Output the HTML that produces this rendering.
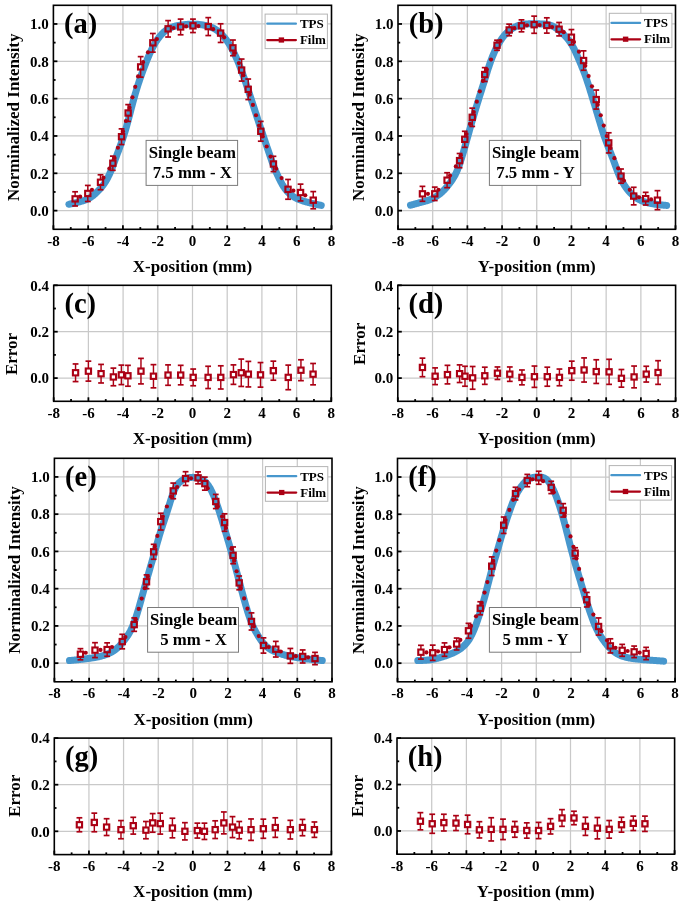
<!DOCTYPE html>
<html><head><meta charset="utf-8"><style>
html,body{margin:0;padding:0;background:#fff;}
svg{display:block;filter:blur(0.35px);}
text{font-family:"Liberation Serif", serif;font-weight:bold;fill:#000;}
.tk{font-size:15px;}
.tt{font-size:17px;}
.pl{font-size:28.5px;}
.bx{font-size:16.8px;}
.lg{font-size:13px;}
</style></head><body>
<svg width="685" height="901" viewBox="0 0 685 901">
<rect width="685" height="901" fill="#fff"/>
<line x1="88.16" y1="5.30" x2="88.16" y2="229.30" stroke="#c9c9c9" stroke-width="1.25"/>
<line x1="122.93" y1="5.30" x2="122.93" y2="229.30" stroke="#c9c9c9" stroke-width="1.25"/>
<line x1="157.69" y1="5.30" x2="157.69" y2="229.30" stroke="#c9c9c9" stroke-width="1.25"/>
<line x1="192.45" y1="5.30" x2="192.45" y2="229.30" stroke="#c9c9c9" stroke-width="1.25"/>
<line x1="227.21" y1="5.30" x2="227.21" y2="229.30" stroke="#c9c9c9" stroke-width="1.25"/>
<line x1="261.98" y1="5.30" x2="261.98" y2="229.30" stroke="#c9c9c9" stroke-width="1.25"/>
<line x1="296.74" y1="5.30" x2="296.74" y2="229.30" stroke="#c9c9c9" stroke-width="1.25"/>
<line x1="53.40" y1="210.63" x2="331.50" y2="210.63" stroke="#c9c9c9" stroke-width="1.25"/>
<line x1="53.40" y1="173.30" x2="331.50" y2="173.30" stroke="#c9c9c9" stroke-width="1.25"/>
<line x1="53.40" y1="135.97" x2="331.50" y2="135.97" stroke="#c9c9c9" stroke-width="1.25"/>
<line x1="53.40" y1="98.63" x2="331.50" y2="98.63" stroke="#c9c9c9" stroke-width="1.25"/>
<line x1="53.40" y1="61.30" x2="331.50" y2="61.30" stroke="#c9c9c9" stroke-width="1.25"/>
<line x1="53.40" y1="23.97" x2="331.50" y2="23.97" stroke="#c9c9c9" stroke-width="1.25"/>
<path d="M68.87,204.30 L69.50,204.16 L70.13,204.02 L70.77,203.88 L71.40,203.74 L72.03,203.60 L72.66,203.46 L73.30,203.32 L73.93,203.17 L74.56,203.03 L75.19,202.88 L75.83,202.73 L76.46,202.57 L77.09,202.42 L77.72,202.26 L78.36,202.10 L78.99,201.93 L79.62,201.76 L80.25,201.59 L80.89,201.41 L81.52,201.23 L82.15,201.05 L82.78,200.86 L83.42,200.66 L84.05,200.45 L84.68,200.23 L85.31,199.99 L85.95,199.75 L86.58,199.48 L87.21,199.21 L87.84,198.91 L88.48,198.60 L89.11,198.26 L89.74,197.91 L90.38,197.53 L91.01,197.12 L91.64,196.69 L92.27,196.23 L92.91,195.75 L93.54,195.23 L94.17,194.69 L94.80,194.12 L95.44,193.54 L96.07,192.93 L96.70,192.32 L97.33,191.69 L97.97,191.06 L98.60,190.41 L99.23,189.75 L99.86,189.08 L100.50,188.38 L101.13,187.66 L101.76,186.91 L102.39,186.13 L103.03,185.31 L103.66,184.45 L104.29,183.55 L104.92,182.60 L105.56,181.61 L106.19,180.56 L106.82,179.45 L107.45,178.29 L108.09,177.07 L108.72,175.79 L109.35,174.45 L109.98,173.05 L110.62,171.59 L111.25,170.08 L111.88,168.51 L112.51,166.91 L113.15,165.26 L113.78,163.58 L114.41,161.88 L115.04,160.15 L115.68,158.41 L116.31,156.67 L116.94,154.92 L117.57,153.18 L118.21,151.44 L118.84,149.71 L119.47,147.99 L120.10,146.26 L120.74,144.51 L121.37,142.74 L122.00,140.94 L122.63,139.10 L123.27,137.21 L123.90,135.28 L124.53,133.28 L125.16,131.21 L125.80,129.06 L126.43,126.84 L127.06,124.56 L127.69,122.23 L128.33,119.85 L128.96,117.44 L129.59,115.01 L130.22,112.57 L130.86,110.12 L131.49,107.68 L132.12,105.27 L132.75,102.88 L133.39,100.53 L134.02,98.22 L134.65,95.97 L135.28,93.78 L135.92,91.63 L136.55,89.53 L137.18,87.47 L137.81,85.46 L138.45,83.49 L139.08,81.57 L139.71,79.68 L140.34,77.83 L140.98,76.01 L141.61,74.23 L142.24,72.48 L142.87,70.76 L143.51,69.06 L144.14,67.40 L144.77,65.75 L145.40,64.13 L146.04,62.53 L146.67,60.95 L147.30,59.38 L147.93,57.84 L148.57,56.32 L149.20,54.84 L149.83,53.41 L150.46,52.01 L151.10,50.66 L151.73,49.36 L152.36,48.10 L152.99,46.89 L153.63,45.72 L154.26,44.59 L154.89,43.50 L155.52,42.45 L156.16,41.44 L156.79,40.47 L157.42,39.54 L158.05,38.65 L158.69,37.79 L159.32,36.98 L159.95,36.19 L160.58,35.45 L161.22,34.73 L161.85,34.05 L162.48,33.40 L163.11,32.79 L163.75,32.21 L164.38,31.65 L165.01,31.13 L165.64,30.64 L166.28,30.18 L166.91,29.74 L167.54,29.33 L168.18,28.95 L168.81,28.59 L169.44,28.26 L170.07,27.95 L170.71,27.67 L171.34,27.40 L171.97,27.15 L172.60,26.93 L173.24,26.71 L173.87,26.52 L174.50,26.34 L175.13,26.17 L175.77,26.02 L176.40,25.88 L177.03,25.75 L177.66,25.63 L178.30,25.51 L178.93,25.40 L179.56,25.30 L180.19,25.20 L180.83,25.11 L181.46,25.02 L182.09,24.93 L182.72,24.85 L183.36,24.77 L183.99,24.70 L184.62,24.62 L185.25,24.56 L185.89,24.49 L186.52,24.44 L187.15,24.38 L187.78,24.34 L188.42,24.29 L189.05,24.25 L189.68,24.22 L190.31,24.20 L190.95,24.17 L191.58,24.16 L192.21,24.15 L192.84,24.15 L193.48,24.15 L194.11,24.16 L194.74,24.18 L195.37,24.20 L196.01,24.23 L196.64,24.26 L197.27,24.30 L197.90,24.35 L198.54,24.41 L199.17,24.47 L199.80,24.54 L200.43,24.61 L201.07,24.70 L201.70,24.79 L202.33,24.88 L202.96,24.99 L203.60,25.10 L204.23,25.21 L204.86,25.34 L205.49,25.47 L206.13,25.61 L206.76,25.77 L207.39,25.93 L208.02,26.10 L208.66,26.29 L209.29,26.49 L209.92,26.71 L210.55,26.94 L211.19,27.18 L211.82,27.45 L212.45,27.73 L213.08,28.03 L213.72,28.35 L214.35,28.69 L214.98,29.05 L215.61,29.43 L216.25,29.84 L216.88,30.27 L217.51,30.72 L218.14,31.20 L218.78,31.71 L219.41,32.24 L220.04,32.80 L220.67,33.38 L221.31,33.99 L221.94,34.63 L222.57,35.30 L223.20,35.99 L223.84,36.72 L224.47,37.47 L225.10,38.26 L225.73,39.08 L226.37,39.93 L227.00,40.81 L227.63,41.72 L228.26,42.67 L228.90,43.65 L229.53,44.66 L230.16,45.71 L230.79,46.79 L231.43,47.91 L232.06,49.07 L232.69,50.26 L233.32,51.49 L233.96,52.76 L234.59,54.07 L235.22,55.41 L235.85,56.80 L236.49,58.22 L237.12,59.69 L237.75,61.19 L238.38,62.73 L239.02,64.31 L239.65,65.92 L240.28,67.56 L240.91,69.22 L241.55,70.92 L242.18,72.65 L242.81,74.40 L243.45,76.17 L244.08,77.96 L244.71,79.77 L245.34,81.60 L245.98,83.45 L246.61,85.31 L247.24,87.19 L247.87,89.07 L248.51,90.97 L249.14,92.88 L249.77,94.80 L250.40,96.72 L251.04,98.66 L251.67,100.59 L252.30,102.53 L252.93,104.47 L253.57,106.42 L254.20,108.36 L254.83,110.31 L255.46,112.25 L256.10,114.19 L256.73,116.14 L257.36,118.07 L257.99,120.01 L258.63,121.94 L259.26,123.87 L259.89,125.80 L260.52,127.72 L261.16,129.63 L261.79,131.54 L262.42,133.44 L263.05,135.34 L263.69,137.23 L264.32,139.11 L264.95,140.98 L265.58,142.84 L266.22,144.69 L266.85,146.54 L267.48,148.39 L268.11,150.23 L268.75,152.07 L269.38,153.91 L270.01,155.75 L270.64,157.60 L271.28,159.43 L271.91,161.25 L272.54,163.02 L273.17,164.73 L273.81,166.38 L274.44,167.98 L275.07,169.52 L275.70,171.02 L276.34,172.47 L276.97,173.89 L277.60,175.27 L278.23,176.62 L278.87,177.95 L279.50,179.25 L280.13,180.52 L280.76,181.76 L281.40,182.95 L282.03,184.09 L282.66,185.18 L283.29,186.21 L283.93,187.18 L284.56,188.10 L285.19,188.96 L285.82,189.78 L286.46,190.55 L287.09,191.28 L287.72,191.96 L288.35,192.61 L288.99,193.21 L289.62,193.79 L290.25,194.33 L290.88,194.85 L291.52,195.34 L292.15,195.80 L292.78,196.24 L293.41,196.65 L294.05,197.05 L294.68,197.42 L295.31,197.77 L295.94,198.11 L296.58,198.42 L297.21,198.72 L297.84,199.01 L298.47,199.28 L299.11,199.55 L299.74,199.80 L300.37,200.04 L301.00,200.27 L301.64,200.49 L302.27,200.71 L302.90,200.92 L303.53,201.12 L304.17,201.32 L304.80,201.51 L305.43,201.69 L306.06,201.87 L306.70,202.05 L307.33,202.22 L307.96,202.39 L308.59,202.55 L309.23,202.71 L309.86,202.87 L310.49,203.02 L311.12,203.17 L311.76,203.32 L312.39,203.47 L313.02,203.62 L313.65,203.76 L314.29,203.90 L314.92,204.04 L315.55,204.19 L316.18,204.32 L316.82,204.46 L317.45,204.60 L318.08,204.74 L318.71,204.87 L319.35,205.01 L319.98,205.14 L320.61,205.28 L321.25,205.41" fill="none" stroke="#4797cd" stroke-width="7" stroke-linecap="round" stroke-linejoin="round"/>
<mask id="mA" maskUnits="userSpaceOnUse" x="0" y="0" width="685" height="901"><rect width="685" height="901" fill="#fff"/><rect x="72.13" y="195.87" width="6.0" height="6.0" fill="#000"/><rect x="84.81" y="190.46" width="6.0" height="6.0" fill="#000"/><rect x="97.50" y="179.26" width="6.0" height="6.0" fill="#000"/><rect x="109.84" y="160.22" width="6.0" height="6.0" fill="#000"/><rect x="118.53" y="133.71" width="6.0" height="6.0" fill="#000"/><rect x="125.14" y="110.01" width="6.0" height="6.0" fill="#000"/><rect x="137.65" y="63.90" width="6.0" height="6.0" fill="#000"/><rect x="149.82" y="39.82" width="6.0" height="6.0" fill="#000"/><rect x="165.12" y="25.82" width="6.0" height="6.0" fill="#000"/><rect x="177.63" y="23.95" width="6.0" height="6.0" fill="#000"/><rect x="189.97" y="22.83" width="6.0" height="6.0" fill="#000"/><rect x="205.27" y="23.58" width="6.0" height="6.0" fill="#000"/><rect x="217.61" y="30.11" width="6.0" height="6.0" fill="#000"/><rect x="229.95" y="44.86" width="6.0" height="6.0" fill="#000"/><rect x="238.64" y="67.07" width="6.0" height="6.0" fill="#000"/><rect x="245.24" y="86.30" width="6.0" height="6.0" fill="#000"/><rect x="257.76" y="128.30" width="6.0" height="6.0" fill="#000"/><rect x="270.45" y="160.97" width="6.0" height="6.0" fill="#000"/><rect x="285.05" y="186.35" width="6.0" height="6.0" fill="#000"/><rect x="297.56" y="189.53" width="6.0" height="6.0" fill="#000"/><rect x="310.25" y="197.18" width="6.0" height="6.0" fill="#000"/></mask>
<g fill="#ab0014" mask="url(#mA)"><circle cx="80.19" cy="196.72" r="2.1"/><circle cx="91.94" cy="189.82" r="2.1"/><circle cx="103.49" cy="177.64" r="2.1"/><circle cx="109.37" cy="168.58" r="2.1"/><circle cx="114.56" cy="157.99" r="2.1"/><circle cx="117.92" cy="147.73" r="2.1"/><circle cx="123.01" cy="131.42" r="2.1"/><circle cx="125.91" cy="121.01" r="2.1"/><circle cx="129.58" cy="107.70" r="2.1"/><circle cx="132.41" cy="97.28" r="2.1"/><circle cx="135.24" cy="86.85" r="2.1"/><circle cx="138.07" cy="76.43" r="2.1"/><circle cx="143.13" cy="61.99" r="2.1"/><circle cx="148.00" cy="52.35" r="2.1"/><circle cx="156.88" cy="39.11" r="2.1"/><circle cx="173.56" cy="28.01" r="2.1"/><circle cx="186.11" cy="26.46" r="2.1"/><circle cx="198.46" cy="26.10" r="2.1"/><circle cx="213.13" cy="29.15" r="2.1"/><circle cx="224.14" cy="37.33" r="2.1"/><circle cx="234.95" cy="52.98" r="2.1"/><circle cx="238.89" cy="63.04" r="2.1"/><circle cx="243.43" cy="75.27" r="2.1"/><circle cx="249.81" cy="94.57" r="2.1"/><circle cx="252.90" cy="104.92" r="2.1"/><circle cx="255.98" cy="115.27" r="2.1"/><circle cx="259.07" cy="125.62" r="2.1"/><circle cx="262.75" cy="136.43" r="2.1"/><circle cx="266.66" cy="146.49" r="2.1"/><circle cx="270.57" cy="156.56" r="2.1"/><circle cx="276.19" cy="168.73" r="2.1"/><circle cx="281.57" cy="178.10" r="2.1"/><circle cx="293.38" cy="190.71" r="2.1"/><circle cx="305.27" cy="195.37" r="2.1"/></g>
<line x1="75.13" y1="191.78" x2="75.13" y2="196.22" stroke="#ab0014" stroke-width="1.45"/>
<line x1="75.13" y1="201.52" x2="75.13" y2="205.97" stroke="#ab0014" stroke-width="1.45"/>
<line x1="72.23" y1="191.78" x2="78.03" y2="191.78" stroke="#ab0014" stroke-width="1.7"/>
<line x1="72.23" y1="205.97" x2="78.03" y2="205.97" stroke="#ab0014" stroke-width="1.7"/>
<rect x="72.48" y="196.22" width="5.3" height="5.3" fill="none" stroke="#ab0014" stroke-width="2.1"/>
<line x1="87.81" y1="185.43" x2="87.81" y2="190.81" stroke="#ab0014" stroke-width="1.45"/>
<line x1="87.81" y1="196.11" x2="87.81" y2="201.49" stroke="#ab0014" stroke-width="1.45"/>
<line x1="84.91" y1="185.43" x2="90.71" y2="185.43" stroke="#ab0014" stroke-width="1.7"/>
<line x1="84.91" y1="201.49" x2="90.71" y2="201.49" stroke="#ab0014" stroke-width="1.7"/>
<rect x="85.16" y="190.81" width="5.3" height="5.3" fill="none" stroke="#ab0014" stroke-width="2.1"/>
<line x1="100.50" y1="174.79" x2="100.50" y2="179.61" stroke="#ab0014" stroke-width="1.45"/>
<line x1="100.50" y1="184.91" x2="100.50" y2="189.73" stroke="#ab0014" stroke-width="1.45"/>
<line x1="97.60" y1="174.79" x2="103.40" y2="174.79" stroke="#ab0014" stroke-width="1.7"/>
<line x1="97.60" y1="189.73" x2="103.40" y2="189.73" stroke="#ab0014" stroke-width="1.7"/>
<rect x="97.85" y="179.61" width="5.3" height="5.3" fill="none" stroke="#ab0014" stroke-width="2.1"/>
<line x1="112.84" y1="156.13" x2="112.84" y2="160.57" stroke="#ab0014" stroke-width="1.45"/>
<line x1="112.84" y1="165.87" x2="112.84" y2="170.31" stroke="#ab0014" stroke-width="1.45"/>
<line x1="109.94" y1="156.13" x2="115.74" y2="156.13" stroke="#ab0014" stroke-width="1.7"/>
<line x1="109.94" y1="170.31" x2="115.74" y2="170.31" stroke="#ab0014" stroke-width="1.7"/>
<rect x="110.19" y="160.57" width="5.3" height="5.3" fill="none" stroke="#ab0014" stroke-width="2.1"/>
<line x1="121.53" y1="128.87" x2="121.53" y2="134.06" stroke="#ab0014" stroke-width="1.45"/>
<line x1="121.53" y1="139.36" x2="121.53" y2="144.55" stroke="#ab0014" stroke-width="1.45"/>
<line x1="118.63" y1="128.87" x2="124.43" y2="128.87" stroke="#ab0014" stroke-width="1.7"/>
<line x1="118.63" y1="144.55" x2="124.43" y2="144.55" stroke="#ab0014" stroke-width="1.7"/>
<rect x="118.88" y="134.06" width="5.3" height="5.3" fill="none" stroke="#ab0014" stroke-width="2.1"/>
<line x1="128.14" y1="104.61" x2="128.14" y2="110.36" stroke="#ab0014" stroke-width="1.45"/>
<line x1="128.14" y1="115.66" x2="128.14" y2="121.41" stroke="#ab0014" stroke-width="1.45"/>
<line x1="125.24" y1="104.61" x2="131.04" y2="104.61" stroke="#ab0014" stroke-width="1.7"/>
<line x1="125.24" y1="121.41" x2="131.04" y2="121.41" stroke="#ab0014" stroke-width="1.7"/>
<rect x="125.49" y="110.36" width="5.3" height="5.3" fill="none" stroke="#ab0014" stroke-width="2.1"/>
<line x1="140.65" y1="56.63" x2="140.65" y2="64.25" stroke="#ab0014" stroke-width="1.45"/>
<line x1="140.65" y1="69.55" x2="140.65" y2="77.17" stroke="#ab0014" stroke-width="1.45"/>
<line x1="137.75" y1="56.63" x2="143.55" y2="56.63" stroke="#ab0014" stroke-width="1.7"/>
<line x1="137.75" y1="77.17" x2="143.55" y2="77.17" stroke="#ab0014" stroke-width="1.7"/>
<rect x="138.00" y="64.25" width="5.3" height="5.3" fill="none" stroke="#ab0014" stroke-width="2.1"/>
<line x1="152.82" y1="33.49" x2="152.82" y2="40.17" stroke="#ab0014" stroke-width="1.45"/>
<line x1="152.82" y1="45.47" x2="152.82" y2="52.15" stroke="#ab0014" stroke-width="1.45"/>
<line x1="149.92" y1="33.49" x2="155.72" y2="33.49" stroke="#ab0014" stroke-width="1.7"/>
<line x1="149.92" y1="52.15" x2="155.72" y2="52.15" stroke="#ab0014" stroke-width="1.7"/>
<rect x="150.17" y="40.17" width="5.3" height="5.3" fill="none" stroke="#ab0014" stroke-width="2.1"/>
<line x1="168.12" y1="20.61" x2="168.12" y2="26.17" stroke="#ab0014" stroke-width="1.45"/>
<line x1="168.12" y1="31.47" x2="168.12" y2="37.03" stroke="#ab0014" stroke-width="1.45"/>
<line x1="165.22" y1="20.61" x2="171.02" y2="20.61" stroke="#ab0014" stroke-width="1.7"/>
<line x1="165.22" y1="37.03" x2="171.02" y2="37.03" stroke="#ab0014" stroke-width="1.7"/>
<rect x="165.47" y="26.17" width="5.3" height="5.3" fill="none" stroke="#ab0014" stroke-width="2.1"/>
<line x1="180.63" y1="19.11" x2="180.63" y2="24.30" stroke="#ab0014" stroke-width="1.45"/>
<line x1="180.63" y1="29.60" x2="180.63" y2="34.79" stroke="#ab0014" stroke-width="1.45"/>
<line x1="177.73" y1="19.11" x2="183.53" y2="19.11" stroke="#ab0014" stroke-width="1.7"/>
<line x1="177.73" y1="34.79" x2="183.53" y2="34.79" stroke="#ab0014" stroke-width="1.7"/>
<rect x="177.98" y="24.30" width="5.3" height="5.3" fill="none" stroke="#ab0014" stroke-width="2.1"/>
<line x1="192.97" y1="19.11" x2="192.97" y2="23.18" stroke="#ab0014" stroke-width="1.45"/>
<line x1="192.97" y1="28.48" x2="192.97" y2="32.55" stroke="#ab0014" stroke-width="1.45"/>
<line x1="190.07" y1="19.11" x2="195.87" y2="19.11" stroke="#ab0014" stroke-width="1.7"/>
<line x1="190.07" y1="32.55" x2="195.87" y2="32.55" stroke="#ab0014" stroke-width="1.7"/>
<rect x="190.32" y="23.18" width="5.3" height="5.3" fill="none" stroke="#ab0014" stroke-width="2.1"/>
<line x1="208.27" y1="17.62" x2="208.27" y2="23.93" stroke="#ab0014" stroke-width="1.45"/>
<line x1="208.27" y1="29.23" x2="208.27" y2="35.54" stroke="#ab0014" stroke-width="1.45"/>
<line x1="205.37" y1="17.62" x2="211.17" y2="17.62" stroke="#ab0014" stroke-width="1.7"/>
<line x1="205.37" y1="35.54" x2="211.17" y2="35.54" stroke="#ab0014" stroke-width="1.7"/>
<rect x="205.62" y="23.93" width="5.3" height="5.3" fill="none" stroke="#ab0014" stroke-width="2.1"/>
<line x1="220.61" y1="23.78" x2="220.61" y2="30.46" stroke="#ab0014" stroke-width="1.45"/>
<line x1="220.61" y1="35.76" x2="220.61" y2="42.45" stroke="#ab0014" stroke-width="1.45"/>
<line x1="217.71" y1="23.78" x2="223.51" y2="23.78" stroke="#ab0014" stroke-width="1.7"/>
<line x1="217.71" y1="42.45" x2="223.51" y2="42.45" stroke="#ab0014" stroke-width="1.7"/>
<rect x="217.96" y="30.46" width="5.3" height="5.3" fill="none" stroke="#ab0014" stroke-width="2.1"/>
<line x1="232.95" y1="40.02" x2="232.95" y2="45.21" stroke="#ab0014" stroke-width="1.45"/>
<line x1="232.95" y1="50.51" x2="232.95" y2="55.70" stroke="#ab0014" stroke-width="1.45"/>
<line x1="230.05" y1="40.02" x2="235.85" y2="40.02" stroke="#ab0014" stroke-width="1.7"/>
<line x1="230.05" y1="55.70" x2="235.85" y2="55.70" stroke="#ab0014" stroke-width="1.7"/>
<rect x="230.30" y="45.21" width="5.3" height="5.3" fill="none" stroke="#ab0014" stroke-width="2.1"/>
<line x1="241.64" y1="59.06" x2="241.64" y2="67.42" stroke="#ab0014" stroke-width="1.45"/>
<line x1="241.64" y1="72.72" x2="241.64" y2="81.09" stroke="#ab0014" stroke-width="1.45"/>
<line x1="238.74" y1="59.06" x2="244.54" y2="59.06" stroke="#ab0014" stroke-width="1.7"/>
<line x1="238.74" y1="81.09" x2="244.54" y2="81.09" stroke="#ab0014" stroke-width="1.7"/>
<rect x="238.99" y="67.42" width="5.3" height="5.3" fill="none" stroke="#ab0014" stroke-width="2.1"/>
<line x1="248.24" y1="79.03" x2="248.24" y2="86.65" stroke="#ab0014" stroke-width="1.45"/>
<line x1="248.24" y1="91.95" x2="248.24" y2="99.57" stroke="#ab0014" stroke-width="1.45"/>
<line x1="245.34" y1="79.03" x2="251.14" y2="79.03" stroke="#ab0014" stroke-width="1.7"/>
<line x1="245.34" y1="99.57" x2="251.14" y2="99.57" stroke="#ab0014" stroke-width="1.7"/>
<rect x="245.59" y="86.65" width="5.3" height="5.3" fill="none" stroke="#ab0014" stroke-width="2.1"/>
<line x1="260.76" y1="121.41" x2="260.76" y2="128.65" stroke="#ab0014" stroke-width="1.45"/>
<line x1="260.76" y1="133.95" x2="260.76" y2="141.19" stroke="#ab0014" stroke-width="1.45"/>
<line x1="257.86" y1="121.41" x2="263.66" y2="121.41" stroke="#ab0014" stroke-width="1.7"/>
<line x1="257.86" y1="141.19" x2="263.66" y2="141.19" stroke="#ab0014" stroke-width="1.7"/>
<rect x="258.11" y="128.65" width="5.3" height="5.3" fill="none" stroke="#ab0014" stroke-width="2.1"/>
<line x1="273.45" y1="156.31" x2="273.45" y2="161.32" stroke="#ab0014" stroke-width="1.45"/>
<line x1="273.45" y1="166.62" x2="273.45" y2="171.62" stroke="#ab0014" stroke-width="1.45"/>
<line x1="270.55" y1="156.31" x2="276.35" y2="156.31" stroke="#ab0014" stroke-width="1.7"/>
<line x1="270.55" y1="171.62" x2="276.35" y2="171.62" stroke="#ab0014" stroke-width="1.7"/>
<rect x="270.80" y="161.32" width="5.3" height="5.3" fill="none" stroke="#ab0014" stroke-width="2.1"/>
<line x1="288.05" y1="179.46" x2="288.05" y2="186.70" stroke="#ab0014" stroke-width="1.45"/>
<line x1="288.05" y1="192.00" x2="288.05" y2="199.25" stroke="#ab0014" stroke-width="1.45"/>
<line x1="285.15" y1="179.46" x2="290.95" y2="179.46" stroke="#ab0014" stroke-width="1.7"/>
<line x1="285.15" y1="199.25" x2="290.95" y2="199.25" stroke="#ab0014" stroke-width="1.7"/>
<rect x="285.40" y="186.70" width="5.3" height="5.3" fill="none" stroke="#ab0014" stroke-width="2.1"/>
<line x1="300.56" y1="184.13" x2="300.56" y2="189.88" stroke="#ab0014" stroke-width="1.45"/>
<line x1="300.56" y1="195.18" x2="300.56" y2="200.93" stroke="#ab0014" stroke-width="1.45"/>
<line x1="297.66" y1="184.13" x2="303.46" y2="184.13" stroke="#ab0014" stroke-width="1.7"/>
<line x1="297.66" y1="200.93" x2="303.46" y2="200.93" stroke="#ab0014" stroke-width="1.7"/>
<rect x="297.91" y="189.88" width="5.3" height="5.3" fill="none" stroke="#ab0014" stroke-width="2.1"/>
<line x1="313.25" y1="191.59" x2="313.25" y2="197.53" stroke="#ab0014" stroke-width="1.45"/>
<line x1="313.25" y1="202.83" x2="313.25" y2="208.77" stroke="#ab0014" stroke-width="1.45"/>
<line x1="310.35" y1="191.59" x2="316.15" y2="191.59" stroke="#ab0014" stroke-width="1.7"/>
<line x1="310.35" y1="208.77" x2="316.15" y2="208.77" stroke="#ab0014" stroke-width="1.7"/>
<rect x="310.60" y="197.53" width="5.3" height="5.3" fill="none" stroke="#ab0014" stroke-width="2.1"/>
<rect x="146.1" y="140.4" width="91.50" height="45.00" fill="#fff" stroke="#7a7a7a" stroke-width="1"/>
<text x="192.35" y="157.60" text-anchor="middle" class="bx">Single beam</text>
<text x="192.35" y="177.80" text-anchor="middle" class="bx">7.5 mm - X</text>
<rect x="265.1" y="14.1" width="62.30" height="34.50" fill="#fff" stroke="#b4b4b4" stroke-width="1"/>
<line x1="267.30" y1="23.70" x2="295.90" y2="23.70" stroke="#4797cd" stroke-width="2.3" stroke-linecap="round"/>
<line x1="267.30" y1="40.10" x2="295.90" y2="40.10" stroke="#ab0014" stroke-width="2.3" stroke-linecap="round"/>
<rect x="278.70" y="37.40" width="5.4" height="5.2" fill="#ab0014"/>
<text x="299.90" y="28.10" class="lg">TPS</text>
<text x="299.90" y="44.10" class="lg">Film</text>
<line x1="53.40" y1="229.30" x2="53.40" y2="225.30" stroke="#000" stroke-width="1.8"/>
<line x1="88.16" y1="229.30" x2="88.16" y2="225.30" stroke="#000" stroke-width="1.8"/>
<line x1="122.93" y1="229.30" x2="122.93" y2="225.30" stroke="#000" stroke-width="1.8"/>
<line x1="157.69" y1="229.30" x2="157.69" y2="225.30" stroke="#000" stroke-width="1.8"/>
<line x1="192.45" y1="229.30" x2="192.45" y2="225.30" stroke="#000" stroke-width="1.8"/>
<line x1="227.21" y1="229.30" x2="227.21" y2="225.30" stroke="#000" stroke-width="1.8"/>
<line x1="261.98" y1="229.30" x2="261.98" y2="225.30" stroke="#000" stroke-width="1.8"/>
<line x1="296.74" y1="229.30" x2="296.74" y2="225.30" stroke="#000" stroke-width="1.8"/>
<line x1="331.50" y1="229.30" x2="331.50" y2="225.30" stroke="#000" stroke-width="1.8"/>
<line x1="70.78" y1="229.30" x2="70.78" y2="227.10" stroke="#000" stroke-width="1.8"/>
<line x1="105.54" y1="229.30" x2="105.54" y2="227.10" stroke="#000" stroke-width="1.8"/>
<line x1="140.31" y1="229.30" x2="140.31" y2="227.10" stroke="#000" stroke-width="1.8"/>
<line x1="175.07" y1="229.30" x2="175.07" y2="227.10" stroke="#000" stroke-width="1.8"/>
<line x1="209.83" y1="229.30" x2="209.83" y2="227.10" stroke="#000" stroke-width="1.8"/>
<line x1="244.59" y1="229.30" x2="244.59" y2="227.10" stroke="#000" stroke-width="1.8"/>
<line x1="279.36" y1="229.30" x2="279.36" y2="227.10" stroke="#000" stroke-width="1.8"/>
<line x1="314.12" y1="229.30" x2="314.12" y2="227.10" stroke="#000" stroke-width="1.8"/>
<line x1="53.40" y1="210.63" x2="57.40" y2="210.63" stroke="#000" stroke-width="1.8"/>
<line x1="53.40" y1="173.30" x2="57.40" y2="173.30" stroke="#000" stroke-width="1.8"/>
<line x1="53.40" y1="135.97" x2="57.40" y2="135.97" stroke="#000" stroke-width="1.8"/>
<line x1="53.40" y1="98.63" x2="57.40" y2="98.63" stroke="#000" stroke-width="1.8"/>
<line x1="53.40" y1="61.30" x2="57.40" y2="61.30" stroke="#000" stroke-width="1.8"/>
<line x1="53.40" y1="23.97" x2="57.40" y2="23.97" stroke="#000" stroke-width="1.8"/>
<line x1="53.40" y1="191.97" x2="55.60" y2="191.97" stroke="#000" stroke-width="1.8"/>
<line x1="53.40" y1="154.63" x2="55.60" y2="154.63" stroke="#000" stroke-width="1.8"/>
<line x1="53.40" y1="117.30" x2="55.60" y2="117.30" stroke="#000" stroke-width="1.8"/>
<line x1="53.40" y1="79.97" x2="55.60" y2="79.97" stroke="#000" stroke-width="1.8"/>
<line x1="53.40" y1="42.63" x2="55.60" y2="42.63" stroke="#000" stroke-width="1.8"/>
<rect x="53.40" y="5.30" width="278.10" height="224.00" fill="none" stroke="#000" stroke-width="1.6"/>
<text x="48.80" y="215.93" text-anchor="end" class="tk">0.0</text>
<text x="48.80" y="178.60" text-anchor="end" class="tk">0.2</text>
<text x="48.80" y="141.27" text-anchor="end" class="tk">0.4</text>
<text x="48.80" y="103.93" text-anchor="end" class="tk">0.6</text>
<text x="48.80" y="66.60" text-anchor="end" class="tk">0.8</text>
<text x="48.80" y="29.27" text-anchor="end" class="tk">1.0</text>
<text x="53.40" y="245.90" text-anchor="middle" class="tk">-8</text>
<text x="88.16" y="245.90" text-anchor="middle" class="tk">-6</text>
<text x="122.93" y="245.90" text-anchor="middle" class="tk">-4</text>
<text x="157.69" y="245.90" text-anchor="middle" class="tk">-2</text>
<text x="192.45" y="245.90" text-anchor="middle" class="tk">0</text>
<text x="227.21" y="245.90" text-anchor="middle" class="tk">2</text>
<text x="261.98" y="245.90" text-anchor="middle" class="tk">4</text>
<text x="296.74" y="245.90" text-anchor="middle" class="tk">6</text>
<text x="331.50" y="245.90" text-anchor="middle" class="tk">8</text>
<text x="64.10" y="33.10" class="pl">(a)</text>
<text transform="translate(19.00,117.30) rotate(-90)" text-anchor="middle" class="tt">Norminalized Intensity</text>
<text x="192.45" y="272.00" text-anchor="middle" class="tt">X-position (mm)</text>
<line x1="432.69" y1="5.30" x2="432.69" y2="229.30" stroke="#c9c9c9" stroke-width="1.25"/>
<line x1="467.38" y1="5.30" x2="467.38" y2="229.30" stroke="#c9c9c9" stroke-width="1.25"/>
<line x1="502.06" y1="5.30" x2="502.06" y2="229.30" stroke="#c9c9c9" stroke-width="1.25"/>
<line x1="536.75" y1="5.30" x2="536.75" y2="229.30" stroke="#c9c9c9" stroke-width="1.25"/>
<line x1="571.44" y1="5.30" x2="571.44" y2="229.30" stroke="#c9c9c9" stroke-width="1.25"/>
<line x1="606.12" y1="5.30" x2="606.12" y2="229.30" stroke="#c9c9c9" stroke-width="1.25"/>
<line x1="640.81" y1="5.30" x2="640.81" y2="229.30" stroke="#c9c9c9" stroke-width="1.25"/>
<line x1="398.00" y1="210.63" x2="675.50" y2="210.63" stroke="#c9c9c9" stroke-width="1.25"/>
<line x1="398.00" y1="173.30" x2="675.50" y2="173.30" stroke="#c9c9c9" stroke-width="1.25"/>
<line x1="398.00" y1="135.97" x2="675.50" y2="135.97" stroke="#c9c9c9" stroke-width="1.25"/>
<line x1="398.00" y1="98.63" x2="675.50" y2="98.63" stroke="#c9c9c9" stroke-width="1.25"/>
<line x1="398.00" y1="61.30" x2="675.50" y2="61.30" stroke="#c9c9c9" stroke-width="1.25"/>
<line x1="398.00" y1="23.97" x2="675.50" y2="23.97" stroke="#c9c9c9" stroke-width="1.25"/>
<path d="M410.49,205.22 L411.13,205.04 L411.77,204.86 L412.41,204.69 L413.06,204.51 L413.70,204.33 L414.34,204.15 L414.98,203.98 L415.62,203.80 L416.27,203.62 L416.91,203.45 L417.55,203.27 L418.19,203.09 L418.83,202.92 L419.48,202.74 L420.12,202.56 L420.76,202.39 L421.40,202.21 L422.04,202.03 L422.69,201.86 L423.33,201.68 L423.97,201.51 L424.61,201.33 L425.25,201.14 L425.90,200.96 L426.54,200.77 L427.18,200.57 L427.82,200.36 L428.46,200.15 L429.11,199.92 L429.75,199.69 L430.39,199.44 L431.03,199.18 L431.67,198.91 L432.32,198.62 L432.96,198.31 L433.60,197.99 L434.24,197.66 L434.88,197.30 L435.53,196.93 L436.17,196.53 L436.81,196.12 L437.45,195.69 L438.09,195.24 L438.74,194.77 L439.38,194.27 L440.02,193.76 L440.66,193.22 L441.30,192.66 L441.95,192.08 L442.59,191.48 L443.23,190.85 L443.87,190.20 L444.51,189.53 L445.16,188.83 L445.80,188.12 L446.44,187.38 L447.08,186.62 L447.72,185.84 L448.37,185.04 L449.01,184.22 L449.65,183.38 L450.29,182.51 L450.93,181.62 L451.58,180.69 L452.22,179.74 L452.86,178.76 L453.50,177.73 L454.15,176.66 L454.79,175.52 L455.43,174.30 L456.07,173.00 L456.71,171.59 L457.36,170.08 L458.00,168.48 L458.64,166.78 L459.28,165.00 L459.92,163.14 L460.57,161.20 L461.21,159.20 L461.85,157.15 L462.49,155.04 L463.13,152.89 L463.78,150.69 L464.42,148.47 L465.06,146.22 L465.70,143.95 L466.34,141.66 L466.99,139.36 L467.63,137.05 L468.27,134.74 L468.91,132.44 L469.55,130.15 L470.20,127.87 L470.84,125.60 L471.48,123.36 L472.12,121.13 L472.76,118.91 L473.41,116.72 L474.05,114.53 L474.69,112.37 L475.33,110.21 L475.97,108.07 L476.62,105.95 L477.26,103.84 L477.90,101.74 L478.54,99.65 L479.18,97.57 L479.83,95.50 L480.47,93.44 L481.11,91.39 L481.75,89.34 L482.39,87.29 L483.04,85.24 L483.68,83.19 L484.32,81.13 L484.96,79.06 L485.60,76.99 L486.25,74.92 L486.89,72.85 L487.53,70.81 L488.17,68.79 L488.81,66.81 L489.46,64.88 L490.10,63.00 L490.74,61.18 L491.38,59.44 L492.02,57.76 L492.67,56.14 L493.31,54.58 L493.95,53.08 L494.59,51.63 L495.23,50.23 L495.88,48.89 L496.52,47.59 L497.16,46.35 L497.80,45.15 L498.44,44.00 L499.09,42.90 L499.73,41.84 L500.37,40.82 L501.01,39.85 L501.65,38.92 L502.30,38.03 L502.94,37.17 L503.58,36.36 L504.22,35.58 L504.86,34.84 L505.51,34.13 L506.15,33.46 L506.79,32.82 L507.43,32.21 L508.07,31.63 L508.72,31.08 L509.36,30.56 L510.00,30.06 L510.64,29.59 L511.29,29.15 L511.93,28.72 L512.57,28.32 L513.21,27.95 L513.85,27.59 L514.50,27.25 L515.14,26.94 L515.78,26.64 L516.42,26.36 L517.06,26.10 L517.71,25.86 L518.35,25.63 L518.99,25.42 L519.63,25.23 L520.27,25.05 L520.92,24.89 L521.56,24.74 L522.20,24.60 L522.84,24.48 L523.48,24.37 L524.13,24.27 L524.77,24.18 L525.41,24.10 L526.05,24.04 L526.69,23.98 L527.34,23.93 L527.98,23.89 L528.62,23.86 L529.26,23.83 L529.90,23.81 L530.55,23.80 L531.19,23.79 L531.83,23.78 L532.47,23.78 L533.11,23.79 L533.76,23.79 L534.40,23.80 L535.04,23.81 L535.68,23.82 L536.32,23.83 L536.97,23.84 L537.61,23.85 L538.25,23.86 L538.89,23.87 L539.53,23.87 L540.18,23.88 L540.82,23.90 L541.46,23.91 L542.10,23.93 L542.74,23.96 L543.39,24.00 L544.03,24.05 L544.67,24.10 L545.31,24.17 L545.95,24.25 L546.60,24.35 L547.24,24.46 L547.88,24.59 L548.52,24.74 L549.16,24.91 L549.81,25.10 L550.45,25.31 L551.09,25.54 L551.73,25.80 L552.37,26.08 L553.02,26.38 L553.66,26.70 L554.30,27.05 L554.94,27.42 L555.58,27.81 L556.23,28.23 L556.87,28.66 L557.51,29.12 L558.15,29.59 L558.79,30.09 L559.44,30.60 L560.08,31.14 L560.72,31.69 L561.36,32.27 L562.00,32.86 L562.65,33.47 L563.29,34.10 L563.93,34.74 L564.57,35.41 L565.22,36.09 L565.86,36.79 L566.50,37.51 L567.14,38.26 L567.78,39.03 L568.43,39.84 L569.07,40.69 L569.71,41.57 L570.35,42.50 L570.99,43.47 L571.64,44.50 L572.28,45.57 L572.92,46.71 L573.56,47.90 L574.20,49.15 L574.85,50.45 L575.49,51.81 L576.13,53.22 L576.77,54.66 L577.41,56.13 L578.06,57.63 L578.70,59.14 L579.34,60.66 L579.98,62.18 L580.62,63.70 L581.27,65.24 L581.91,66.80 L582.55,68.37 L583.19,69.98 L583.83,71.63 L584.48,73.32 L585.12,75.06 L585.76,76.85 L586.40,78.70 L587.04,80.60 L587.69,82.53 L588.33,84.51 L588.97,86.52 L589.61,88.56 L590.25,90.62 L590.90,92.70 L591.54,94.80 L592.18,96.90 L592.82,99.00 L593.46,101.11 L594.11,103.21 L594.75,105.32 L595.39,107.42 L596.03,109.54 L596.67,111.66 L597.32,113.78 L597.96,115.91 L598.60,118.05 L599.24,120.20 L599.88,122.34 L600.53,124.47 L601.17,126.59 L601.81,128.67 L602.45,130.72 L603.09,132.72 L603.74,134.67 L604.38,136.55 L605.02,138.38 L605.66,140.16 L606.30,141.90 L606.95,143.59 L607.59,145.26 L608.23,146.90 L608.87,148.52 L609.51,150.13 L610.16,151.74 L610.80,153.35 L611.44,154.97 L612.08,156.61 L612.72,158.27 L613.37,159.96 L614.01,161.69 L614.65,163.46 L615.29,165.24 L615.93,167.03 L616.58,168.79 L617.22,170.51 L617.86,172.17 L618.50,173.76 L619.14,175.27 L619.79,176.70 L620.43,178.07 L621.07,179.37 L621.71,180.62 L622.36,181.80 L623.00,182.93 L623.64,184.01 L624.28,185.04 L624.92,186.03 L625.57,186.98 L626.21,187.89 L626.85,188.76 L627.49,189.59 L628.13,190.39 L628.78,191.16 L629.42,191.89 L630.06,192.59 L630.70,193.26 L631.34,193.90 L631.99,194.51 L632.63,195.09 L633.27,195.65 L633.91,196.17 L634.55,196.67 L635.20,197.15 L635.84,197.60 L636.48,198.03 L637.12,198.43 L637.76,198.82 L638.41,199.18 L639.05,199.53 L639.69,199.85 L640.33,200.16 L640.97,200.45 L641.62,200.73 L642.26,200.99 L642.90,201.24 L643.54,201.47 L644.18,201.70 L644.83,201.91 L645.47,202.11 L646.11,202.30 L646.75,202.48 L647.39,202.66 L648.04,202.83 L648.68,202.99 L649.32,203.14 L649.96,203.28 L650.60,203.42 L651.25,203.55 L651.89,203.68 L652.53,203.80 L653.17,203.91 L653.81,204.02 L654.46,204.12 L655.10,204.22 L655.74,204.31 L656.38,204.40 L657.02,204.49 L657.67,204.57 L658.31,204.64 L658.95,204.72 L659.59,204.79 L660.23,204.85 L660.88,204.92 L661.52,204.98 L662.16,205.04 L662.80,205.10 L663.44,205.15 L664.09,205.21 L664.73,205.26 L665.37,205.32 L666.01,205.37 L666.65,205.42" fill="none" stroke="#4797cd" stroke-width="7" stroke-linecap="round" stroke-linejoin="round"/>
<mask id="mB" maskUnits="userSpaceOnUse" x="0" y="0" width="685" height="901"><rect width="685" height="901" fill="#fff"/><rect x="419.45" y="190.83" width="6.0" height="6.0" fill="#000"/><rect x="431.77" y="190.83" width="6.0" height="6.0" fill="#000"/><rect x="444.08" y="177.21" width="6.0" height="6.0" fill="#000"/><rect x="456.57" y="157.61" width="6.0" height="6.0" fill="#000"/><rect x="461.77" y="136.33" width="6.0" height="6.0" fill="#000"/><rect x="469.23" y="114.30" width="6.0" height="6.0" fill="#000"/><rect x="481.72" y="71.55" width="6.0" height="6.0" fill="#000"/><rect x="494.03" y="42.25" width="6.0" height="6.0" fill="#000"/><rect x="506.17" y="26.94" width="6.0" height="6.0" fill="#000"/><rect x="518.49" y="22.83" width="6.0" height="6.0" fill="#000"/><rect x="531.15" y="21.71" width="6.0" height="6.0" fill="#000"/><rect x="543.81" y="22.46" width="6.0" height="6.0" fill="#000"/><rect x="556.12" y="26.19" width="6.0" height="6.0" fill="#000"/><rect x="568.44" y="34.22" width="6.0" height="6.0" fill="#000"/><rect x="580.58" y="57.55" width="6.0" height="6.0" fill="#000"/><rect x="593.24" y="96.57" width="6.0" height="6.0" fill="#000"/><rect x="605.73" y="139.87" width="6.0" height="6.0" fill="#000"/><rect x="618.04" y="173.10" width="6.0" height="6.0" fill="#000"/><rect x="630.70" y="193.07" width="6.0" height="6.0" fill="#000"/><rect x="642.67" y="195.69" width="6.0" height="6.0" fill="#000"/><rect x="654.46" y="197.18" width="6.0" height="6.0" fill="#000"/></mask>
<g fill="#ab0014" mask="url(#mB)"><circle cx="427.95" cy="193.83" r="2.1"/><circle cx="438.46" cy="189.75" r="2.1"/><circle cx="450.04" cy="175.57" r="2.1"/><circle cx="455.84" cy="166.46" r="2.1"/><circle cx="460.88" cy="155.26" r="2.1"/><circle cx="466.54" cy="134.12" r="2.1"/><circle cx="470.00" cy="123.89" r="2.1"/><circle cx="473.77" cy="112.02" r="2.1"/><circle cx="476.80" cy="101.65" r="2.1"/><circle cx="479.83" cy="91.29" r="2.1"/><circle cx="482.86" cy="80.92" r="2.1"/><circle cx="486.85" cy="69.48" r="2.1"/><circle cx="491.03" cy="59.53" r="2.1"/><circle cx="500.45" cy="40.94" r="2.1"/><circle cx="514.39" cy="28.20" r="2.1"/><circle cx="526.97" cy="25.35" r="2.1"/><circle cx="539.64" cy="25.04" r="2.1"/><circle cx="552.07" cy="27.06" r="2.1"/><circle cx="563.73" cy="32.20" r="2.1"/><circle cx="573.98" cy="42.10" r="2.1"/><circle cx="578.96" cy="51.68" r="2.1"/><circle cx="585.28" cy="65.78" r="2.1"/><circle cx="588.61" cy="76.06" r="2.1"/><circle cx="591.94" cy="86.33" r="2.1"/><circle cx="597.76" cy="104.85" r="2.1"/><circle cx="600.76" cy="115.23" r="2.1"/><circle cx="603.75" cy="125.61" r="2.1"/><circle cx="606.74" cy="135.98" r="2.1"/><circle cx="610.64" cy="148.03" r="2.1"/><circle cx="614.39" cy="158.16" r="2.1"/><circle cx="618.14" cy="168.28" r="2.1"/><circle cx="623.99" cy="180.75" r="2.1"/><circle cx="629.77" cy="189.87" r="2.1"/><circle cx="639.07" cy="197.25" r="2.1"/><circle cx="651.13" cy="199.38" r="2.1"/></g>
<line x1="422.45" y1="186.37" x2="422.45" y2="191.18" stroke="#ab0014" stroke-width="1.45"/>
<line x1="422.45" y1="196.48" x2="422.45" y2="201.30" stroke="#ab0014" stroke-width="1.45"/>
<line x1="419.55" y1="186.37" x2="425.35" y2="186.37" stroke="#ab0014" stroke-width="1.7"/>
<line x1="419.55" y1="201.30" x2="425.35" y2="201.30" stroke="#ab0014" stroke-width="1.7"/>
<rect x="419.80" y="191.18" width="5.3" height="5.3" fill="none" stroke="#ab0014" stroke-width="2.1"/>
<line x1="434.77" y1="187.11" x2="434.77" y2="191.18" stroke="#ab0014" stroke-width="1.45"/>
<line x1="434.77" y1="196.48" x2="434.77" y2="200.55" stroke="#ab0014" stroke-width="1.45"/>
<line x1="431.87" y1="187.11" x2="437.67" y2="187.11" stroke="#ab0014" stroke-width="1.7"/>
<line x1="431.87" y1="200.55" x2="437.67" y2="200.55" stroke="#ab0014" stroke-width="1.7"/>
<rect x="432.12" y="191.18" width="5.3" height="5.3" fill="none" stroke="#ab0014" stroke-width="2.1"/>
<line x1="447.08" y1="172.74" x2="447.08" y2="177.56" stroke="#ab0014" stroke-width="1.45"/>
<line x1="447.08" y1="182.86" x2="447.08" y2="187.67" stroke="#ab0014" stroke-width="1.45"/>
<line x1="444.18" y1="172.74" x2="449.98" y2="172.74" stroke="#ab0014" stroke-width="1.7"/>
<line x1="444.18" y1="187.67" x2="449.98" y2="187.67" stroke="#ab0014" stroke-width="1.7"/>
<rect x="444.43" y="177.56" width="5.3" height="5.3" fill="none" stroke="#ab0014" stroke-width="2.1"/>
<line x1="459.57" y1="153.51" x2="459.57" y2="157.96" stroke="#ab0014" stroke-width="1.45"/>
<line x1="459.57" y1="163.26" x2="459.57" y2="167.70" stroke="#ab0014" stroke-width="1.45"/>
<line x1="456.67" y1="153.51" x2="462.47" y2="153.51" stroke="#ab0014" stroke-width="1.7"/>
<line x1="456.67" y1="167.70" x2="462.47" y2="167.70" stroke="#ab0014" stroke-width="1.7"/>
<rect x="456.92" y="157.96" width="5.3" height="5.3" fill="none" stroke="#ab0014" stroke-width="2.1"/>
<line x1="464.77" y1="131.30" x2="464.77" y2="136.68" stroke="#ab0014" stroke-width="1.45"/>
<line x1="464.77" y1="141.98" x2="464.77" y2="147.35" stroke="#ab0014" stroke-width="1.45"/>
<line x1="461.87" y1="131.30" x2="467.67" y2="131.30" stroke="#ab0014" stroke-width="1.7"/>
<line x1="461.87" y1="147.35" x2="467.67" y2="147.35" stroke="#ab0014" stroke-width="1.7"/>
<rect x="462.12" y="136.68" width="5.3" height="5.3" fill="none" stroke="#ab0014" stroke-width="2.1"/>
<line x1="472.23" y1="108.15" x2="472.23" y2="114.65" stroke="#ab0014" stroke-width="1.45"/>
<line x1="472.23" y1="119.95" x2="472.23" y2="126.45" stroke="#ab0014" stroke-width="1.45"/>
<line x1="469.33" y1="108.15" x2="475.13" y2="108.15" stroke="#ab0014" stroke-width="1.7"/>
<line x1="469.33" y1="126.45" x2="475.13" y2="126.45" stroke="#ab0014" stroke-width="1.7"/>
<rect x="469.58" y="114.65" width="5.3" height="5.3" fill="none" stroke="#ab0014" stroke-width="2.1"/>
<line x1="484.72" y1="67.65" x2="484.72" y2="71.90" stroke="#ab0014" stroke-width="1.45"/>
<line x1="484.72" y1="77.20" x2="484.72" y2="81.46" stroke="#ab0014" stroke-width="1.45"/>
<line x1="481.82" y1="67.65" x2="487.62" y2="67.65" stroke="#ab0014" stroke-width="1.7"/>
<line x1="481.82" y1="81.46" x2="487.62" y2="81.46" stroke="#ab0014" stroke-width="1.7"/>
<rect x="482.07" y="71.90" width="5.3" height="5.3" fill="none" stroke="#ab0014" stroke-width="2.1"/>
<line x1="497.03" y1="40.21" x2="497.03" y2="42.60" stroke="#ab0014" stroke-width="1.45"/>
<line x1="497.03" y1="47.90" x2="497.03" y2="50.29" stroke="#ab0014" stroke-width="1.45"/>
<line x1="494.13" y1="40.21" x2="499.93" y2="40.21" stroke="#ab0014" stroke-width="1.7"/>
<line x1="494.13" y1="50.29" x2="499.93" y2="50.29" stroke="#ab0014" stroke-width="1.7"/>
<rect x="494.38" y="42.60" width="5.3" height="5.3" fill="none" stroke="#ab0014" stroke-width="2.1"/>
<line x1="509.17" y1="24.15" x2="509.17" y2="27.29" stroke="#ab0014" stroke-width="1.45"/>
<line x1="509.17" y1="32.59" x2="509.17" y2="35.73" stroke="#ab0014" stroke-width="1.45"/>
<line x1="506.27" y1="24.15" x2="512.07" y2="24.15" stroke="#ab0014" stroke-width="1.7"/>
<line x1="506.27" y1="35.73" x2="512.07" y2="35.73" stroke="#ab0014" stroke-width="1.7"/>
<rect x="506.52" y="27.29" width="5.3" height="5.3" fill="none" stroke="#ab0014" stroke-width="2.1"/>
<line x1="521.49" y1="19.86" x2="521.49" y2="23.18" stroke="#ab0014" stroke-width="1.45"/>
<line x1="521.49" y1="28.48" x2="521.49" y2="31.81" stroke="#ab0014" stroke-width="1.45"/>
<line x1="518.59" y1="19.86" x2="524.39" y2="19.86" stroke="#ab0014" stroke-width="1.7"/>
<line x1="518.59" y1="31.81" x2="524.39" y2="31.81" stroke="#ab0014" stroke-width="1.7"/>
<rect x="518.84" y="23.18" width="5.3" height="5.3" fill="none" stroke="#ab0014" stroke-width="2.1"/>
<line x1="534.15" y1="16.13" x2="534.15" y2="22.06" stroke="#ab0014" stroke-width="1.45"/>
<line x1="534.15" y1="27.36" x2="534.15" y2="33.30" stroke="#ab0014" stroke-width="1.45"/>
<line x1="531.25" y1="16.13" x2="537.05" y2="16.13" stroke="#ab0014" stroke-width="1.7"/>
<line x1="531.25" y1="33.30" x2="537.05" y2="33.30" stroke="#ab0014" stroke-width="1.7"/>
<rect x="531.50" y="22.06" width="5.3" height="5.3" fill="none" stroke="#ab0014" stroke-width="2.1"/>
<line x1="546.81" y1="17.81" x2="546.81" y2="22.81" stroke="#ab0014" stroke-width="1.45"/>
<line x1="546.81" y1="28.11" x2="546.81" y2="33.11" stroke="#ab0014" stroke-width="1.45"/>
<line x1="543.91" y1="17.81" x2="549.71" y2="17.81" stroke="#ab0014" stroke-width="1.7"/>
<line x1="543.91" y1="33.11" x2="549.71" y2="33.11" stroke="#ab0014" stroke-width="1.7"/>
<rect x="544.16" y="22.81" width="5.3" height="5.3" fill="none" stroke="#ab0014" stroke-width="2.1"/>
<line x1="559.12" y1="22.47" x2="559.12" y2="26.54" stroke="#ab0014" stroke-width="1.45"/>
<line x1="559.12" y1="31.84" x2="559.12" y2="35.91" stroke="#ab0014" stroke-width="1.45"/>
<line x1="556.22" y1="22.47" x2="562.02" y2="22.47" stroke="#ab0014" stroke-width="1.7"/>
<line x1="556.22" y1="35.91" x2="562.02" y2="35.91" stroke="#ab0014" stroke-width="1.7"/>
<rect x="556.47" y="26.54" width="5.3" height="5.3" fill="none" stroke="#ab0014" stroke-width="2.1"/>
<line x1="571.44" y1="29.57" x2="571.44" y2="34.57" stroke="#ab0014" stroke-width="1.45"/>
<line x1="571.44" y1="39.87" x2="571.44" y2="44.87" stroke="#ab0014" stroke-width="1.45"/>
<line x1="568.54" y1="29.57" x2="574.34" y2="29.57" stroke="#ab0014" stroke-width="1.7"/>
<line x1="568.54" y1="44.87" x2="574.34" y2="44.87" stroke="#ab0014" stroke-width="1.7"/>
<rect x="568.79" y="34.57" width="5.3" height="5.3" fill="none" stroke="#ab0014" stroke-width="2.1"/>
<line x1="583.58" y1="50.85" x2="583.58" y2="57.90" stroke="#ab0014" stroke-width="1.45"/>
<line x1="583.58" y1="63.20" x2="583.58" y2="70.26" stroke="#ab0014" stroke-width="1.45"/>
<line x1="580.68" y1="50.85" x2="586.48" y2="50.85" stroke="#ab0014" stroke-width="1.7"/>
<line x1="580.68" y1="70.26" x2="586.48" y2="70.26" stroke="#ab0014" stroke-width="1.7"/>
<rect x="580.93" y="57.90" width="5.3" height="5.3" fill="none" stroke="#ab0014" stroke-width="2.1"/>
<line x1="596.24" y1="90.05" x2="596.24" y2="96.92" stroke="#ab0014" stroke-width="1.45"/>
<line x1="596.24" y1="102.22" x2="596.24" y2="109.09" stroke="#ab0014" stroke-width="1.45"/>
<line x1="593.34" y1="90.05" x2="599.14" y2="90.05" stroke="#ab0014" stroke-width="1.7"/>
<line x1="593.34" y1="109.09" x2="599.14" y2="109.09" stroke="#ab0014" stroke-width="1.7"/>
<rect x="593.59" y="96.92" width="5.3" height="5.3" fill="none" stroke="#ab0014" stroke-width="2.1"/>
<line x1="608.73" y1="132.79" x2="608.73" y2="140.22" stroke="#ab0014" stroke-width="1.45"/>
<line x1="608.73" y1="145.52" x2="608.73" y2="152.95" stroke="#ab0014" stroke-width="1.45"/>
<line x1="605.83" y1="132.79" x2="611.63" y2="132.79" stroke="#ab0014" stroke-width="1.7"/>
<line x1="605.83" y1="152.95" x2="611.63" y2="152.95" stroke="#ab0014" stroke-width="1.7"/>
<rect x="606.08" y="140.22" width="5.3" height="5.3" fill="none" stroke="#ab0014" stroke-width="2.1"/>
<line x1="621.04" y1="169.01" x2="621.04" y2="173.45" stroke="#ab0014" stroke-width="1.45"/>
<line x1="621.04" y1="178.75" x2="621.04" y2="183.19" stroke="#ab0014" stroke-width="1.45"/>
<line x1="618.14" y1="169.01" x2="623.94" y2="169.01" stroke="#ab0014" stroke-width="1.7"/>
<line x1="618.14" y1="183.19" x2="623.94" y2="183.19" stroke="#ab0014" stroke-width="1.7"/>
<rect x="618.39" y="173.45" width="5.3" height="5.3" fill="none" stroke="#ab0014" stroke-width="2.1"/>
<line x1="633.70" y1="187.30" x2="633.70" y2="193.42" stroke="#ab0014" stroke-width="1.45"/>
<line x1="633.70" y1="198.72" x2="633.70" y2="204.85" stroke="#ab0014" stroke-width="1.45"/>
<line x1="630.80" y1="187.30" x2="636.60" y2="187.30" stroke="#ab0014" stroke-width="1.7"/>
<line x1="630.80" y1="204.85" x2="636.60" y2="204.85" stroke="#ab0014" stroke-width="1.7"/>
<rect x="631.05" y="193.42" width="5.3" height="5.3" fill="none" stroke="#ab0014" stroke-width="2.1"/>
<line x1="645.67" y1="192.34" x2="645.67" y2="196.04" stroke="#ab0014" stroke-width="1.45"/>
<line x1="645.67" y1="201.34" x2="645.67" y2="205.03" stroke="#ab0014" stroke-width="1.45"/>
<line x1="642.77" y1="192.34" x2="648.57" y2="192.34" stroke="#ab0014" stroke-width="1.7"/>
<line x1="642.77" y1="205.03" x2="648.57" y2="205.03" stroke="#ab0014" stroke-width="1.7"/>
<rect x="643.02" y="196.04" width="5.3" height="5.3" fill="none" stroke="#ab0014" stroke-width="2.1"/>
<line x1="657.46" y1="190.66" x2="657.46" y2="197.53" stroke="#ab0014" stroke-width="1.45"/>
<line x1="657.46" y1="202.83" x2="657.46" y2="209.70" stroke="#ab0014" stroke-width="1.45"/>
<line x1="654.56" y1="190.66" x2="660.36" y2="190.66" stroke="#ab0014" stroke-width="1.7"/>
<line x1="654.56" y1="209.70" x2="660.36" y2="209.70" stroke="#ab0014" stroke-width="1.7"/>
<rect x="654.81" y="197.53" width="5.3" height="5.3" fill="none" stroke="#ab0014" stroke-width="2.1"/>
<rect x="489.4" y="140.4" width="91.30" height="45.00" fill="#fff" stroke="#7a7a7a" stroke-width="1"/>
<text x="535.55" y="157.60" text-anchor="middle" class="bx">Single beam</text>
<text x="535.55" y="177.80" text-anchor="middle" class="bx">7.5 mm - Y</text>
<rect x="609.3" y="13.3" width="62.60" height="34.30" fill="#fff" stroke="#b4b4b4" stroke-width="1"/>
<line x1="611.50" y1="22.90" x2="640.10" y2="22.90" stroke="#4797cd" stroke-width="2.3" stroke-linecap="round"/>
<line x1="611.50" y1="39.30" x2="640.10" y2="39.30" stroke="#ab0014" stroke-width="2.3" stroke-linecap="round"/>
<rect x="622.90" y="36.60" width="5.4" height="5.2" fill="#ab0014"/>
<text x="644.10" y="27.30" class="lg">TPS</text>
<text x="644.10" y="43.30" class="lg">Film</text>
<line x1="398.00" y1="229.30" x2="398.00" y2="225.30" stroke="#000" stroke-width="1.8"/>
<line x1="432.69" y1="229.30" x2="432.69" y2="225.30" stroke="#000" stroke-width="1.8"/>
<line x1="467.38" y1="229.30" x2="467.38" y2="225.30" stroke="#000" stroke-width="1.8"/>
<line x1="502.06" y1="229.30" x2="502.06" y2="225.30" stroke="#000" stroke-width="1.8"/>
<line x1="536.75" y1="229.30" x2="536.75" y2="225.30" stroke="#000" stroke-width="1.8"/>
<line x1="571.44" y1="229.30" x2="571.44" y2="225.30" stroke="#000" stroke-width="1.8"/>
<line x1="606.12" y1="229.30" x2="606.12" y2="225.30" stroke="#000" stroke-width="1.8"/>
<line x1="640.81" y1="229.30" x2="640.81" y2="225.30" stroke="#000" stroke-width="1.8"/>
<line x1="675.50" y1="229.30" x2="675.50" y2="225.30" stroke="#000" stroke-width="1.8"/>
<line x1="415.34" y1="229.30" x2="415.34" y2="227.10" stroke="#000" stroke-width="1.8"/>
<line x1="450.03" y1="229.30" x2="450.03" y2="227.10" stroke="#000" stroke-width="1.8"/>
<line x1="484.72" y1="229.30" x2="484.72" y2="227.10" stroke="#000" stroke-width="1.8"/>
<line x1="519.41" y1="229.30" x2="519.41" y2="227.10" stroke="#000" stroke-width="1.8"/>
<line x1="554.09" y1="229.30" x2="554.09" y2="227.10" stroke="#000" stroke-width="1.8"/>
<line x1="588.78" y1="229.30" x2="588.78" y2="227.10" stroke="#000" stroke-width="1.8"/>
<line x1="623.47" y1="229.30" x2="623.47" y2="227.10" stroke="#000" stroke-width="1.8"/>
<line x1="658.16" y1="229.30" x2="658.16" y2="227.10" stroke="#000" stroke-width="1.8"/>
<line x1="398.00" y1="210.63" x2="402.00" y2="210.63" stroke="#000" stroke-width="1.8"/>
<line x1="398.00" y1="173.30" x2="402.00" y2="173.30" stroke="#000" stroke-width="1.8"/>
<line x1="398.00" y1="135.97" x2="402.00" y2="135.97" stroke="#000" stroke-width="1.8"/>
<line x1="398.00" y1="98.63" x2="402.00" y2="98.63" stroke="#000" stroke-width="1.8"/>
<line x1="398.00" y1="61.30" x2="402.00" y2="61.30" stroke="#000" stroke-width="1.8"/>
<line x1="398.00" y1="23.97" x2="402.00" y2="23.97" stroke="#000" stroke-width="1.8"/>
<line x1="398.00" y1="191.97" x2="400.20" y2="191.97" stroke="#000" stroke-width="1.8"/>
<line x1="398.00" y1="154.63" x2="400.20" y2="154.63" stroke="#000" stroke-width="1.8"/>
<line x1="398.00" y1="117.30" x2="400.20" y2="117.30" stroke="#000" stroke-width="1.8"/>
<line x1="398.00" y1="79.97" x2="400.20" y2="79.97" stroke="#000" stroke-width="1.8"/>
<line x1="398.00" y1="42.63" x2="400.20" y2="42.63" stroke="#000" stroke-width="1.8"/>
<rect x="398.00" y="5.30" width="277.50" height="224.00" fill="none" stroke="#000" stroke-width="1.6"/>
<text x="393.40" y="215.93" text-anchor="end" class="tk">0.0</text>
<text x="393.40" y="178.60" text-anchor="end" class="tk">0.2</text>
<text x="393.40" y="141.27" text-anchor="end" class="tk">0.4</text>
<text x="393.40" y="103.93" text-anchor="end" class="tk">0.6</text>
<text x="393.40" y="66.60" text-anchor="end" class="tk">0.8</text>
<text x="393.40" y="29.27" text-anchor="end" class="tk">1.0</text>
<text x="398.00" y="245.90" text-anchor="middle" class="tk">-8</text>
<text x="432.69" y="245.90" text-anchor="middle" class="tk">-6</text>
<text x="467.38" y="245.90" text-anchor="middle" class="tk">-4</text>
<text x="502.06" y="245.90" text-anchor="middle" class="tk">-2</text>
<text x="536.75" y="245.90" text-anchor="middle" class="tk">0</text>
<text x="571.44" y="245.90" text-anchor="middle" class="tk">2</text>
<text x="606.12" y="245.90" text-anchor="middle" class="tk">4</text>
<text x="640.81" y="245.90" text-anchor="middle" class="tk">6</text>
<text x="675.50" y="245.90" text-anchor="middle" class="tk">8</text>
<text x="408.70" y="33.10" class="pl">(b)</text>
<text transform="translate(364.00,117.30) rotate(-90)" text-anchor="middle" class="tt">Norminalized Intensity</text>
<text x="536.75" y="272.00" text-anchor="middle" class="tt">Y-position (mm)</text>
<line x1="88.40" y1="285.30" x2="88.40" y2="401.30" stroke="#c9c9c9" stroke-width="1.25"/>
<line x1="123.10" y1="285.30" x2="123.10" y2="401.30" stroke="#c9c9c9" stroke-width="1.25"/>
<line x1="157.80" y1="285.30" x2="157.80" y2="401.30" stroke="#c9c9c9" stroke-width="1.25"/>
<line x1="192.50" y1="285.30" x2="192.50" y2="401.30" stroke="#c9c9c9" stroke-width="1.25"/>
<line x1="227.20" y1="285.30" x2="227.20" y2="401.30" stroke="#c9c9c9" stroke-width="1.25"/>
<line x1="261.90" y1="285.30" x2="261.90" y2="401.30" stroke="#c9c9c9" stroke-width="1.25"/>
<line x1="296.60" y1="285.30" x2="296.60" y2="401.30" stroke="#c9c9c9" stroke-width="1.25"/>
<line x1="53.70" y1="378.10" x2="331.30" y2="378.10" stroke="#c9c9c9" stroke-width="1.25"/>
<line x1="53.70" y1="331.70" x2="331.30" y2="331.70" stroke="#c9c9c9" stroke-width="1.25"/>
<line x1="75.56" y1="363.95" x2="75.56" y2="370.11" stroke="#ab0014" stroke-width="1.45"/>
<line x1="75.56" y1="375.41" x2="75.56" y2="381.58" stroke="#ab0014" stroke-width="1.45"/>
<line x1="72.66" y1="363.95" x2="78.46" y2="363.95" stroke="#ab0014" stroke-width="1.7"/>
<line x1="72.66" y1="381.58" x2="78.46" y2="381.58" stroke="#ab0014" stroke-width="1.7"/>
<rect x="72.91" y="370.11" width="5.3" height="5.3" fill="#fff" stroke="#ab0014" stroke-width="2.1"/>
<line x1="88.40" y1="361.16" x2="88.40" y2="368.49" stroke="#ab0014" stroke-width="1.45"/>
<line x1="88.40" y1="373.79" x2="88.40" y2="381.12" stroke="#ab0014" stroke-width="1.45"/>
<line x1="85.50" y1="361.16" x2="91.30" y2="361.16" stroke="#ab0014" stroke-width="1.7"/>
<line x1="85.50" y1="381.12" x2="91.30" y2="381.12" stroke="#ab0014" stroke-width="1.7"/>
<rect x="85.75" y="368.49" width="5.3" height="5.3" fill="#fff" stroke="#ab0014" stroke-width="2.1"/>
<line x1="101.07" y1="364.41" x2="101.07" y2="371.04" stroke="#ab0014" stroke-width="1.45"/>
<line x1="101.07" y1="376.34" x2="101.07" y2="382.97" stroke="#ab0014" stroke-width="1.45"/>
<line x1="98.17" y1="364.41" x2="103.97" y2="364.41" stroke="#ab0014" stroke-width="1.7"/>
<line x1="98.17" y1="382.97" x2="103.97" y2="382.97" stroke="#ab0014" stroke-width="1.7"/>
<rect x="98.42" y="371.04" width="5.3" height="5.3" fill="#fff" stroke="#ab0014" stroke-width="2.1"/>
<line x1="113.38" y1="368.12" x2="113.38" y2="374.29" stroke="#ab0014" stroke-width="1.45"/>
<line x1="113.38" y1="379.59" x2="113.38" y2="385.76" stroke="#ab0014" stroke-width="1.45"/>
<line x1="110.48" y1="368.12" x2="116.28" y2="368.12" stroke="#ab0014" stroke-width="1.7"/>
<line x1="110.48" y1="385.76" x2="116.28" y2="385.76" stroke="#ab0014" stroke-width="1.7"/>
<rect x="110.73" y="374.29" width="5.3" height="5.3" fill="#fff" stroke="#ab0014" stroke-width="2.1"/>
<line x1="121.37" y1="365.11" x2="121.37" y2="372.20" stroke="#ab0014" stroke-width="1.45"/>
<line x1="121.37" y1="377.50" x2="121.37" y2="384.60" stroke="#ab0014" stroke-width="1.45"/>
<line x1="118.47" y1="365.11" x2="124.27" y2="365.11" stroke="#ab0014" stroke-width="1.7"/>
<line x1="118.47" y1="384.60" x2="124.27" y2="384.60" stroke="#ab0014" stroke-width="1.7"/>
<rect x="118.72" y="372.20" width="5.3" height="5.3" fill="#fff" stroke="#ab0014" stroke-width="2.1"/>
<line x1="127.96" y1="365.34" x2="127.96" y2="373.13" stroke="#ab0014" stroke-width="1.45"/>
<line x1="127.96" y1="378.43" x2="127.96" y2="386.22" stroke="#ab0014" stroke-width="1.45"/>
<line x1="125.06" y1="365.34" x2="130.86" y2="365.34" stroke="#ab0014" stroke-width="1.7"/>
<line x1="125.06" y1="386.22" x2="130.86" y2="386.22" stroke="#ab0014" stroke-width="1.7"/>
<rect x="125.31" y="373.13" width="5.3" height="5.3" fill="#fff" stroke="#ab0014" stroke-width="2.1"/>
<line x1="140.97" y1="358.38" x2="140.97" y2="368.49" stroke="#ab0014" stroke-width="1.45"/>
<line x1="140.97" y1="373.79" x2="140.97" y2="383.90" stroke="#ab0014" stroke-width="1.45"/>
<line x1="138.07" y1="358.38" x2="143.87" y2="358.38" stroke="#ab0014" stroke-width="1.7"/>
<line x1="138.07" y1="383.90" x2="143.87" y2="383.90" stroke="#ab0014" stroke-width="1.7"/>
<rect x="138.32" y="368.49" width="5.3" height="5.3" fill="#fff" stroke="#ab0014" stroke-width="2.1"/>
<line x1="153.46" y1="364.64" x2="153.46" y2="373.59" stroke="#ab0014" stroke-width="1.45"/>
<line x1="153.46" y1="378.89" x2="153.46" y2="387.84" stroke="#ab0014" stroke-width="1.45"/>
<line x1="150.56" y1="364.64" x2="156.36" y2="364.64" stroke="#ab0014" stroke-width="1.7"/>
<line x1="150.56" y1="387.84" x2="156.36" y2="387.84" stroke="#ab0014" stroke-width="1.7"/>
<rect x="150.81" y="373.59" width="5.3" height="5.3" fill="#fff" stroke="#ab0014" stroke-width="2.1"/>
<line x1="168.04" y1="364.88" x2="168.04" y2="372.43" stroke="#ab0014" stroke-width="1.45"/>
<line x1="168.04" y1="377.73" x2="168.04" y2="385.29" stroke="#ab0014" stroke-width="1.45"/>
<line x1="165.14" y1="364.88" x2="170.94" y2="364.88" stroke="#ab0014" stroke-width="1.7"/>
<line x1="165.14" y1="385.29" x2="170.94" y2="385.29" stroke="#ab0014" stroke-width="1.7"/>
<rect x="165.39" y="372.43" width="5.3" height="5.3" fill="#fff" stroke="#ab0014" stroke-width="2.1"/>
<line x1="180.70" y1="365.34" x2="180.70" y2="372.43" stroke="#ab0014" stroke-width="1.45"/>
<line x1="180.70" y1="377.73" x2="180.70" y2="384.83" stroke="#ab0014" stroke-width="1.45"/>
<line x1="177.80" y1="365.34" x2="183.60" y2="365.34" stroke="#ab0014" stroke-width="1.7"/>
<line x1="177.80" y1="384.83" x2="183.60" y2="384.83" stroke="#ab0014" stroke-width="1.7"/>
<rect x="178.05" y="372.43" width="5.3" height="5.3" fill="#fff" stroke="#ab0014" stroke-width="2.1"/>
<line x1="193.19" y1="369.05" x2="193.19" y2="374.75" stroke="#ab0014" stroke-width="1.45"/>
<line x1="193.19" y1="380.05" x2="193.19" y2="385.76" stroke="#ab0014" stroke-width="1.45"/>
<line x1="190.29" y1="369.05" x2="196.09" y2="369.05" stroke="#ab0014" stroke-width="1.7"/>
<line x1="190.29" y1="385.76" x2="196.09" y2="385.76" stroke="#ab0014" stroke-width="1.7"/>
<rect x="190.54" y="374.75" width="5.3" height="5.3" fill="#fff" stroke="#ab0014" stroke-width="2.1"/>
<line x1="208.12" y1="366.27" x2="208.12" y2="374.75" stroke="#ab0014" stroke-width="1.45"/>
<line x1="208.12" y1="380.05" x2="208.12" y2="388.54" stroke="#ab0014" stroke-width="1.45"/>
<line x1="205.22" y1="366.27" x2="211.02" y2="366.27" stroke="#ab0014" stroke-width="1.7"/>
<line x1="205.22" y1="388.54" x2="211.02" y2="388.54" stroke="#ab0014" stroke-width="1.7"/>
<rect x="205.47" y="374.75" width="5.3" height="5.3" fill="#fff" stroke="#ab0014" stroke-width="2.1"/>
<line x1="220.78" y1="365.80" x2="220.78" y2="374.75" stroke="#ab0014" stroke-width="1.45"/>
<line x1="220.78" y1="380.05" x2="220.78" y2="389.00" stroke="#ab0014" stroke-width="1.45"/>
<line x1="217.88" y1="365.80" x2="223.68" y2="365.80" stroke="#ab0014" stroke-width="1.7"/>
<line x1="217.88" y1="389.00" x2="223.68" y2="389.00" stroke="#ab0014" stroke-width="1.7"/>
<rect x="218.13" y="374.75" width="5.3" height="5.3" fill="#fff" stroke="#ab0014" stroke-width="2.1"/>
<line x1="233.45" y1="364.88" x2="233.45" y2="371.97" stroke="#ab0014" stroke-width="1.45"/>
<line x1="233.45" y1="377.27" x2="233.45" y2="384.36" stroke="#ab0014" stroke-width="1.45"/>
<line x1="230.55" y1="364.88" x2="236.35" y2="364.88" stroke="#ab0014" stroke-width="1.7"/>
<line x1="230.55" y1="384.36" x2="236.35" y2="384.36" stroke="#ab0014" stroke-width="1.7"/>
<rect x="230.80" y="371.97" width="5.3" height="5.3" fill="#fff" stroke="#ab0014" stroke-width="2.1"/>
<line x1="241.25" y1="359.08" x2="241.25" y2="370.11" stroke="#ab0014" stroke-width="1.45"/>
<line x1="241.25" y1="375.41" x2="241.25" y2="386.45" stroke="#ab0014" stroke-width="1.45"/>
<line x1="238.35" y1="359.08" x2="244.15" y2="359.08" stroke="#ab0014" stroke-width="1.7"/>
<line x1="238.35" y1="386.45" x2="244.15" y2="386.45" stroke="#ab0014" stroke-width="1.7"/>
<rect x="238.60" y="370.11" width="5.3" height="5.3" fill="#fff" stroke="#ab0014" stroke-width="2.1"/>
<line x1="248.37" y1="361.40" x2="248.37" y2="371.51" stroke="#ab0014" stroke-width="1.45"/>
<line x1="248.37" y1="376.81" x2="248.37" y2="386.92" stroke="#ab0014" stroke-width="1.45"/>
<line x1="245.47" y1="361.40" x2="251.27" y2="361.40" stroke="#ab0014" stroke-width="1.7"/>
<line x1="245.47" y1="386.92" x2="251.27" y2="386.92" stroke="#ab0014" stroke-width="1.7"/>
<rect x="245.72" y="371.51" width="5.3" height="5.3" fill="#fff" stroke="#ab0014" stroke-width="2.1"/>
<line x1="260.51" y1="362.56" x2="260.51" y2="372.20" stroke="#ab0014" stroke-width="1.45"/>
<line x1="260.51" y1="377.50" x2="260.51" y2="387.15" stroke="#ab0014" stroke-width="1.45"/>
<line x1="257.61" y1="362.56" x2="263.41" y2="362.56" stroke="#ab0014" stroke-width="1.7"/>
<line x1="257.61" y1="387.15" x2="263.41" y2="387.15" stroke="#ab0014" stroke-width="1.7"/>
<rect x="257.86" y="372.20" width="5.3" height="5.3" fill="#fff" stroke="#ab0014" stroke-width="2.1"/>
<line x1="273.35" y1="361.16" x2="273.35" y2="368.03" stroke="#ab0014" stroke-width="1.45"/>
<line x1="273.35" y1="373.33" x2="273.35" y2="380.19" stroke="#ab0014" stroke-width="1.45"/>
<line x1="270.45" y1="361.16" x2="276.25" y2="361.16" stroke="#ab0014" stroke-width="1.7"/>
<line x1="270.45" y1="380.19" x2="276.25" y2="380.19" stroke="#ab0014" stroke-width="1.7"/>
<rect x="270.70" y="368.03" width="5.3" height="5.3" fill="#fff" stroke="#ab0014" stroke-width="2.1"/>
<line x1="288.27" y1="365.11" x2="288.27" y2="374.75" stroke="#ab0014" stroke-width="1.45"/>
<line x1="288.27" y1="380.05" x2="288.27" y2="389.70" stroke="#ab0014" stroke-width="1.45"/>
<line x1="285.37" y1="365.11" x2="291.17" y2="365.11" stroke="#ab0014" stroke-width="1.7"/>
<line x1="285.37" y1="389.70" x2="291.17" y2="389.70" stroke="#ab0014" stroke-width="1.7"/>
<rect x="285.62" y="374.75" width="5.3" height="5.3" fill="#fff" stroke="#ab0014" stroke-width="2.1"/>
<line x1="300.94" y1="359.77" x2="300.94" y2="367.56" stroke="#ab0014" stroke-width="1.45"/>
<line x1="300.94" y1="372.86" x2="300.94" y2="380.65" stroke="#ab0014" stroke-width="1.45"/>
<line x1="298.04" y1="359.77" x2="303.84" y2="359.77" stroke="#ab0014" stroke-width="1.7"/>
<line x1="298.04" y1="380.65" x2="303.84" y2="380.65" stroke="#ab0014" stroke-width="1.7"/>
<rect x="298.29" y="367.56" width="5.3" height="5.3" fill="#fff" stroke="#ab0014" stroke-width="2.1"/>
<line x1="313.08" y1="363.48" x2="313.08" y2="371.51" stroke="#ab0014" stroke-width="1.45"/>
<line x1="313.08" y1="376.81" x2="313.08" y2="384.83" stroke="#ab0014" stroke-width="1.45"/>
<line x1="310.18" y1="363.48" x2="315.98" y2="363.48" stroke="#ab0014" stroke-width="1.7"/>
<line x1="310.18" y1="384.83" x2="315.98" y2="384.83" stroke="#ab0014" stroke-width="1.7"/>
<rect x="310.43" y="371.51" width="5.3" height="5.3" fill="#fff" stroke="#ab0014" stroke-width="2.1"/>
<line x1="53.70" y1="401.30" x2="53.70" y2="397.30" stroke="#000" stroke-width="1.8"/>
<line x1="88.40" y1="401.30" x2="88.40" y2="397.30" stroke="#000" stroke-width="1.8"/>
<line x1="123.10" y1="401.30" x2="123.10" y2="397.30" stroke="#000" stroke-width="1.8"/>
<line x1="157.80" y1="401.30" x2="157.80" y2="397.30" stroke="#000" stroke-width="1.8"/>
<line x1="192.50" y1="401.30" x2="192.50" y2="397.30" stroke="#000" stroke-width="1.8"/>
<line x1="227.20" y1="401.30" x2="227.20" y2="397.30" stroke="#000" stroke-width="1.8"/>
<line x1="261.90" y1="401.30" x2="261.90" y2="397.30" stroke="#000" stroke-width="1.8"/>
<line x1="296.60" y1="401.30" x2="296.60" y2="397.30" stroke="#000" stroke-width="1.8"/>
<line x1="331.30" y1="401.30" x2="331.30" y2="397.30" stroke="#000" stroke-width="1.8"/>
<line x1="71.05" y1="401.30" x2="71.05" y2="399.10" stroke="#000" stroke-width="1.8"/>
<line x1="105.75" y1="401.30" x2="105.75" y2="399.10" stroke="#000" stroke-width="1.8"/>
<line x1="140.45" y1="401.30" x2="140.45" y2="399.10" stroke="#000" stroke-width="1.8"/>
<line x1="175.15" y1="401.30" x2="175.15" y2="399.10" stroke="#000" stroke-width="1.8"/>
<line x1="209.85" y1="401.30" x2="209.85" y2="399.10" stroke="#000" stroke-width="1.8"/>
<line x1="244.55" y1="401.30" x2="244.55" y2="399.10" stroke="#000" stroke-width="1.8"/>
<line x1="279.25" y1="401.30" x2="279.25" y2="399.10" stroke="#000" stroke-width="1.8"/>
<line x1="313.95" y1="401.30" x2="313.95" y2="399.10" stroke="#000" stroke-width="1.8"/>
<line x1="53.70" y1="378.10" x2="57.70" y2="378.10" stroke="#000" stroke-width="1.8"/>
<line x1="53.70" y1="331.70" x2="57.70" y2="331.70" stroke="#000" stroke-width="1.8"/>
<line x1="53.70" y1="285.30" x2="57.70" y2="285.30" stroke="#000" stroke-width="1.8"/>
<line x1="53.70" y1="354.90" x2="55.90" y2="354.90" stroke="#000" stroke-width="1.8"/>
<line x1="53.70" y1="308.50" x2="55.90" y2="308.50" stroke="#000" stroke-width="1.8"/>
<rect x="53.70" y="285.30" width="277.60" height="116.00" fill="none" stroke="#000" stroke-width="1.6"/>
<text x="49.10" y="383.40" text-anchor="end" class="tk">0.0</text>
<text x="49.10" y="337.00" text-anchor="end" class="tk">0.2</text>
<text x="49.10" y="290.60" text-anchor="end" class="tk">0.4</text>
<text x="53.70" y="417.90" text-anchor="middle" class="tk">-8</text>
<text x="88.40" y="417.90" text-anchor="middle" class="tk">-6</text>
<text x="123.10" y="417.90" text-anchor="middle" class="tk">-4</text>
<text x="157.80" y="417.90" text-anchor="middle" class="tk">-2</text>
<text x="192.50" y="417.90" text-anchor="middle" class="tk">0</text>
<text x="227.20" y="417.90" text-anchor="middle" class="tk">2</text>
<text x="261.90" y="417.90" text-anchor="middle" class="tk">4</text>
<text x="296.60" y="417.90" text-anchor="middle" class="tk">6</text>
<text x="331.30" y="417.90" text-anchor="middle" class="tk">8</text>
<text x="64.40" y="313.10" class="pl">(c)</text>
<text transform="translate(17.30,354.00) rotate(-90)" text-anchor="middle" class="tt">Error</text>
<text x="192.50" y="444.00" text-anchor="middle" class="tt">X-position (mm)</text>
<line x1="432.53" y1="285.30" x2="432.53" y2="401.30" stroke="#c9c9c9" stroke-width="1.25"/>
<line x1="467.25" y1="285.30" x2="467.25" y2="401.30" stroke="#c9c9c9" stroke-width="1.25"/>
<line x1="501.98" y1="285.30" x2="501.98" y2="401.30" stroke="#c9c9c9" stroke-width="1.25"/>
<line x1="536.70" y1="285.30" x2="536.70" y2="401.30" stroke="#c9c9c9" stroke-width="1.25"/>
<line x1="571.42" y1="285.30" x2="571.42" y2="401.30" stroke="#c9c9c9" stroke-width="1.25"/>
<line x1="606.15" y1="285.30" x2="606.15" y2="401.30" stroke="#c9c9c9" stroke-width="1.25"/>
<line x1="640.88" y1="285.30" x2="640.88" y2="401.30" stroke="#c9c9c9" stroke-width="1.25"/>
<line x1="397.80" y1="378.10" x2="675.60" y2="378.10" stroke="#c9c9c9" stroke-width="1.25"/>
<line x1="397.80" y1="331.70" x2="675.60" y2="331.70" stroke="#c9c9c9" stroke-width="1.25"/>
<line x1="422.45" y1="358.15" x2="422.45" y2="364.78" stroke="#ab0014" stroke-width="1.45"/>
<line x1="422.45" y1="370.08" x2="422.45" y2="376.71" stroke="#ab0014" stroke-width="1.45"/>
<line x1="419.55" y1="358.15" x2="425.35" y2="358.15" stroke="#ab0014" stroke-width="1.7"/>
<line x1="419.55" y1="376.71" x2="425.35" y2="376.71" stroke="#ab0014" stroke-width="1.7"/>
<rect x="419.80" y="364.78" width="5.3" height="5.3" fill="#fff" stroke="#ab0014" stroke-width="2.1"/>
<line x1="435.13" y1="367.89" x2="435.13" y2="373.59" stroke="#ab0014" stroke-width="1.45"/>
<line x1="435.13" y1="378.89" x2="435.13" y2="384.60" stroke="#ab0014" stroke-width="1.45"/>
<line x1="432.23" y1="367.89" x2="438.03" y2="367.89" stroke="#ab0014" stroke-width="1.7"/>
<line x1="432.23" y1="384.60" x2="438.03" y2="384.60" stroke="#ab0014" stroke-width="1.7"/>
<rect x="432.48" y="373.59" width="5.3" height="5.3" fill="#fff" stroke="#ab0014" stroke-width="2.1"/>
<line x1="447.46" y1="365.34" x2="447.46" y2="371.97" stroke="#ab0014" stroke-width="1.45"/>
<line x1="447.46" y1="377.27" x2="447.46" y2="383.90" stroke="#ab0014" stroke-width="1.45"/>
<line x1="444.56" y1="365.34" x2="450.36" y2="365.34" stroke="#ab0014" stroke-width="1.7"/>
<line x1="444.56" y1="383.90" x2="450.36" y2="383.90" stroke="#ab0014" stroke-width="1.7"/>
<rect x="444.81" y="371.97" width="5.3" height="5.3" fill="#fff" stroke="#ab0014" stroke-width="2.1"/>
<line x1="459.61" y1="364.88" x2="459.61" y2="371.04" stroke="#ab0014" stroke-width="1.45"/>
<line x1="459.61" y1="376.34" x2="459.61" y2="382.51" stroke="#ab0014" stroke-width="1.45"/>
<line x1="456.71" y1="364.88" x2="462.51" y2="364.88" stroke="#ab0014" stroke-width="1.7"/>
<line x1="456.71" y1="382.51" x2="462.51" y2="382.51" stroke="#ab0014" stroke-width="1.7"/>
<rect x="456.96" y="371.04" width="5.3" height="5.3" fill="#fff" stroke="#ab0014" stroke-width="2.1"/>
<line x1="464.99" y1="366.27" x2="464.99" y2="373.59" stroke="#ab0014" stroke-width="1.45"/>
<line x1="464.99" y1="378.89" x2="464.99" y2="386.22" stroke="#ab0014" stroke-width="1.45"/>
<line x1="462.09" y1="366.27" x2="467.89" y2="366.27" stroke="#ab0014" stroke-width="1.7"/>
<line x1="462.09" y1="386.22" x2="467.89" y2="386.22" stroke="#ab0014" stroke-width="1.7"/>
<rect x="462.34" y="373.59" width="5.3" height="5.3" fill="#fff" stroke="#ab0014" stroke-width="2.1"/>
<line x1="472.63" y1="366.50" x2="472.63" y2="375.22" stroke="#ab0014" stroke-width="1.45"/>
<line x1="472.63" y1="380.52" x2="472.63" y2="389.24" stroke="#ab0014" stroke-width="1.45"/>
<line x1="469.73" y1="366.50" x2="475.53" y2="366.50" stroke="#ab0014" stroke-width="1.7"/>
<line x1="469.73" y1="389.24" x2="475.53" y2="389.24" stroke="#ab0014" stroke-width="1.7"/>
<rect x="469.98" y="375.22" width="5.3" height="5.3" fill="#fff" stroke="#ab0014" stroke-width="2.1"/>
<line x1="484.79" y1="367.20" x2="484.79" y2="373.13" stroke="#ab0014" stroke-width="1.45"/>
<line x1="484.79" y1="378.43" x2="484.79" y2="384.36" stroke="#ab0014" stroke-width="1.45"/>
<line x1="481.89" y1="367.20" x2="487.69" y2="367.20" stroke="#ab0014" stroke-width="1.7"/>
<line x1="481.89" y1="384.36" x2="487.69" y2="384.36" stroke="#ab0014" stroke-width="1.7"/>
<rect x="482.14" y="373.13" width="5.3" height="5.3" fill="#fff" stroke="#ab0014" stroke-width="2.1"/>
<line x1="497.46" y1="366.96" x2="497.46" y2="370.58" stroke="#ab0014" stroke-width="1.45"/>
<line x1="497.46" y1="375.88" x2="497.46" y2="379.49" stroke="#ab0014" stroke-width="1.45"/>
<line x1="494.56" y1="366.96" x2="500.36" y2="366.96" stroke="#ab0014" stroke-width="1.7"/>
<line x1="494.56" y1="379.49" x2="500.36" y2="379.49" stroke="#ab0014" stroke-width="1.7"/>
<rect x="494.81" y="370.58" width="5.3" height="5.3" fill="#fff" stroke="#ab0014" stroke-width="2.1"/>
<line x1="509.79" y1="366.96" x2="509.79" y2="371.51" stroke="#ab0014" stroke-width="1.45"/>
<line x1="509.79" y1="376.81" x2="509.79" y2="381.35" stroke="#ab0014" stroke-width="1.45"/>
<line x1="506.89" y1="366.96" x2="512.69" y2="366.96" stroke="#ab0014" stroke-width="1.7"/>
<line x1="506.89" y1="381.35" x2="512.69" y2="381.35" stroke="#ab0014" stroke-width="1.7"/>
<rect x="507.14" y="371.51" width="5.3" height="5.3" fill="#fff" stroke="#ab0014" stroke-width="2.1"/>
<line x1="521.94" y1="369.98" x2="521.94" y2="374.75" stroke="#ab0014" stroke-width="1.45"/>
<line x1="521.94" y1="380.05" x2="521.94" y2="384.83" stroke="#ab0014" stroke-width="1.45"/>
<line x1="519.04" y1="369.98" x2="524.84" y2="369.98" stroke="#ab0014" stroke-width="1.7"/>
<line x1="519.04" y1="384.83" x2="524.84" y2="384.83" stroke="#ab0014" stroke-width="1.7"/>
<rect x="519.29" y="374.75" width="5.3" height="5.3" fill="#fff" stroke="#ab0014" stroke-width="2.1"/>
<line x1="534.44" y1="366.04" x2="534.44" y2="374.06" stroke="#ab0014" stroke-width="1.45"/>
<line x1="534.44" y1="379.36" x2="534.44" y2="387.38" stroke="#ab0014" stroke-width="1.45"/>
<line x1="531.54" y1="366.04" x2="537.34" y2="366.04" stroke="#ab0014" stroke-width="1.7"/>
<line x1="531.54" y1="387.38" x2="537.34" y2="387.38" stroke="#ab0014" stroke-width="1.7"/>
<rect x="531.79" y="374.06" width="5.3" height="5.3" fill="#fff" stroke="#ab0014" stroke-width="2.1"/>
<line x1="547.29" y1="367.20" x2="547.29" y2="374.06" stroke="#ab0014" stroke-width="1.45"/>
<line x1="547.29" y1="379.36" x2="547.29" y2="386.22" stroke="#ab0014" stroke-width="1.45"/>
<line x1="544.39" y1="367.20" x2="550.19" y2="367.20" stroke="#ab0014" stroke-width="1.7"/>
<line x1="544.39" y1="386.22" x2="550.19" y2="386.22" stroke="#ab0014" stroke-width="1.7"/>
<rect x="544.64" y="374.06" width="5.3" height="5.3" fill="#fff" stroke="#ab0014" stroke-width="2.1"/>
<line x1="559.44" y1="369.05" x2="559.44" y2="374.75" stroke="#ab0014" stroke-width="1.45"/>
<line x1="559.44" y1="380.05" x2="559.44" y2="385.76" stroke="#ab0014" stroke-width="1.45"/>
<line x1="556.54" y1="369.05" x2="562.34" y2="369.05" stroke="#ab0014" stroke-width="1.7"/>
<line x1="556.54" y1="385.76" x2="562.34" y2="385.76" stroke="#ab0014" stroke-width="1.7"/>
<rect x="556.79" y="374.75" width="5.3" height="5.3" fill="#fff" stroke="#ab0014" stroke-width="2.1"/>
<line x1="571.77" y1="361.16" x2="571.77" y2="368.03" stroke="#ab0014" stroke-width="1.45"/>
<line x1="571.77" y1="373.33" x2="571.77" y2="380.19" stroke="#ab0014" stroke-width="1.45"/>
<line x1="568.87" y1="361.16" x2="574.67" y2="361.16" stroke="#ab0014" stroke-width="1.7"/>
<line x1="568.87" y1="380.19" x2="574.67" y2="380.19" stroke="#ab0014" stroke-width="1.7"/>
<rect x="569.12" y="368.03" width="5.3" height="5.3" fill="#fff" stroke="#ab0014" stroke-width="2.1"/>
<line x1="584.10" y1="357.92" x2="584.10" y2="367.33" stroke="#ab0014" stroke-width="1.45"/>
<line x1="584.10" y1="372.63" x2="584.10" y2="382.04" stroke="#ab0014" stroke-width="1.45"/>
<line x1="581.20" y1="357.92" x2="587.00" y2="357.92" stroke="#ab0014" stroke-width="1.7"/>
<line x1="581.20" y1="382.04" x2="587.00" y2="382.04" stroke="#ab0014" stroke-width="1.7"/>
<rect x="581.45" y="367.33" width="5.3" height="5.3" fill="#fff" stroke="#ab0014" stroke-width="2.1"/>
<line x1="596.25" y1="359.77" x2="596.25" y2="368.95" stroke="#ab0014" stroke-width="1.45"/>
<line x1="596.25" y1="374.25" x2="596.25" y2="383.44" stroke="#ab0014" stroke-width="1.45"/>
<line x1="593.35" y1="359.77" x2="599.15" y2="359.77" stroke="#ab0014" stroke-width="1.7"/>
<line x1="593.35" y1="383.44" x2="599.15" y2="383.44" stroke="#ab0014" stroke-width="1.7"/>
<rect x="593.60" y="368.95" width="5.3" height="5.3" fill="#fff" stroke="#ab0014" stroke-width="2.1"/>
<line x1="609.10" y1="359.31" x2="609.10" y2="369.19" stroke="#ab0014" stroke-width="1.45"/>
<line x1="609.10" y1="374.49" x2="609.10" y2="384.36" stroke="#ab0014" stroke-width="1.45"/>
<line x1="606.20" y1="359.31" x2="612.00" y2="359.31" stroke="#ab0014" stroke-width="1.7"/>
<line x1="606.20" y1="384.36" x2="612.00" y2="384.36" stroke="#ab0014" stroke-width="1.7"/>
<rect x="606.45" y="369.19" width="5.3" height="5.3" fill="#fff" stroke="#ab0014" stroke-width="2.1"/>
<line x1="621.43" y1="369.52" x2="621.43" y2="375.68" stroke="#ab0014" stroke-width="1.45"/>
<line x1="621.43" y1="380.98" x2="621.43" y2="387.15" stroke="#ab0014" stroke-width="1.45"/>
<line x1="618.53" y1="369.52" x2="624.33" y2="369.52" stroke="#ab0014" stroke-width="1.7"/>
<line x1="618.53" y1="387.15" x2="624.33" y2="387.15" stroke="#ab0014" stroke-width="1.7"/>
<rect x="618.78" y="375.68" width="5.3" height="5.3" fill="#fff" stroke="#ab0014" stroke-width="2.1"/>
<line x1="634.10" y1="366.04" x2="634.10" y2="374.29" stroke="#ab0014" stroke-width="1.45"/>
<line x1="634.10" y1="379.59" x2="634.10" y2="387.84" stroke="#ab0014" stroke-width="1.45"/>
<line x1="631.20" y1="366.04" x2="637.00" y2="366.04" stroke="#ab0014" stroke-width="1.7"/>
<line x1="631.20" y1="387.84" x2="637.00" y2="387.84" stroke="#ab0014" stroke-width="1.7"/>
<rect x="631.45" y="374.29" width="5.3" height="5.3" fill="#fff" stroke="#ab0014" stroke-width="2.1"/>
<line x1="646.26" y1="366.27" x2="646.26" y2="371.51" stroke="#ab0014" stroke-width="1.45"/>
<line x1="646.26" y1="376.81" x2="646.26" y2="382.04" stroke="#ab0014" stroke-width="1.45"/>
<line x1="643.36" y1="366.27" x2="649.16" y2="366.27" stroke="#ab0014" stroke-width="1.7"/>
<line x1="643.36" y1="382.04" x2="649.16" y2="382.04" stroke="#ab0014" stroke-width="1.7"/>
<rect x="643.61" y="371.51" width="5.3" height="5.3" fill="#fff" stroke="#ab0014" stroke-width="2.1"/>
<line x1="658.06" y1="360.70" x2="658.06" y2="369.88" stroke="#ab0014" stroke-width="1.45"/>
<line x1="658.06" y1="375.18" x2="658.06" y2="384.36" stroke="#ab0014" stroke-width="1.45"/>
<line x1="655.16" y1="360.70" x2="660.96" y2="360.70" stroke="#ab0014" stroke-width="1.7"/>
<line x1="655.16" y1="384.36" x2="660.96" y2="384.36" stroke="#ab0014" stroke-width="1.7"/>
<rect x="655.41" y="369.88" width="5.3" height="5.3" fill="#fff" stroke="#ab0014" stroke-width="2.1"/>
<line x1="397.80" y1="401.30" x2="397.80" y2="397.30" stroke="#000" stroke-width="1.8"/>
<line x1="432.53" y1="401.30" x2="432.53" y2="397.30" stroke="#000" stroke-width="1.8"/>
<line x1="467.25" y1="401.30" x2="467.25" y2="397.30" stroke="#000" stroke-width="1.8"/>
<line x1="501.98" y1="401.30" x2="501.98" y2="397.30" stroke="#000" stroke-width="1.8"/>
<line x1="536.70" y1="401.30" x2="536.70" y2="397.30" stroke="#000" stroke-width="1.8"/>
<line x1="571.42" y1="401.30" x2="571.42" y2="397.30" stroke="#000" stroke-width="1.8"/>
<line x1="606.15" y1="401.30" x2="606.15" y2="397.30" stroke="#000" stroke-width="1.8"/>
<line x1="640.88" y1="401.30" x2="640.88" y2="397.30" stroke="#000" stroke-width="1.8"/>
<line x1="675.60" y1="401.30" x2="675.60" y2="397.30" stroke="#000" stroke-width="1.8"/>
<line x1="415.16" y1="401.30" x2="415.16" y2="399.10" stroke="#000" stroke-width="1.8"/>
<line x1="449.89" y1="401.30" x2="449.89" y2="399.10" stroke="#000" stroke-width="1.8"/>
<line x1="484.61" y1="401.30" x2="484.61" y2="399.10" stroke="#000" stroke-width="1.8"/>
<line x1="519.34" y1="401.30" x2="519.34" y2="399.10" stroke="#000" stroke-width="1.8"/>
<line x1="554.06" y1="401.30" x2="554.06" y2="399.10" stroke="#000" stroke-width="1.8"/>
<line x1="588.79" y1="401.30" x2="588.79" y2="399.10" stroke="#000" stroke-width="1.8"/>
<line x1="623.51" y1="401.30" x2="623.51" y2="399.10" stroke="#000" stroke-width="1.8"/>
<line x1="658.24" y1="401.30" x2="658.24" y2="399.10" stroke="#000" stroke-width="1.8"/>
<line x1="397.80" y1="378.10" x2="401.80" y2="378.10" stroke="#000" stroke-width="1.8"/>
<line x1="397.80" y1="331.70" x2="401.80" y2="331.70" stroke="#000" stroke-width="1.8"/>
<line x1="397.80" y1="285.30" x2="401.80" y2="285.30" stroke="#000" stroke-width="1.8"/>
<line x1="397.80" y1="354.90" x2="400.00" y2="354.90" stroke="#000" stroke-width="1.8"/>
<line x1="397.80" y1="308.50" x2="400.00" y2="308.50" stroke="#000" stroke-width="1.8"/>
<rect x="397.80" y="285.30" width="277.80" height="116.00" fill="none" stroke="#000" stroke-width="1.6"/>
<text x="393.20" y="383.40" text-anchor="end" class="tk">0.0</text>
<text x="393.20" y="337.00" text-anchor="end" class="tk">0.2</text>
<text x="393.20" y="290.60" text-anchor="end" class="tk">0.4</text>
<text x="397.80" y="417.90" text-anchor="middle" class="tk">-8</text>
<text x="432.53" y="417.90" text-anchor="middle" class="tk">-6</text>
<text x="467.25" y="417.90" text-anchor="middle" class="tk">-4</text>
<text x="501.98" y="417.90" text-anchor="middle" class="tk">-2</text>
<text x="536.70" y="417.90" text-anchor="middle" class="tk">0</text>
<text x="571.42" y="417.90" text-anchor="middle" class="tk">2</text>
<text x="606.15" y="417.90" text-anchor="middle" class="tk">4</text>
<text x="640.88" y="417.90" text-anchor="middle" class="tk">6</text>
<text x="675.60" y="417.90" text-anchor="middle" class="tk">8</text>
<text x="408.50" y="313.10" class="pl">(d)</text>
<text transform="translate(365.00,343.80) rotate(-90)" text-anchor="middle" class="tt">Error</text>
<text x="536.70" y="444.00" text-anchor="middle" class="tt">Y-position (mm)</text>
<line x1="89.10" y1="458.30" x2="89.10" y2="681.80" stroke="#c9c9c9" stroke-width="1.25"/>
<line x1="123.80" y1="458.30" x2="123.80" y2="681.80" stroke="#c9c9c9" stroke-width="1.25"/>
<line x1="158.50" y1="458.30" x2="158.50" y2="681.80" stroke="#c9c9c9" stroke-width="1.25"/>
<line x1="193.20" y1="458.30" x2="193.20" y2="681.80" stroke="#c9c9c9" stroke-width="1.25"/>
<line x1="227.90" y1="458.30" x2="227.90" y2="681.80" stroke="#c9c9c9" stroke-width="1.25"/>
<line x1="262.60" y1="458.30" x2="262.60" y2="681.80" stroke="#c9c9c9" stroke-width="1.25"/>
<line x1="297.30" y1="458.30" x2="297.30" y2="681.80" stroke="#c9c9c9" stroke-width="1.25"/>
<line x1="54.40" y1="663.17" x2="332.00" y2="663.17" stroke="#c9c9c9" stroke-width="1.25"/>
<line x1="54.40" y1="625.92" x2="332.00" y2="625.92" stroke="#c9c9c9" stroke-width="1.25"/>
<line x1="54.40" y1="588.67" x2="332.00" y2="588.67" stroke="#c9c9c9" stroke-width="1.25"/>
<line x1="54.40" y1="551.42" x2="332.00" y2="551.42" stroke="#c9c9c9" stroke-width="1.25"/>
<line x1="54.40" y1="514.17" x2="332.00" y2="514.17" stroke="#c9c9c9" stroke-width="1.25"/>
<line x1="54.40" y1="476.93" x2="332.00" y2="476.93" stroke="#c9c9c9" stroke-width="1.25"/>
<path d="M69.49,660.57 L70.13,660.51 L70.76,660.44 L71.40,660.38 L72.03,660.32 L72.66,660.25 L73.30,660.19 L73.93,660.13 L74.56,660.06 L75.20,660.00 L75.83,659.93 L76.46,659.86 L77.10,659.80 L77.73,659.73 L78.36,659.66 L79.00,659.60 L79.63,659.53 L80.26,659.46 L80.90,659.39 L81.53,659.31 L82.17,659.24 L82.80,659.17 L83.43,659.09 L84.07,659.02 L84.70,658.94 L85.33,658.86 L85.97,658.78 L86.60,658.70 L87.23,658.62 L87.87,658.54 L88.50,658.45 L89.13,658.37 L89.77,658.28 L90.40,658.19 L91.04,658.10 L91.67,658.00 L92.30,657.91 L92.94,657.81 L93.57,657.71 L94.20,657.60 L94.84,657.49 L95.47,657.37 L96.10,657.25 L96.74,657.13 L97.37,657.00 L98.00,656.87 L98.64,656.73 L99.27,656.58 L99.91,656.43 L100.54,656.27 L101.17,656.11 L101.81,655.93 L102.44,655.75 L103.07,655.56 L103.71,655.37 L104.34,655.16 L104.97,654.95 L105.61,654.73 L106.24,654.50 L106.87,654.26 L107.51,654.00 L108.14,653.74 L108.78,653.47 L109.41,653.18 L110.04,652.88 L110.68,652.56 L111.31,652.23 L111.94,651.87 L112.58,651.50 L113.21,651.11 L113.84,650.70 L114.48,650.26 L115.11,649.80 L115.74,649.32 L116.38,648.81 L117.01,648.27 L117.64,647.71 L118.28,647.12 L118.91,646.49 L119.55,645.84 L120.18,645.16 L120.81,644.46 L121.45,643.73 L122.08,642.98 L122.71,642.21 L123.35,641.42 L123.98,640.61 L124.61,639.79 L125.25,638.95 L125.88,638.11 L126.51,637.24 L127.15,636.36 L127.78,635.43 L128.42,634.46 L129.05,633.43 L129.68,632.34 L130.32,631.17 L130.95,629.92 L131.58,628.60 L132.22,627.19 L132.85,625.71 L133.48,624.15 L134.12,622.51 L134.75,620.79 L135.38,619.00 L136.02,617.13 L136.65,615.18 L137.29,613.16 L137.92,611.07 L138.55,608.92 L139.19,606.73 L139.82,604.49 L140.45,602.24 L141.09,599.96 L141.72,597.67 L142.35,595.38 L142.99,593.09 L143.62,590.81 L144.25,588.53 L144.89,586.27 L145.52,584.02 L146.15,581.79 L146.79,579.56 L147.42,577.34 L148.06,575.13 L148.69,572.92 L149.32,570.72 L149.96,568.52 L150.59,566.32 L151.22,564.12 L151.86,561.92 L152.49,559.71 L153.12,557.50 L153.76,555.29 L154.39,553.06 L155.02,550.83 L155.66,548.59 L156.29,546.34 L156.93,544.10 L157.56,541.88 L158.19,539.68 L158.83,537.51 L159.46,535.38 L160.09,533.30 L160.73,531.27 L161.36,529.28 L161.99,527.32 L162.63,525.38 L163.26,523.47 L163.89,521.56 L164.53,519.65 L165.16,517.74 L165.80,515.82 L166.43,513.87 L167.06,511.90 L167.70,509.90 L168.33,507.88 L168.96,505.85 L169.60,503.83 L170.23,501.81 L170.86,499.82 L171.50,497.87 L172.13,495.98 L172.76,494.17 L173.40,492.46 L174.03,490.88 L174.67,489.43 L175.30,488.13 L175.93,486.97 L176.57,485.93 L177.20,485.01 L177.83,484.18 L178.47,483.45 L179.10,482.79 L179.73,482.19 L180.37,481.65 L181.00,481.15 L181.63,480.68 L182.27,480.26 L182.90,479.87 L183.53,479.51 L184.17,479.18 L184.80,478.89 L185.44,478.63 L186.07,478.40 L186.70,478.19 L187.34,478.01 L187.97,477.86 L188.60,477.73 L189.24,477.62 L189.87,477.53 L190.50,477.46 L191.14,477.42 L191.77,477.38 L192.40,477.37 L193.04,477.37 L193.67,477.39 L194.31,477.42 L194.94,477.47 L195.57,477.54 L196.21,477.63 L196.84,477.74 L197.47,477.87 L198.11,478.03 L198.74,478.21 L199.37,478.41 L200.01,478.64 L200.64,478.90 L201.27,479.19 L201.91,479.51 L202.54,479.86 L203.18,480.26 L203.81,480.70 L204.44,481.18 L205.08,481.72 L205.71,482.31 L206.34,482.96 L206.98,483.68 L207.61,484.46 L208.24,485.32 L208.88,486.24 L209.51,487.25 L210.14,488.34 L210.78,489.50 L211.41,490.73 L212.04,492.04 L212.68,493.42 L213.31,494.86 L213.95,496.38 L214.58,497.95 L215.21,499.59 L215.85,501.29 L216.48,503.05 L217.11,504.86 L217.75,506.73 L218.38,508.65 L219.01,510.61 L219.65,512.61 L220.28,514.63 L220.91,516.66 L221.55,518.71 L222.18,520.77 L222.82,522.85 L223.45,524.94 L224.08,527.05 L224.72,529.16 L225.35,531.29 L225.98,533.44 L226.62,535.59 L227.25,537.75 L227.88,539.93 L228.52,542.13 L229.15,544.33 L229.78,546.56 L230.42,548.80 L231.05,551.05 L231.69,553.33 L232.32,555.62 L232.95,557.93 L233.59,560.26 L234.22,562.59 L234.85,564.94 L235.49,567.30 L236.12,569.67 L236.75,572.04 L237.39,574.42 L238.02,576.80 L238.65,579.18 L239.29,581.57 L239.92,583.95 L240.56,586.33 L241.19,588.71 L241.82,591.08 L242.46,593.44 L243.09,595.78 L243.72,598.10 L244.36,600.39 L244.99,602.64 L245.62,604.85 L246.26,607.01 L246.89,609.12 L247.52,611.18 L248.16,613.19 L248.79,615.13 L249.42,617.01 L250.06,618.82 L250.69,620.56 L251.33,622.23 L251.96,623.82 L252.59,625.33 L253.23,626.76 L253.86,628.11 L254.49,629.39 L255.13,630.61 L255.76,631.79 L256.39,632.92 L257.03,634.02 L257.66,635.08 L258.29,636.12 L258.93,637.13 L259.56,638.11 L260.20,639.05 L260.83,639.97 L261.46,640.85 L262.10,641.69 L262.73,642.50 L263.36,643.27 L264.00,644.00 L264.63,644.70 L265.26,645.35 L265.90,645.97 L266.53,646.55 L267.16,647.09 L267.80,647.60 L268.43,648.08 L269.07,648.53 L269.70,648.95 L270.33,649.34 L270.97,649.72 L271.60,650.07 L272.23,650.40 L272.87,650.72 L273.50,651.02 L274.13,651.30 L274.77,651.58 L275.40,651.84 L276.03,652.10 L276.67,652.35 L277.30,652.60 L277.93,652.84 L278.57,653.07 L279.20,653.30 L279.84,653.52 L280.47,653.74 L281.10,653.94 L281.74,654.15 L282.37,654.35 L283.00,654.54 L283.64,654.72 L284.27,654.90 L284.90,655.08 L285.54,655.25 L286.17,655.42 L286.80,655.58 L287.44,655.73 L288.07,655.89 L288.71,656.03 L289.34,656.17 L289.97,656.31 L290.61,656.44 L291.24,656.57 L291.87,656.70 L292.51,656.82 L293.14,656.94 L293.77,657.05 L294.41,657.16 L295.04,657.27 L295.67,657.37 L296.31,657.47 L296.94,657.57 L297.58,657.66 L298.21,657.76 L298.84,657.85 L299.48,657.94 L300.11,658.02 L300.74,658.11 L301.38,658.19 L302.01,658.28 L302.64,658.36 L303.28,658.44 L303.91,658.52 L304.54,658.60 L305.18,658.68 L305.81,658.75 L306.45,658.83 L307.08,658.91 L307.71,658.98 L308.35,659.06 L308.98,659.13 L309.61,659.20 L310.25,659.27 L310.88,659.35 L311.51,659.42 L312.15,659.49 L312.78,659.56 L313.41,659.63 L314.05,659.70 L314.68,659.76 L315.31,659.83 L315.95,659.90 L316.58,659.97 L317.22,660.04 L317.85,660.10 L318.48,660.17 L319.12,660.24 L319.75,660.30 L320.38,660.37 L321.02,660.44 L321.65,660.50 L322.28,660.57" fill="none" stroke="#4797cd" stroke-width="7" stroke-linecap="round" stroke-linejoin="round"/>
<mask id="mE" maskUnits="userSpaceOnUse" x="0" y="0" width="685" height="901"><rect width="685" height="901" fill="#fff"/><rect x="77.42" y="651.24" width="6.0" height="6.0" fill="#000"/><rect x="92.00" y="647.14" width="6.0" height="6.0" fill="#000"/><rect x="104.14" y="646.58" width="6.0" height="6.0" fill="#000"/><rect x="119.24" y="638.57" width="6.0" height="6.0" fill="#000"/><rect x="131.21" y="621.62" width="6.0" height="6.0" fill="#000"/><rect x="143.53" y="578.78" width="6.0" height="6.0" fill="#000"/><rect x="150.64" y="548.80" width="6.0" height="6.0" fill="#000"/><rect x="157.76" y="518.62" width="6.0" height="6.0" fill="#000"/><rect x="170.25" y="487.89" width="6.0" height="6.0" fill="#000"/><rect x="182.57" y="475.60" width="6.0" height="6.0" fill="#000"/><rect x="195.06" y="474.86" width="6.0" height="6.0" fill="#000"/><rect x="201.82" y="480.63" width="6.0" height="6.0" fill="#000"/><rect x="212.76" y="498.51" width="6.0" height="6.0" fill="#000"/><rect x="221.60" y="519.56" width="6.0" height="6.0" fill="#000"/><rect x="230.11" y="552.34" width="6.0" height="6.0" fill="#000"/><rect x="236.18" y="579.90" width="6.0" height="6.0" fill="#000"/><rect x="248.50" y="618.45" width="6.0" height="6.0" fill="#000"/><rect x="260.47" y="642.48" width="6.0" height="6.0" fill="#000"/><rect x="272.79" y="646.21" width="6.0" height="6.0" fill="#000"/><rect x="287.36" y="652.91" width="6.0" height="6.0" fill="#000"/><rect x="299.68" y="653.47" width="6.0" height="6.0" fill="#000"/><rect x="312.00" y="655.52" width="6.0" height="6.0" fill="#000"/></mask>
<g fill="#ab0014" mask="url(#mE)"><circle cx="85.72" cy="652.75" r="2.1"/><circle cx="100.49" cy="649.88" r="2.1"/><circle cx="112.00" cy="647.00" r="2.1"/><circle cx="125.41" cy="637.08" r="2.1"/><circle cx="135.73" cy="619.34" r="2.1"/><circle cx="138.71" cy="608.96" r="2.1"/><circle cx="141.70" cy="598.58" r="2.1"/><circle cx="144.68" cy="588.20" r="2.1"/><circle cx="147.80" cy="576.43" r="2.1"/><circle cx="150.29" cy="565.92" r="2.1"/><circle cx="154.90" cy="546.44" r="2.1"/><circle cx="157.38" cy="535.93" r="2.1"/><circle cx="162.83" cy="516.53" r="2.1"/><circle cx="166.89" cy="506.52" r="2.1"/><circle cx="170.96" cy="496.52" r="2.1"/><circle cx="177.14" cy="487.01" r="2.1"/><circle cx="191.06" cy="478.27" r="2.1"/><circle cx="207.69" cy="488.32" r="2.1"/><circle cx="217.89" cy="506.58" r="2.1"/><circle cx="222.07" cy="516.54" r="2.1"/><circle cx="225.98" cy="527.88" r="2.1"/><circle cx="228.70" cy="538.33" r="2.1"/><circle cx="231.41" cy="548.79" r="2.1"/><circle cx="234.29" cy="560.71" r="2.1"/><circle cx="236.61" cy="571.25" r="2.1"/><circle cx="240.85" cy="588.14" r="2.1"/><circle cx="244.14" cy="598.43" r="2.1"/><circle cx="247.43" cy="608.72" r="2.1"/><circle cx="253.95" cy="626.38" r="2.1"/><circle cx="258.77" cy="636.04" r="2.1"/><circle cx="268.73" cy="647.07" r="2.1"/><circle cx="280.78" cy="651.51" r="2.1"/><circle cx="295.85" cy="656.16" r="2.1"/><circle cx="308.10" cy="657.37" r="2.1"/></g>
<line x1="80.42" y1="648.65" x2="80.42" y2="651.59" stroke="#ab0014" stroke-width="1.45"/>
<line x1="80.42" y1="656.88" x2="80.42" y2="659.82" stroke="#ab0014" stroke-width="1.45"/>
<line x1="77.52" y1="648.65" x2="83.33" y2="648.65" stroke="#ab0014" stroke-width="1.7"/>
<line x1="77.52" y1="659.82" x2="83.33" y2="659.82" stroke="#ab0014" stroke-width="1.7"/>
<rect x="77.77" y="651.59" width="5.3" height="5.3" fill="none" stroke="#ab0014" stroke-width="2.1"/>
<line x1="95.00" y1="642.69" x2="95.00" y2="647.49" stroke="#ab0014" stroke-width="1.45"/>
<line x1="95.00" y1="652.79" x2="95.00" y2="657.59" stroke="#ab0014" stroke-width="1.45"/>
<line x1="92.10" y1="642.69" x2="97.90" y2="642.69" stroke="#ab0014" stroke-width="1.7"/>
<line x1="92.10" y1="657.59" x2="97.90" y2="657.59" stroke="#ab0014" stroke-width="1.7"/>
<rect x="92.35" y="647.49" width="5.3" height="5.3" fill="none" stroke="#ab0014" stroke-width="2.1"/>
<line x1="107.14" y1="642.87" x2="107.14" y2="646.93" stroke="#ab0014" stroke-width="1.45"/>
<line x1="107.14" y1="652.23" x2="107.14" y2="656.28" stroke="#ab0014" stroke-width="1.45"/>
<line x1="104.24" y1="642.87" x2="110.04" y2="642.87" stroke="#ab0014" stroke-width="1.7"/>
<line x1="104.24" y1="656.28" x2="110.04" y2="656.28" stroke="#ab0014" stroke-width="1.7"/>
<rect x="104.49" y="646.93" width="5.3" height="5.3" fill="none" stroke="#ab0014" stroke-width="2.1"/>
<line x1="122.24" y1="634.31" x2="122.24" y2="638.92" stroke="#ab0014" stroke-width="1.45"/>
<line x1="122.24" y1="644.22" x2="122.24" y2="648.83" stroke="#ab0014" stroke-width="1.45"/>
<line x1="119.34" y1="634.31" x2="125.14" y2="634.31" stroke="#ab0014" stroke-width="1.7"/>
<line x1="119.34" y1="648.83" x2="125.14" y2="648.83" stroke="#ab0014" stroke-width="1.7"/>
<rect x="119.59" y="638.92" width="5.3" height="5.3" fill="none" stroke="#ab0014" stroke-width="2.1"/>
<line x1="134.21" y1="617.92" x2="134.21" y2="621.97" stroke="#ab0014" stroke-width="1.45"/>
<line x1="134.21" y1="627.27" x2="134.21" y2="631.33" stroke="#ab0014" stroke-width="1.45"/>
<line x1="131.31" y1="617.92" x2="137.11" y2="617.92" stroke="#ab0014" stroke-width="1.7"/>
<line x1="131.31" y1="631.33" x2="137.11" y2="631.33" stroke="#ab0014" stroke-width="1.7"/>
<rect x="131.56" y="621.97" width="5.3" height="5.3" fill="none" stroke="#ab0014" stroke-width="2.1"/>
<line x1="146.53" y1="574.89" x2="146.53" y2="579.13" stroke="#ab0014" stroke-width="1.45"/>
<line x1="146.53" y1="584.43" x2="146.53" y2="588.67" stroke="#ab0014" stroke-width="1.45"/>
<line x1="143.63" y1="574.89" x2="149.43" y2="574.89" stroke="#ab0014" stroke-width="1.7"/>
<line x1="143.63" y1="588.67" x2="149.43" y2="588.67" stroke="#ab0014" stroke-width="1.7"/>
<rect x="143.88" y="579.13" width="5.3" height="5.3" fill="none" stroke="#ab0014" stroke-width="2.1"/>
<line x1="153.64" y1="544.35" x2="153.64" y2="549.15" stroke="#ab0014" stroke-width="1.45"/>
<line x1="153.64" y1="554.45" x2="153.64" y2="559.25" stroke="#ab0014" stroke-width="1.45"/>
<line x1="150.74" y1="544.35" x2="156.54" y2="544.35" stroke="#ab0014" stroke-width="1.7"/>
<line x1="150.74" y1="559.25" x2="156.54" y2="559.25" stroke="#ab0014" stroke-width="1.7"/>
<rect x="150.99" y="549.15" width="5.3" height="5.3" fill="none" stroke="#ab0014" stroke-width="2.1"/>
<line x1="160.76" y1="513.24" x2="160.76" y2="518.98" stroke="#ab0014" stroke-width="1.45"/>
<line x1="160.76" y1="524.27" x2="160.76" y2="530.01" stroke="#ab0014" stroke-width="1.45"/>
<line x1="157.86" y1="513.24" x2="163.66" y2="513.24" stroke="#ab0014" stroke-width="1.7"/>
<line x1="157.86" y1="530.01" x2="163.66" y2="530.01" stroke="#ab0014" stroke-width="1.7"/>
<rect x="158.11" y="518.98" width="5.3" height="5.3" fill="none" stroke="#ab0014" stroke-width="2.1"/>
<line x1="173.25" y1="483.07" x2="173.25" y2="488.24" stroke="#ab0014" stroke-width="1.45"/>
<line x1="173.25" y1="493.54" x2="173.25" y2="498.72" stroke="#ab0014" stroke-width="1.45"/>
<line x1="170.35" y1="483.07" x2="176.15" y2="483.07" stroke="#ab0014" stroke-width="1.7"/>
<line x1="170.35" y1="498.72" x2="176.15" y2="498.72" stroke="#ab0014" stroke-width="1.7"/>
<rect x="170.60" y="488.24" width="5.3" height="5.3" fill="none" stroke="#ab0014" stroke-width="2.1"/>
<line x1="185.57" y1="471.71" x2="185.57" y2="475.95" stroke="#ab0014" stroke-width="1.45"/>
<line x1="185.57" y1="481.25" x2="185.57" y2="485.49" stroke="#ab0014" stroke-width="1.45"/>
<line x1="182.67" y1="471.71" x2="188.47" y2="471.71" stroke="#ab0014" stroke-width="1.7"/>
<line x1="182.67" y1="485.49" x2="188.47" y2="485.49" stroke="#ab0014" stroke-width="1.7"/>
<rect x="182.92" y="475.95" width="5.3" height="5.3" fill="none" stroke="#ab0014" stroke-width="2.1"/>
<line x1="198.06" y1="471.90" x2="198.06" y2="475.21" stroke="#ab0014" stroke-width="1.45"/>
<line x1="198.06" y1="480.51" x2="198.06" y2="483.82" stroke="#ab0014" stroke-width="1.45"/>
<line x1="195.16" y1="471.90" x2="200.96" y2="471.90" stroke="#ab0014" stroke-width="1.7"/>
<line x1="195.16" y1="483.82" x2="200.96" y2="483.82" stroke="#ab0014" stroke-width="1.7"/>
<rect x="195.41" y="475.21" width="5.3" height="5.3" fill="none" stroke="#ab0014" stroke-width="2.1"/>
<line x1="204.82" y1="477.11" x2="204.82" y2="480.98" stroke="#ab0014" stroke-width="1.45"/>
<line x1="204.82" y1="486.28" x2="204.82" y2="490.15" stroke="#ab0014" stroke-width="1.45"/>
<line x1="201.92" y1="477.11" x2="207.72" y2="477.11" stroke="#ab0014" stroke-width="1.7"/>
<line x1="201.92" y1="490.15" x2="207.72" y2="490.15" stroke="#ab0014" stroke-width="1.7"/>
<rect x="202.17" y="480.98" width="5.3" height="5.3" fill="none" stroke="#ab0014" stroke-width="2.1"/>
<line x1="215.76" y1="494.43" x2="215.76" y2="498.86" stroke="#ab0014" stroke-width="1.45"/>
<line x1="215.76" y1="504.16" x2="215.76" y2="508.59" stroke="#ab0014" stroke-width="1.45"/>
<line x1="212.86" y1="494.43" x2="218.66" y2="494.43" stroke="#ab0014" stroke-width="1.7"/>
<line x1="212.86" y1="508.59" x2="218.66" y2="508.59" stroke="#ab0014" stroke-width="1.7"/>
<rect x="213.11" y="498.86" width="5.3" height="5.3" fill="none" stroke="#ab0014" stroke-width="2.1"/>
<line x1="224.60" y1="513.80" x2="224.60" y2="519.91" stroke="#ab0014" stroke-width="1.45"/>
<line x1="224.60" y1="525.21" x2="224.60" y2="531.31" stroke="#ab0014" stroke-width="1.45"/>
<line x1="221.70" y1="513.80" x2="227.50" y2="513.80" stroke="#ab0014" stroke-width="1.7"/>
<line x1="221.70" y1="531.31" x2="227.50" y2="531.31" stroke="#ab0014" stroke-width="1.7"/>
<rect x="221.95" y="519.91" width="5.3" height="5.3" fill="none" stroke="#ab0014" stroke-width="2.1"/>
<line x1="233.11" y1="546.96" x2="233.11" y2="552.69" stroke="#ab0014" stroke-width="1.45"/>
<line x1="233.11" y1="557.99" x2="233.11" y2="563.72" stroke="#ab0014" stroke-width="1.45"/>
<line x1="230.21" y1="546.96" x2="236.01" y2="546.96" stroke="#ab0014" stroke-width="1.7"/>
<line x1="230.21" y1="563.72" x2="236.01" y2="563.72" stroke="#ab0014" stroke-width="1.7"/>
<rect x="230.46" y="552.69" width="5.3" height="5.3" fill="none" stroke="#ab0014" stroke-width="2.1"/>
<line x1="239.18" y1="576.01" x2="239.18" y2="580.25" stroke="#ab0014" stroke-width="1.45"/>
<line x1="239.18" y1="585.55" x2="239.18" y2="589.79" stroke="#ab0014" stroke-width="1.45"/>
<line x1="236.28" y1="576.01" x2="242.08" y2="576.01" stroke="#ab0014" stroke-width="1.7"/>
<line x1="236.28" y1="589.79" x2="242.08" y2="589.79" stroke="#ab0014" stroke-width="1.7"/>
<rect x="236.53" y="580.25" width="5.3" height="5.3" fill="none" stroke="#ab0014" stroke-width="2.1"/>
<line x1="251.50" y1="612.89" x2="251.50" y2="618.80" stroke="#ab0014" stroke-width="1.45"/>
<line x1="251.50" y1="624.10" x2="251.50" y2="630.02" stroke="#ab0014" stroke-width="1.45"/>
<line x1="248.60" y1="612.89" x2="254.40" y2="612.89" stroke="#ab0014" stroke-width="1.7"/>
<line x1="248.60" y1="630.02" x2="254.40" y2="630.02" stroke="#ab0014" stroke-width="1.7"/>
<rect x="248.85" y="618.80" width="5.3" height="5.3" fill="none" stroke="#ab0014" stroke-width="2.1"/>
<line x1="263.47" y1="637.84" x2="263.47" y2="642.83" stroke="#ab0014" stroke-width="1.45"/>
<line x1="263.47" y1="648.13" x2="263.47" y2="653.12" stroke="#ab0014" stroke-width="1.45"/>
<line x1="260.57" y1="637.84" x2="266.37" y2="637.84" stroke="#ab0014" stroke-width="1.7"/>
<line x1="260.57" y1="653.12" x2="266.37" y2="653.12" stroke="#ab0014" stroke-width="1.7"/>
<rect x="260.82" y="642.83" width="5.3" height="5.3" fill="none" stroke="#ab0014" stroke-width="2.1"/>
<line x1="275.79" y1="641.38" x2="275.79" y2="646.56" stroke="#ab0014" stroke-width="1.45"/>
<line x1="275.79" y1="651.86" x2="275.79" y2="657.03" stroke="#ab0014" stroke-width="1.45"/>
<line x1="272.89" y1="641.38" x2="278.69" y2="641.38" stroke="#ab0014" stroke-width="1.7"/>
<line x1="272.89" y1="657.03" x2="278.69" y2="657.03" stroke="#ab0014" stroke-width="1.7"/>
<rect x="273.14" y="646.56" width="5.3" height="5.3" fill="none" stroke="#ab0014" stroke-width="2.1"/>
<line x1="290.36" y1="648.46" x2="290.36" y2="653.26" stroke="#ab0014" stroke-width="1.45"/>
<line x1="290.36" y1="658.56" x2="290.36" y2="663.36" stroke="#ab0014" stroke-width="1.45"/>
<line x1="287.46" y1="648.46" x2="293.26" y2="648.46" stroke="#ab0014" stroke-width="1.7"/>
<line x1="287.46" y1="663.36" x2="293.26" y2="663.36" stroke="#ab0014" stroke-width="1.7"/>
<rect x="287.71" y="653.26" width="5.3" height="5.3" fill="none" stroke="#ab0014" stroke-width="2.1"/>
<line x1="302.68" y1="649.95" x2="302.68" y2="653.82" stroke="#ab0014" stroke-width="1.45"/>
<line x1="302.68" y1="659.12" x2="302.68" y2="662.99" stroke="#ab0014" stroke-width="1.45"/>
<line x1="299.78" y1="649.95" x2="305.58" y2="649.95" stroke="#ab0014" stroke-width="1.7"/>
<line x1="299.78" y1="662.99" x2="305.58" y2="662.99" stroke="#ab0014" stroke-width="1.7"/>
<rect x="300.03" y="653.82" width="5.3" height="5.3" fill="none" stroke="#ab0014" stroke-width="2.1"/>
<line x1="315.00" y1="652.37" x2="315.00" y2="655.87" stroke="#ab0014" stroke-width="1.45"/>
<line x1="315.00" y1="661.17" x2="315.00" y2="664.66" stroke="#ab0014" stroke-width="1.45"/>
<line x1="312.10" y1="652.37" x2="317.90" y2="652.37" stroke="#ab0014" stroke-width="1.7"/>
<line x1="312.10" y1="664.66" x2="317.90" y2="664.66" stroke="#ab0014" stroke-width="1.7"/>
<rect x="312.35" y="655.87" width="5.3" height="5.3" fill="none" stroke="#ab0014" stroke-width="2.1"/>
<rect x="147.6" y="607.5" width="90.90" height="44.70" fill="#fff" stroke="#7a7a7a" stroke-width="1"/>
<text x="193.55" y="624.70" text-anchor="middle" class="bx">Single beam</text>
<text x="193.55" y="644.90" text-anchor="middle" class="bx">5 mm - X</text>
<rect x="265.4" y="466.6" width="62.40" height="34.70" fill="#fff" stroke="#b4b4b4" stroke-width="1"/>
<line x1="267.60" y1="476.20" x2="296.20" y2="476.20" stroke="#4797cd" stroke-width="2.3" stroke-linecap="round"/>
<line x1="267.60" y1="492.60" x2="296.20" y2="492.60" stroke="#ab0014" stroke-width="2.3" stroke-linecap="round"/>
<rect x="279.00" y="489.90" width="5.4" height="5.2" fill="#ab0014"/>
<text x="300.20" y="480.60" class="lg">TPS</text>
<text x="300.20" y="496.60" class="lg">Film</text>
<line x1="54.40" y1="681.80" x2="54.40" y2="677.80" stroke="#000" stroke-width="1.8"/>
<line x1="89.10" y1="681.80" x2="89.10" y2="677.80" stroke="#000" stroke-width="1.8"/>
<line x1="123.80" y1="681.80" x2="123.80" y2="677.80" stroke="#000" stroke-width="1.8"/>
<line x1="158.50" y1="681.80" x2="158.50" y2="677.80" stroke="#000" stroke-width="1.8"/>
<line x1="193.20" y1="681.80" x2="193.20" y2="677.80" stroke="#000" stroke-width="1.8"/>
<line x1="227.90" y1="681.80" x2="227.90" y2="677.80" stroke="#000" stroke-width="1.8"/>
<line x1="262.60" y1="681.80" x2="262.60" y2="677.80" stroke="#000" stroke-width="1.8"/>
<line x1="297.30" y1="681.80" x2="297.30" y2="677.80" stroke="#000" stroke-width="1.8"/>
<line x1="332.00" y1="681.80" x2="332.00" y2="677.80" stroke="#000" stroke-width="1.8"/>
<line x1="71.75" y1="681.80" x2="71.75" y2="679.60" stroke="#000" stroke-width="1.8"/>
<line x1="106.45" y1="681.80" x2="106.45" y2="679.60" stroke="#000" stroke-width="1.8"/>
<line x1="141.15" y1="681.80" x2="141.15" y2="679.60" stroke="#000" stroke-width="1.8"/>
<line x1="175.85" y1="681.80" x2="175.85" y2="679.60" stroke="#000" stroke-width="1.8"/>
<line x1="210.55" y1="681.80" x2="210.55" y2="679.60" stroke="#000" stroke-width="1.8"/>
<line x1="245.25" y1="681.80" x2="245.25" y2="679.60" stroke="#000" stroke-width="1.8"/>
<line x1="279.95" y1="681.80" x2="279.95" y2="679.60" stroke="#000" stroke-width="1.8"/>
<line x1="314.65" y1="681.80" x2="314.65" y2="679.60" stroke="#000" stroke-width="1.8"/>
<line x1="54.40" y1="663.17" x2="58.40" y2="663.17" stroke="#000" stroke-width="1.8"/>
<line x1="54.40" y1="625.92" x2="58.40" y2="625.92" stroke="#000" stroke-width="1.8"/>
<line x1="54.40" y1="588.67" x2="58.40" y2="588.67" stroke="#000" stroke-width="1.8"/>
<line x1="54.40" y1="551.42" x2="58.40" y2="551.42" stroke="#000" stroke-width="1.8"/>
<line x1="54.40" y1="514.17" x2="58.40" y2="514.17" stroke="#000" stroke-width="1.8"/>
<line x1="54.40" y1="476.93" x2="58.40" y2="476.93" stroke="#000" stroke-width="1.8"/>
<line x1="54.40" y1="644.55" x2="56.60" y2="644.55" stroke="#000" stroke-width="1.8"/>
<line x1="54.40" y1="607.30" x2="56.60" y2="607.30" stroke="#000" stroke-width="1.8"/>
<line x1="54.40" y1="570.05" x2="56.60" y2="570.05" stroke="#000" stroke-width="1.8"/>
<line x1="54.40" y1="532.80" x2="56.60" y2="532.80" stroke="#000" stroke-width="1.8"/>
<line x1="54.40" y1="495.55" x2="56.60" y2="495.55" stroke="#000" stroke-width="1.8"/>
<rect x="54.40" y="458.30" width="277.60" height="223.50" fill="none" stroke="#000" stroke-width="1.6"/>
<text x="49.80" y="668.47" text-anchor="end" class="tk">0.0</text>
<text x="49.80" y="631.22" text-anchor="end" class="tk">0.2</text>
<text x="49.80" y="593.97" text-anchor="end" class="tk">0.4</text>
<text x="49.80" y="556.72" text-anchor="end" class="tk">0.6</text>
<text x="49.80" y="519.47" text-anchor="end" class="tk">0.8</text>
<text x="49.80" y="482.23" text-anchor="end" class="tk">1.0</text>
<text x="54.40" y="698.40" text-anchor="middle" class="tk">-8</text>
<text x="89.10" y="698.40" text-anchor="middle" class="tk">-6</text>
<text x="123.80" y="698.40" text-anchor="middle" class="tk">-4</text>
<text x="158.50" y="698.40" text-anchor="middle" class="tk">-2</text>
<text x="193.20" y="698.40" text-anchor="middle" class="tk">0</text>
<text x="227.90" y="698.40" text-anchor="middle" class="tk">2</text>
<text x="262.60" y="698.40" text-anchor="middle" class="tk">4</text>
<text x="297.30" y="698.40" text-anchor="middle" class="tk">6</text>
<text x="332.00" y="698.40" text-anchor="middle" class="tk">8</text>
<text x="65.10" y="486.10" class="pl">(e)</text>
<text transform="translate(19.80,570.05) rotate(-90)" text-anchor="middle" class="tt">Norminalized Intensity</text>
<text x="193.20" y="724.50" text-anchor="middle" class="tt">X-position (mm)</text>
<line x1="432.20" y1="458.40" x2="432.20" y2="681.80" stroke="#c9c9c9" stroke-width="1.25"/>
<line x1="466.90" y1="458.40" x2="466.90" y2="681.80" stroke="#c9c9c9" stroke-width="1.25"/>
<line x1="501.60" y1="458.40" x2="501.60" y2="681.80" stroke="#c9c9c9" stroke-width="1.25"/>
<line x1="536.30" y1="458.40" x2="536.30" y2="681.80" stroke="#c9c9c9" stroke-width="1.25"/>
<line x1="571.00" y1="458.40" x2="571.00" y2="681.80" stroke="#c9c9c9" stroke-width="1.25"/>
<line x1="605.70" y1="458.40" x2="605.70" y2="681.80" stroke="#c9c9c9" stroke-width="1.25"/>
<line x1="640.40" y1="458.40" x2="640.40" y2="681.80" stroke="#c9c9c9" stroke-width="1.25"/>
<line x1="397.50" y1="663.18" x2="675.10" y2="663.18" stroke="#c9c9c9" stroke-width="1.25"/>
<line x1="397.50" y1="625.95" x2="675.10" y2="625.95" stroke="#c9c9c9" stroke-width="1.25"/>
<line x1="397.50" y1="588.72" x2="675.10" y2="588.72" stroke="#c9c9c9" stroke-width="1.25"/>
<line x1="397.50" y1="551.48" x2="675.10" y2="551.48" stroke="#c9c9c9" stroke-width="1.25"/>
<line x1="397.50" y1="514.25" x2="675.10" y2="514.25" stroke="#c9c9c9" stroke-width="1.25"/>
<line x1="397.50" y1="477.02" x2="675.10" y2="477.02" stroke="#c9c9c9" stroke-width="1.25"/>
<path d="M417.80,660.60 L418.42,660.58 L419.03,660.56 L419.65,660.53 L420.26,660.51 L420.88,660.49 L421.50,660.46 L422.11,660.43 L422.73,660.40 L423.34,660.37 L423.96,660.34 L424.58,660.30 L425.19,660.26 L425.81,660.21 L426.43,660.16 L427.04,660.11 L427.66,660.05 L428.27,659.99 L428.89,659.92 L429.51,659.85 L430.12,659.77 L430.74,659.68 L431.36,659.59 L431.97,659.49 L432.59,659.39 L433.20,659.27 L433.82,659.15 L434.44,659.03 L435.05,658.89 L435.67,658.75 L436.28,658.61 L436.90,658.46 L437.52,658.30 L438.13,658.14 L438.75,657.97 L439.37,657.80 L439.98,657.63 L440.60,657.44 L441.21,657.26 L441.83,657.07 L442.45,656.88 L443.06,656.68 L443.68,656.48 L444.29,656.28 L444.91,656.08 L445.53,655.87 L446.14,655.66 L446.76,655.44 L447.38,655.23 L447.99,655.01 L448.61,654.78 L449.22,654.55 L449.84,654.31 L450.46,654.07 L451.07,653.82 L451.69,653.56 L452.30,653.29 L452.92,653.02 L453.54,652.73 L454.15,652.44 L454.77,652.14 L455.39,651.82 L456.00,651.50 L456.62,651.16 L457.23,650.81 L457.85,650.45 L458.47,650.07 L459.08,649.67 L459.70,649.26 L460.31,648.82 L460.93,648.37 L461.55,647.89 L462.16,647.39 L462.78,646.87 L463.40,646.31 L464.01,645.73 L464.63,645.13 L465.24,644.49 L465.86,643.82 L466.48,643.11 L467.09,642.36 L467.71,641.57 L468.32,640.71 L468.94,639.80 L469.56,638.81 L470.17,637.76 L470.79,636.64 L471.41,635.46 L472.02,634.20 L472.64,632.89 L473.25,631.51 L473.87,630.07 L474.49,628.57 L475.10,627.02 L475.72,625.40 L476.34,623.73 L476.95,622.01 L477.57,620.23 L478.18,618.42 L478.80,616.56 L479.42,614.67 L480.03,612.74 L480.65,610.79 L481.26,608.80 L481.88,606.79 L482.50,604.74 L483.11,602.64 L483.73,600.50 L484.35,598.31 L484.96,596.06 L485.58,593.74 L486.19,591.37 L486.81,588.98 L487.43,586.57 L488.04,584.18 L488.66,581.78 L489.27,579.41 L489.89,577.05 L490.51,574.71 L491.12,572.41 L491.74,570.13 L492.36,567.89 L492.97,565.70 L493.59,563.54 L494.20,561.42 L494.82,559.32 L495.44,557.22 L496.05,555.14 L496.67,553.05 L497.28,550.95 L497.90,548.82 L498.52,546.68 L499.13,544.53 L499.75,542.38 L500.37,540.22 L500.98,538.08 L501.60,535.96 L502.21,533.86 L502.83,531.79 L503.45,529.76 L504.06,527.77 L504.68,525.81 L505.29,523.88 L505.91,521.98 L506.53,520.10 L507.14,518.25 L507.76,516.42 L508.38,514.61 L508.99,512.81 L509.61,511.03 L510.22,509.27 L510.84,507.55 L511.46,505.86 L512.07,504.22 L512.69,502.62 L513.30,501.09 L513.92,499.62 L514.54,498.22 L515.15,496.88 L515.77,495.61 L516.39,494.39 L517.00,493.23 L517.62,492.13 L518.23,491.07 L518.85,490.06 L519.47,489.09 L520.08,488.16 L520.70,487.27 L521.32,486.41 L521.93,485.59 L522.55,484.80 L523.16,484.05 L523.78,483.33 L524.40,482.66 L525.01,482.02 L525.63,481.43 L526.24,480.87 L526.86,480.36 L527.48,479.89 L528.09,479.47 L528.71,479.09 L529.33,478.75 L529.94,478.45 L530.56,478.19 L531.17,477.97 L531.79,477.77 L532.41,477.61 L533.02,477.47 L533.64,477.35 L534.25,477.25 L534.87,477.17 L535.49,477.10 L536.10,477.05 L536.72,477.00 L537.34,476.96 L537.95,476.93 L538.57,476.91 L539.18,476.91 L539.80,476.93 L540.42,476.98 L541.03,477.05 L541.65,477.15 L542.26,477.29 L542.88,477.46 L543.50,477.68 L544.11,477.95 L544.73,478.27 L545.35,478.65 L545.96,479.08 L546.58,479.57 L547.19,480.14 L547.81,480.77 L548.43,481.48 L549.04,482.27 L549.66,483.13 L550.27,484.06 L550.89,485.06 L551.51,486.13 L552.12,487.27 L552.74,488.48 L553.36,489.76 L553.97,491.10 L554.59,492.51 L555.20,493.98 L555.82,495.51 L556.44,497.10 L557.05,498.76 L557.67,500.47 L558.28,502.23 L558.90,504.06 L559.52,505.94 L560.13,507.87 L560.75,509.86 L561.37,511.89 L561.98,513.98 L562.60,516.12 L563.21,518.30 L563.83,520.53 L564.45,522.81 L565.06,525.12 L565.68,527.48 L566.30,529.86 L566.91,532.28 L567.53,534.71 L568.14,537.17 L568.76,539.63 L569.38,542.09 L569.99,544.53 L570.61,546.95 L571.22,549.33 L571.84,551.67 L572.46,553.96 L573.07,556.20 L573.69,558.41 L574.31,560.58 L574.92,562.71 L575.54,564.83 L576.15,566.92 L576.77,568.99 L577.39,571.06 L578.00,573.11 L578.62,575.16 L579.23,577.22 L579.85,579.28 L580.47,581.34 L581.08,583.41 L581.70,585.47 L582.32,587.52 L582.93,589.57 L583.55,591.60 L584.16,593.62 L584.78,595.63 L585.40,597.62 L586.01,599.59 L586.63,601.55 L587.24,603.49 L587.86,605.41 L588.48,607.31 L589.09,609.19 L589.71,611.05 L590.33,612.88 L590.94,614.68 L591.56,616.45 L592.17,618.18 L592.79,619.86 L593.41,621.49 L594.02,623.07 L594.64,624.58 L595.25,626.02 L595.87,627.39 L596.49,628.70 L597.10,629.95 L597.72,631.14 L598.34,632.29 L598.95,633.38 L599.57,634.43 L600.18,635.44 L600.80,636.42 L601.42,637.37 L602.03,638.29 L602.65,639.19 L603.26,640.07 L603.88,640.93 L604.50,641.77 L605.11,642.59 L605.73,643.40 L606.35,644.18 L606.96,644.93 L607.58,645.67 L608.19,646.38 L608.81,647.06 L609.43,647.72 L610.04,648.35 L610.66,648.95 L611.28,649.52 L611.89,650.07 L612.51,650.59 L613.12,651.08 L613.74,651.55 L614.36,652.00 L614.97,652.43 L615.59,652.84 L616.20,653.22 L616.82,653.59 L617.44,653.93 L618.05,654.26 L618.67,654.58 L619.29,654.87 L619.90,655.15 L620.52,655.42 L621.13,655.67 L621.75,655.91 L622.37,656.14 L622.98,656.35 L623.60,656.56 L624.21,656.75 L624.83,656.93 L625.45,657.10 L626.06,657.27 L626.68,657.42 L627.30,657.56 L627.91,657.70 L628.53,657.83 L629.14,657.95 L629.76,658.06 L630.38,658.17 L630.99,658.27 L631.61,658.37 L632.22,658.46 L632.84,658.54 L633.46,658.63 L634.07,658.71 L634.69,658.78 L635.31,658.86 L635.92,658.93 L636.54,659.00 L637.15,659.07 L637.77,659.13 L638.39,659.20 L639.00,659.26 L639.62,659.32 L640.23,659.37 L640.85,659.43 L641.47,659.48 L642.08,659.54 L642.70,659.59 L643.32,659.64 L643.93,659.69 L644.55,659.74 L645.16,659.78 L645.78,659.83 L646.40,659.88 L647.01,659.92 L647.63,659.97 L648.24,660.02 L648.86,660.06 L649.48,660.11 L650.09,660.15 L650.71,660.20 L651.33,660.24 L651.94,660.29 L652.56,660.33 L653.17,660.38 L653.79,660.42 L654.41,660.47 L655.02,660.51 L655.64,660.56 L656.26,660.60 L656.87,660.65 L657.49,660.69 L658.10,660.74 L658.72,660.78 L659.34,660.82 L659.95,660.87 L660.57,660.91 L661.18,660.96 L661.80,661.00 L662.42,661.05 L663.03,661.09 L663.65,661.14" fill="none" stroke="#4797cd" stroke-width="7" stroke-linecap="round" stroke-linejoin="round"/>
<mask id="mF" maskUnits="userSpaceOnUse" x="0" y="0" width="685" height="901"><rect width="685" height="901" fill="#fff"/><rect x="417.92" y="649.20" width="6.0" height="6.0" fill="#000"/><rect x="429.72" y="649.76" width="6.0" height="6.0" fill="#000"/><rect x="441.52" y="646.59" width="6.0" height="6.0" fill="#000"/><rect x="453.66" y="641.01" width="6.0" height="6.0" fill="#000"/><rect x="465.46" y="627.79" width="6.0" height="6.0" fill="#000"/><rect x="477.26" y="605.26" width="6.0" height="6.0" fill="#000"/><rect x="488.71" y="563.19" width="6.0" height="6.0" fill="#000"/><rect x="500.68" y="522.23" width="6.0" height="6.0" fill="#000"/><rect x="512.48" y="490.59" width="6.0" height="6.0" fill="#000"/><rect x="524.28" y="477.55" width="6.0" height="6.0" fill="#000"/><rect x="535.73" y="474.76" width="6.0" height="6.0" fill="#000"/><rect x="548.22" y="484.44" width="6.0" height="6.0" fill="#000"/><rect x="560.19" y="507.34" width="6.0" height="6.0" fill="#000"/><rect x="572.16" y="550.16" width="6.0" height="6.0" fill="#000"/><rect x="583.79" y="596.70" width="6.0" height="6.0" fill="#000"/><rect x="595.59" y="623.51" width="6.0" height="6.0" fill="#000"/><rect x="607.38" y="642.87" width="6.0" height="6.0" fill="#000"/><rect x="619.18" y="647.34" width="6.0" height="6.0" fill="#000"/><rect x="631.15" y="648.83" width="6.0" height="6.0" fill="#000"/><rect x="643.13" y="650.50" width="6.0" height="6.0" fill="#000"/></mask>
<g fill="#ab0014" mask="url(#mF)"><circle cx="426.42" cy="652.46" r="2.1"/><circle cx="438.03" cy="651.33" r="2.1"/><circle cx="449.52" cy="647.30" r="2.1"/><circle cx="460.33" cy="639.90" r="2.1"/><circle cx="471.01" cy="625.92" r="2.1"/><circle cx="476.02" cy="616.35" r="2.1"/><circle cx="481.70" cy="602.96" r="2.1"/><circle cx="484.54" cy="592.54" r="2.1"/><circle cx="487.38" cy="582.12" r="2.1"/><circle cx="493.25" cy="560.91" r="2.1"/><circle cx="496.28" cy="550.55" r="2.1"/><circle cx="499.31" cy="540.18" r="2.1"/><circle cx="505.60" cy="520.08" r="2.1"/><circle cx="509.38" cy="509.96" r="2.1"/><circle cx="513.15" cy="499.84" r="2.1"/><circle cx="519.17" cy="489.51" r="2.1"/><circle cx="532.62" cy="479.25" r="2.1"/><circle cx="543.08" cy="481.13" r="2.1"/><circle cx="553.77" cy="492.32" r="2.1"/><circle cx="558.77" cy="501.89" r="2.1"/><circle cx="564.67" cy="515.64" r="2.1"/><circle cx="567.58" cy="526.04" r="2.1"/><circle cx="570.49" cy="536.44" r="2.1"/><circle cx="573.40" cy="546.84" r="2.1"/><circle cx="576.50" cy="558.49" r="2.1"/><circle cx="579.11" cy="568.97" r="2.1"/><circle cx="581.73" cy="579.45" r="2.1"/><circle cx="584.35" cy="589.93" r="2.1"/><circle cx="589.00" cy="604.73" r="2.1"/><circle cx="593.35" cy="614.62" r="2.1"/><circle cx="601.45" cy="631.21" r="2.1"/><circle cx="607.07" cy="640.43" r="2.1"/><circle cx="615.53" cy="647.82" r="2.1"/><circle cx="627.64" cy="651.02" r="2.1"/><circle cx="639.60" cy="652.59" r="2.1"/></g>
<line x1="420.92" y1="645.31" x2="420.92" y2="649.55" stroke="#ab0014" stroke-width="1.45"/>
<line x1="420.92" y1="654.85" x2="420.92" y2="659.09" stroke="#ab0014" stroke-width="1.45"/>
<line x1="418.02" y1="645.31" x2="423.82" y2="645.31" stroke="#ab0014" stroke-width="1.7"/>
<line x1="418.02" y1="659.09" x2="423.82" y2="659.09" stroke="#ab0014" stroke-width="1.7"/>
<rect x="418.27" y="649.55" width="5.3" height="5.3" fill="none" stroke="#ab0014" stroke-width="2.1"/>
<line x1="432.72" y1="645.13" x2="432.72" y2="650.11" stroke="#ab0014" stroke-width="1.45"/>
<line x1="432.72" y1="655.41" x2="432.72" y2="660.39" stroke="#ab0014" stroke-width="1.45"/>
<line x1="429.82" y1="645.13" x2="435.62" y2="645.13" stroke="#ab0014" stroke-width="1.7"/>
<line x1="429.82" y1="660.39" x2="435.62" y2="660.39" stroke="#ab0014" stroke-width="1.7"/>
<rect x="430.07" y="650.11" width="5.3" height="5.3" fill="none" stroke="#ab0014" stroke-width="2.1"/>
<line x1="444.52" y1="642.89" x2="444.52" y2="646.94" stroke="#ab0014" stroke-width="1.45"/>
<line x1="444.52" y1="652.24" x2="444.52" y2="656.30" stroke="#ab0014" stroke-width="1.45"/>
<line x1="441.62" y1="642.89" x2="447.42" y2="642.89" stroke="#ab0014" stroke-width="1.7"/>
<line x1="441.62" y1="656.30" x2="447.42" y2="656.30" stroke="#ab0014" stroke-width="1.7"/>
<rect x="441.87" y="646.94" width="5.3" height="5.3" fill="none" stroke="#ab0014" stroke-width="2.1"/>
<line x1="456.66" y1="638.05" x2="456.66" y2="641.36" stroke="#ab0014" stroke-width="1.45"/>
<line x1="456.66" y1="646.66" x2="456.66" y2="649.97" stroke="#ab0014" stroke-width="1.45"/>
<line x1="453.76" y1="638.05" x2="459.56" y2="638.05" stroke="#ab0014" stroke-width="1.7"/>
<line x1="453.76" y1="649.97" x2="459.56" y2="649.97" stroke="#ab0014" stroke-width="1.7"/>
<rect x="454.01" y="641.36" width="5.3" height="5.3" fill="none" stroke="#ab0014" stroke-width="2.1"/>
<line x1="468.46" y1="623.34" x2="468.46" y2="628.14" stroke="#ab0014" stroke-width="1.45"/>
<line x1="468.46" y1="633.44" x2="468.46" y2="638.24" stroke="#ab0014" stroke-width="1.45"/>
<line x1="465.56" y1="623.34" x2="471.36" y2="623.34" stroke="#ab0014" stroke-width="1.7"/>
<line x1="465.56" y1="638.24" x2="471.36" y2="638.24" stroke="#ab0014" stroke-width="1.7"/>
<rect x="465.81" y="628.14" width="5.3" height="5.3" fill="none" stroke="#ab0014" stroke-width="2.1"/>
<line x1="480.26" y1="601.75" x2="480.26" y2="605.61" stroke="#ab0014" stroke-width="1.45"/>
<line x1="480.26" y1="610.91" x2="480.26" y2="614.78" stroke="#ab0014" stroke-width="1.45"/>
<line x1="477.36" y1="601.75" x2="483.16" y2="601.75" stroke="#ab0014" stroke-width="1.7"/>
<line x1="477.36" y1="614.78" x2="483.16" y2="614.78" stroke="#ab0014" stroke-width="1.7"/>
<rect x="477.61" y="605.61" width="5.3" height="5.3" fill="none" stroke="#ab0014" stroke-width="2.1"/>
<line x1="491.71" y1="556.88" x2="491.71" y2="563.54" stroke="#ab0014" stroke-width="1.45"/>
<line x1="491.71" y1="568.84" x2="491.71" y2="575.50" stroke="#ab0014" stroke-width="1.45"/>
<line x1="488.81" y1="556.88" x2="494.61" y2="556.88" stroke="#ab0014" stroke-width="1.7"/>
<line x1="488.81" y1="575.50" x2="494.61" y2="575.50" stroke="#ab0014" stroke-width="1.7"/>
<rect x="489.06" y="563.54" width="5.3" height="5.3" fill="none" stroke="#ab0014" stroke-width="2.1"/>
<line x1="503.68" y1="517.04" x2="503.68" y2="522.58" stroke="#ab0014" stroke-width="1.45"/>
<line x1="503.68" y1="527.88" x2="503.68" y2="533.43" stroke="#ab0014" stroke-width="1.45"/>
<line x1="500.78" y1="517.04" x2="506.58" y2="517.04" stroke="#ab0014" stroke-width="1.7"/>
<line x1="500.78" y1="533.43" x2="506.58" y2="533.43" stroke="#ab0014" stroke-width="1.7"/>
<rect x="501.03" y="522.58" width="5.3" height="5.3" fill="none" stroke="#ab0014" stroke-width="2.1"/>
<line x1="515.48" y1="487.26" x2="515.48" y2="490.94" stroke="#ab0014" stroke-width="1.45"/>
<line x1="515.48" y1="496.24" x2="515.48" y2="499.92" stroke="#ab0014" stroke-width="1.45"/>
<line x1="512.58" y1="487.26" x2="518.38" y2="487.26" stroke="#ab0014" stroke-width="1.7"/>
<line x1="512.58" y1="499.92" x2="518.38" y2="499.92" stroke="#ab0014" stroke-width="1.7"/>
<rect x="512.83" y="490.94" width="5.3" height="5.3" fill="none" stroke="#ab0014" stroke-width="2.1"/>
<line x1="527.28" y1="474.41" x2="527.28" y2="477.90" stroke="#ab0014" stroke-width="1.45"/>
<line x1="527.28" y1="483.20" x2="527.28" y2="486.70" stroke="#ab0014" stroke-width="1.45"/>
<line x1="524.38" y1="474.41" x2="530.18" y2="474.41" stroke="#ab0014" stroke-width="1.7"/>
<line x1="524.38" y1="486.70" x2="530.18" y2="486.70" stroke="#ab0014" stroke-width="1.7"/>
<rect x="524.63" y="477.90" width="5.3" height="5.3" fill="none" stroke="#ab0014" stroke-width="2.1"/>
<line x1="538.73" y1="471.25" x2="538.73" y2="475.11" stroke="#ab0014" stroke-width="1.45"/>
<line x1="538.73" y1="480.41" x2="538.73" y2="484.28" stroke="#ab0014" stroke-width="1.45"/>
<line x1="535.83" y1="471.25" x2="541.63" y2="471.25" stroke="#ab0014" stroke-width="1.7"/>
<line x1="535.83" y1="484.28" x2="541.63" y2="484.28" stroke="#ab0014" stroke-width="1.7"/>
<rect x="536.08" y="475.11" width="5.3" height="5.3" fill="none" stroke="#ab0014" stroke-width="2.1"/>
<line x1="551.22" y1="481.30" x2="551.22" y2="484.79" stroke="#ab0014" stroke-width="1.45"/>
<line x1="551.22" y1="490.09" x2="551.22" y2="493.59" stroke="#ab0014" stroke-width="1.45"/>
<line x1="548.32" y1="481.30" x2="554.12" y2="481.30" stroke="#ab0014" stroke-width="1.7"/>
<line x1="548.32" y1="493.59" x2="554.12" y2="493.59" stroke="#ab0014" stroke-width="1.7"/>
<rect x="548.57" y="484.79" width="5.3" height="5.3" fill="none" stroke="#ab0014" stroke-width="2.1"/>
<line x1="563.19" y1="503.64" x2="563.19" y2="507.69" stroke="#ab0014" stroke-width="1.45"/>
<line x1="563.19" y1="512.99" x2="563.19" y2="517.04" stroke="#ab0014" stroke-width="1.45"/>
<line x1="560.29" y1="503.64" x2="566.09" y2="503.64" stroke="#ab0014" stroke-width="1.7"/>
<line x1="560.29" y1="517.04" x2="566.09" y2="517.04" stroke="#ab0014" stroke-width="1.7"/>
<rect x="560.54" y="507.69" width="5.3" height="5.3" fill="none" stroke="#ab0014" stroke-width="2.1"/>
<line x1="575.16" y1="547.76" x2="575.16" y2="550.51" stroke="#ab0014" stroke-width="1.45"/>
<line x1="575.16" y1="555.81" x2="575.16" y2="558.56" stroke="#ab0014" stroke-width="1.45"/>
<line x1="572.26" y1="547.76" x2="578.06" y2="547.76" stroke="#ab0014" stroke-width="1.7"/>
<line x1="572.26" y1="558.56" x2="578.06" y2="558.56" stroke="#ab0014" stroke-width="1.7"/>
<rect x="572.51" y="550.51" width="5.3" height="5.3" fill="none" stroke="#ab0014" stroke-width="2.1"/>
<line x1="586.79" y1="592.44" x2="586.79" y2="597.05" stroke="#ab0014" stroke-width="1.45"/>
<line x1="586.79" y1="602.35" x2="586.79" y2="606.96" stroke="#ab0014" stroke-width="1.45"/>
<line x1="583.89" y1="592.44" x2="589.69" y2="592.44" stroke="#ab0014" stroke-width="1.7"/>
<line x1="583.89" y1="606.96" x2="589.69" y2="606.96" stroke="#ab0014" stroke-width="1.7"/>
<rect x="584.14" y="597.05" width="5.3" height="5.3" fill="none" stroke="#ab0014" stroke-width="2.1"/>
<line x1="598.59" y1="617.94" x2="598.59" y2="623.86" stroke="#ab0014" stroke-width="1.45"/>
<line x1="598.59" y1="629.16" x2="598.59" y2="635.07" stroke="#ab0014" stroke-width="1.45"/>
<line x1="595.69" y1="617.94" x2="601.49" y2="617.94" stroke="#ab0014" stroke-width="1.7"/>
<line x1="595.69" y1="635.07" x2="601.49" y2="635.07" stroke="#ab0014" stroke-width="1.7"/>
<rect x="595.94" y="623.86" width="5.3" height="5.3" fill="none" stroke="#ab0014" stroke-width="2.1"/>
<line x1="610.38" y1="638.80" x2="610.38" y2="643.22" stroke="#ab0014" stroke-width="1.45"/>
<line x1="610.38" y1="648.52" x2="610.38" y2="652.94" stroke="#ab0014" stroke-width="1.45"/>
<line x1="607.48" y1="638.80" x2="613.28" y2="638.80" stroke="#ab0014" stroke-width="1.7"/>
<line x1="607.48" y1="652.94" x2="613.28" y2="652.94" stroke="#ab0014" stroke-width="1.7"/>
<rect x="607.73" y="643.22" width="5.3" height="5.3" fill="none" stroke="#ab0014" stroke-width="2.1"/>
<line x1="622.18" y1="644.38" x2="622.18" y2="647.69" stroke="#ab0014" stroke-width="1.45"/>
<line x1="622.18" y1="652.99" x2="622.18" y2="656.30" stroke="#ab0014" stroke-width="1.45"/>
<line x1="619.28" y1="644.38" x2="625.08" y2="644.38" stroke="#ab0014" stroke-width="1.7"/>
<line x1="619.28" y1="656.30" x2="625.08" y2="656.30" stroke="#ab0014" stroke-width="1.7"/>
<rect x="619.53" y="647.69" width="5.3" height="5.3" fill="none" stroke="#ab0014" stroke-width="2.1"/>
<line x1="634.15" y1="646.06" x2="634.15" y2="649.18" stroke="#ab0014" stroke-width="1.45"/>
<line x1="634.15" y1="654.48" x2="634.15" y2="657.60" stroke="#ab0014" stroke-width="1.45"/>
<line x1="631.25" y1="646.06" x2="637.05" y2="646.06" stroke="#ab0014" stroke-width="1.7"/>
<line x1="631.25" y1="657.60" x2="637.05" y2="657.60" stroke="#ab0014" stroke-width="1.7"/>
<rect x="631.50" y="649.18" width="5.3" height="5.3" fill="none" stroke="#ab0014" stroke-width="2.1"/>
<line x1="646.13" y1="647.36" x2="646.13" y2="650.85" stroke="#ab0014" stroke-width="1.45"/>
<line x1="646.13" y1="656.15" x2="646.13" y2="659.65" stroke="#ab0014" stroke-width="1.45"/>
<line x1="643.23" y1="647.36" x2="649.03" y2="647.36" stroke="#ab0014" stroke-width="1.7"/>
<line x1="643.23" y1="659.65" x2="649.03" y2="659.65" stroke="#ab0014" stroke-width="1.7"/>
<rect x="643.48" y="650.85" width="5.3" height="5.3" fill="none" stroke="#ab0014" stroke-width="2.1"/>
<rect x="489.4" y="607.5" width="91.20" height="44.70" fill="#fff" stroke="#7a7a7a" stroke-width="1"/>
<text x="535.50" y="624.70" text-anchor="middle" class="bx">Single beam</text>
<text x="535.50" y="644.90" text-anchor="middle" class="bx">5 mm - Y</text>
<rect x="609.2" y="465.6" width="62.40" height="34.50" fill="#fff" stroke="#b4b4b4" stroke-width="1"/>
<line x1="611.40" y1="475.20" x2="640.00" y2="475.20" stroke="#4797cd" stroke-width="2.3" stroke-linecap="round"/>
<line x1="611.40" y1="491.60" x2="640.00" y2="491.60" stroke="#ab0014" stroke-width="2.3" stroke-linecap="round"/>
<rect x="622.80" y="488.90" width="5.4" height="5.2" fill="#ab0014"/>
<text x="644.00" y="479.60" class="lg">TPS</text>
<text x="644.00" y="495.60" class="lg">Film</text>
<line x1="397.50" y1="681.80" x2="397.50" y2="677.80" stroke="#000" stroke-width="1.8"/>
<line x1="432.20" y1="681.80" x2="432.20" y2="677.80" stroke="#000" stroke-width="1.8"/>
<line x1="466.90" y1="681.80" x2="466.90" y2="677.80" stroke="#000" stroke-width="1.8"/>
<line x1="501.60" y1="681.80" x2="501.60" y2="677.80" stroke="#000" stroke-width="1.8"/>
<line x1="536.30" y1="681.80" x2="536.30" y2="677.80" stroke="#000" stroke-width="1.8"/>
<line x1="571.00" y1="681.80" x2="571.00" y2="677.80" stroke="#000" stroke-width="1.8"/>
<line x1="605.70" y1="681.80" x2="605.70" y2="677.80" stroke="#000" stroke-width="1.8"/>
<line x1="640.40" y1="681.80" x2="640.40" y2="677.80" stroke="#000" stroke-width="1.8"/>
<line x1="675.10" y1="681.80" x2="675.10" y2="677.80" stroke="#000" stroke-width="1.8"/>
<line x1="414.85" y1="681.80" x2="414.85" y2="679.60" stroke="#000" stroke-width="1.8"/>
<line x1="449.55" y1="681.80" x2="449.55" y2="679.60" stroke="#000" stroke-width="1.8"/>
<line x1="484.25" y1="681.80" x2="484.25" y2="679.60" stroke="#000" stroke-width="1.8"/>
<line x1="518.95" y1="681.80" x2="518.95" y2="679.60" stroke="#000" stroke-width="1.8"/>
<line x1="553.65" y1="681.80" x2="553.65" y2="679.60" stroke="#000" stroke-width="1.8"/>
<line x1="588.35" y1="681.80" x2="588.35" y2="679.60" stroke="#000" stroke-width="1.8"/>
<line x1="623.05" y1="681.80" x2="623.05" y2="679.60" stroke="#000" stroke-width="1.8"/>
<line x1="657.75" y1="681.80" x2="657.75" y2="679.60" stroke="#000" stroke-width="1.8"/>
<line x1="397.50" y1="663.18" x2="401.50" y2="663.18" stroke="#000" stroke-width="1.8"/>
<line x1="397.50" y1="625.95" x2="401.50" y2="625.95" stroke="#000" stroke-width="1.8"/>
<line x1="397.50" y1="588.72" x2="401.50" y2="588.72" stroke="#000" stroke-width="1.8"/>
<line x1="397.50" y1="551.48" x2="401.50" y2="551.48" stroke="#000" stroke-width="1.8"/>
<line x1="397.50" y1="514.25" x2="401.50" y2="514.25" stroke="#000" stroke-width="1.8"/>
<line x1="397.50" y1="477.02" x2="401.50" y2="477.02" stroke="#000" stroke-width="1.8"/>
<line x1="397.50" y1="644.57" x2="399.70" y2="644.57" stroke="#000" stroke-width="1.8"/>
<line x1="397.50" y1="607.33" x2="399.70" y2="607.33" stroke="#000" stroke-width="1.8"/>
<line x1="397.50" y1="570.10" x2="399.70" y2="570.10" stroke="#000" stroke-width="1.8"/>
<line x1="397.50" y1="532.87" x2="399.70" y2="532.87" stroke="#000" stroke-width="1.8"/>
<line x1="397.50" y1="495.63" x2="399.70" y2="495.63" stroke="#000" stroke-width="1.8"/>
<rect x="397.50" y="458.40" width="277.60" height="223.40" fill="none" stroke="#000" stroke-width="1.6"/>
<text x="392.90" y="668.48" text-anchor="end" class="tk">0.0</text>
<text x="392.90" y="631.25" text-anchor="end" class="tk">0.2</text>
<text x="392.90" y="594.02" text-anchor="end" class="tk">0.4</text>
<text x="392.90" y="556.78" text-anchor="end" class="tk">0.6</text>
<text x="392.90" y="519.55" text-anchor="end" class="tk">0.8</text>
<text x="392.90" y="482.32" text-anchor="end" class="tk">1.0</text>
<text x="397.50" y="698.40" text-anchor="middle" class="tk">-8</text>
<text x="432.20" y="698.40" text-anchor="middle" class="tk">-6</text>
<text x="466.90" y="698.40" text-anchor="middle" class="tk">-4</text>
<text x="501.60" y="698.40" text-anchor="middle" class="tk">-2</text>
<text x="536.30" y="698.40" text-anchor="middle" class="tk">0</text>
<text x="571.00" y="698.40" text-anchor="middle" class="tk">2</text>
<text x="605.70" y="698.40" text-anchor="middle" class="tk">4</text>
<text x="640.40" y="698.40" text-anchor="middle" class="tk">6</text>
<text x="675.10" y="698.40" text-anchor="middle" class="tk">8</text>
<text x="408.20" y="486.20" class="pl">(f)</text>
<text transform="translate(364.00,570.10) rotate(-90)" text-anchor="middle" class="tt">Norminalized Intensity</text>
<text x="536.30" y="724.50" text-anchor="middle" class="tt">Y-position (mm)</text>
<line x1="88.94" y1="738.10" x2="88.94" y2="854.60" stroke="#c9c9c9" stroke-width="1.25"/>
<line x1="123.57" y1="738.10" x2="123.57" y2="854.60" stroke="#c9c9c9" stroke-width="1.25"/>
<line x1="158.21" y1="738.10" x2="158.21" y2="854.60" stroke="#c9c9c9" stroke-width="1.25"/>
<line x1="192.85" y1="738.10" x2="192.85" y2="854.60" stroke="#c9c9c9" stroke-width="1.25"/>
<line x1="227.49" y1="738.10" x2="227.49" y2="854.60" stroke="#c9c9c9" stroke-width="1.25"/>
<line x1="262.12" y1="738.10" x2="262.12" y2="854.60" stroke="#c9c9c9" stroke-width="1.25"/>
<line x1="296.76" y1="738.10" x2="296.76" y2="854.60" stroke="#c9c9c9" stroke-width="1.25"/>
<line x1="54.30" y1="831.30" x2="331.40" y2="831.30" stroke="#c9c9c9" stroke-width="1.25"/>
<line x1="54.30" y1="784.70" x2="331.40" y2="784.70" stroke="#c9c9c9" stroke-width="1.25"/>
<line x1="79.41" y1="817.79" x2="79.41" y2="822.13" stroke="#ab0014" stroke-width="1.45"/>
<line x1="79.41" y1="827.43" x2="79.41" y2="831.77" stroke="#ab0014" stroke-width="1.45"/>
<line x1="76.51" y1="817.79" x2="82.31" y2="817.79" stroke="#ab0014" stroke-width="1.7"/>
<line x1="76.51" y1="831.77" x2="82.31" y2="831.77" stroke="#ab0014" stroke-width="1.7"/>
<rect x="76.76" y="822.13" width="5.3" height="5.3" fill="#fff" stroke="#ab0014" stroke-width="2.1"/>
<line x1="94.31" y1="813.13" x2="94.31" y2="819.80" stroke="#ab0014" stroke-width="1.45"/>
<line x1="94.31" y1="825.10" x2="94.31" y2="831.77" stroke="#ab0014" stroke-width="1.45"/>
<line x1="91.41" y1="813.13" x2="97.21" y2="813.13" stroke="#ab0014" stroke-width="1.7"/>
<line x1="91.41" y1="831.77" x2="97.21" y2="831.77" stroke="#ab0014" stroke-width="1.7"/>
<rect x="91.66" y="819.80" width="5.3" height="5.3" fill="#fff" stroke="#ab0014" stroke-width="2.1"/>
<line x1="106.60" y1="818.72" x2="106.60" y2="824.46" stroke="#ab0014" stroke-width="1.45"/>
<line x1="106.60" y1="829.76" x2="106.60" y2="835.49" stroke="#ab0014" stroke-width="1.45"/>
<line x1="103.70" y1="818.72" x2="109.50" y2="818.72" stroke="#ab0014" stroke-width="1.7"/>
<line x1="103.70" y1="835.49" x2="109.50" y2="835.49" stroke="#ab0014" stroke-width="1.7"/>
<rect x="103.95" y="824.46" width="5.3" height="5.3" fill="#fff" stroke="#ab0014" stroke-width="2.1"/>
<line x1="120.98" y1="820.58" x2="120.98" y2="827.02" stroke="#ab0014" stroke-width="1.45"/>
<line x1="120.98" y1="832.32" x2="120.98" y2="838.76" stroke="#ab0014" stroke-width="1.45"/>
<line x1="118.08" y1="820.58" x2="123.88" y2="820.58" stroke="#ab0014" stroke-width="1.7"/>
<line x1="118.08" y1="838.76" x2="123.88" y2="838.76" stroke="#ab0014" stroke-width="1.7"/>
<rect x="118.33" y="827.02" width="5.3" height="5.3" fill="#fff" stroke="#ab0014" stroke-width="2.1"/>
<line x1="133.27" y1="817.32" x2="133.27" y2="823.06" stroke="#ab0014" stroke-width="1.45"/>
<line x1="133.27" y1="828.36" x2="133.27" y2="834.10" stroke="#ab0014" stroke-width="1.45"/>
<line x1="130.37" y1="817.32" x2="136.17" y2="817.32" stroke="#ab0014" stroke-width="1.7"/>
<line x1="130.37" y1="834.10" x2="136.17" y2="834.10" stroke="#ab0014" stroke-width="1.7"/>
<rect x="130.62" y="823.06" width="5.3" height="5.3" fill="#fff" stroke="#ab0014" stroke-width="2.1"/>
<line x1="145.92" y1="821.51" x2="145.92" y2="827.49" stroke="#ab0014" stroke-width="1.45"/>
<line x1="145.92" y1="832.78" x2="145.92" y2="838.76" stroke="#ab0014" stroke-width="1.45"/>
<line x1="143.02" y1="821.51" x2="148.82" y2="821.51" stroke="#ab0014" stroke-width="1.7"/>
<line x1="143.02" y1="838.76" x2="148.82" y2="838.76" stroke="#ab0014" stroke-width="1.7"/>
<rect x="143.27" y="827.49" width="5.3" height="5.3" fill="#fff" stroke="#ab0014" stroke-width="2.1"/>
<line x1="152.67" y1="813.59" x2="152.67" y2="820.26" stroke="#ab0014" stroke-width="1.45"/>
<line x1="152.67" y1="825.56" x2="152.67" y2="832.23" stroke="#ab0014" stroke-width="1.45"/>
<line x1="149.77" y1="813.59" x2="155.57" y2="813.59" stroke="#ab0014" stroke-width="1.7"/>
<line x1="149.77" y1="832.23" x2="155.57" y2="832.23" stroke="#ab0014" stroke-width="1.7"/>
<rect x="150.02" y="820.26" width="5.3" height="5.3" fill="#fff" stroke="#ab0014" stroke-width="2.1"/>
<line x1="160.29" y1="813.13" x2="160.29" y2="820.96" stroke="#ab0014" stroke-width="1.45"/>
<line x1="160.29" y1="826.26" x2="160.29" y2="834.10" stroke="#ab0014" stroke-width="1.45"/>
<line x1="157.39" y1="813.13" x2="163.19" y2="813.13" stroke="#ab0014" stroke-width="1.7"/>
<line x1="157.39" y1="834.10" x2="163.19" y2="834.10" stroke="#ab0014" stroke-width="1.7"/>
<rect x="157.64" y="820.96" width="5.3" height="5.3" fill="#fff" stroke="#ab0014" stroke-width="2.1"/>
<line x1="172.41" y1="818.25" x2="172.41" y2="825.39" stroke="#ab0014" stroke-width="1.45"/>
<line x1="172.41" y1="830.69" x2="172.41" y2="837.82" stroke="#ab0014" stroke-width="1.45"/>
<line x1="169.51" y1="818.25" x2="175.31" y2="818.25" stroke="#ab0014" stroke-width="1.7"/>
<line x1="169.51" y1="837.82" x2="175.31" y2="837.82" stroke="#ab0014" stroke-width="1.7"/>
<rect x="169.76" y="825.39" width="5.3" height="5.3" fill="#fff" stroke="#ab0014" stroke-width="2.1"/>
<line x1="184.88" y1="822.68" x2="184.88" y2="828.65" stroke="#ab0014" stroke-width="1.45"/>
<line x1="184.88" y1="833.95" x2="184.88" y2="839.92" stroke="#ab0014" stroke-width="1.45"/>
<line x1="181.98" y1="822.68" x2="187.78" y2="822.68" stroke="#ab0014" stroke-width="1.7"/>
<line x1="181.98" y1="839.92" x2="187.78" y2="839.92" stroke="#ab0014" stroke-width="1.7"/>
<rect x="182.23" y="828.65" width="5.3" height="5.3" fill="#fff" stroke="#ab0014" stroke-width="2.1"/>
<line x1="197.35" y1="823.14" x2="197.35" y2="827.95" stroke="#ab0014" stroke-width="1.45"/>
<line x1="197.35" y1="833.25" x2="197.35" y2="838.06" stroke="#ab0014" stroke-width="1.45"/>
<line x1="194.45" y1="823.14" x2="200.25" y2="823.14" stroke="#ab0014" stroke-width="1.7"/>
<line x1="194.45" y1="838.06" x2="200.25" y2="838.06" stroke="#ab0014" stroke-width="1.7"/>
<rect x="194.70" y="827.95" width="5.3" height="5.3" fill="#fff" stroke="#ab0014" stroke-width="2.1"/>
<line x1="204.45" y1="823.15" x2="204.45" y2="828.65" stroke="#ab0014" stroke-width="1.45"/>
<line x1="204.45" y1="833.95" x2="204.45" y2="839.46" stroke="#ab0014" stroke-width="1.45"/>
<line x1="201.55" y1="823.15" x2="207.35" y2="823.15" stroke="#ab0014" stroke-width="1.7"/>
<line x1="201.55" y1="839.46" x2="207.35" y2="839.46" stroke="#ab0014" stroke-width="1.7"/>
<rect x="201.80" y="828.65" width="5.3" height="5.3" fill="#fff" stroke="#ab0014" stroke-width="2.1"/>
<line x1="215.19" y1="820.81" x2="215.19" y2="827.02" stroke="#ab0014" stroke-width="1.45"/>
<line x1="215.19" y1="832.32" x2="215.19" y2="838.52" stroke="#ab0014" stroke-width="1.45"/>
<line x1="212.29" y1="820.81" x2="218.09" y2="820.81" stroke="#ab0014" stroke-width="1.7"/>
<line x1="212.29" y1="838.52" x2="218.09" y2="838.52" stroke="#ab0014" stroke-width="1.7"/>
<rect x="212.54" y="827.02" width="5.3" height="5.3" fill="#fff" stroke="#ab0014" stroke-width="2.1"/>
<line x1="223.85" y1="811.96" x2="223.85" y2="820.26" stroke="#ab0014" stroke-width="1.45"/>
<line x1="223.85" y1="825.56" x2="223.85" y2="833.86" stroke="#ab0014" stroke-width="1.45"/>
<line x1="220.95" y1="811.96" x2="226.75" y2="811.96" stroke="#ab0014" stroke-width="1.7"/>
<line x1="220.95" y1="833.86" x2="226.75" y2="833.86" stroke="#ab0014" stroke-width="1.7"/>
<rect x="221.20" y="820.26" width="5.3" height="5.3" fill="#fff" stroke="#ab0014" stroke-width="2.1"/>
<line x1="232.51" y1="816.62" x2="232.51" y2="824.46" stroke="#ab0014" stroke-width="1.45"/>
<line x1="232.51" y1="829.76" x2="232.51" y2="837.59" stroke="#ab0014" stroke-width="1.45"/>
<line x1="229.61" y1="816.62" x2="235.41" y2="816.62" stroke="#ab0014" stroke-width="1.7"/>
<line x1="229.61" y1="837.59" x2="235.41" y2="837.59" stroke="#ab0014" stroke-width="1.7"/>
<rect x="229.86" y="824.46" width="5.3" height="5.3" fill="#fff" stroke="#ab0014" stroke-width="2.1"/>
<line x1="239.26" y1="821.51" x2="239.26" y2="827.49" stroke="#ab0014" stroke-width="1.45"/>
<line x1="239.26" y1="832.78" x2="239.26" y2="838.76" stroke="#ab0014" stroke-width="1.45"/>
<line x1="236.36" y1="821.51" x2="242.16" y2="821.51" stroke="#ab0014" stroke-width="1.7"/>
<line x1="236.36" y1="838.76" x2="242.16" y2="838.76" stroke="#ab0014" stroke-width="1.7"/>
<rect x="236.61" y="827.49" width="5.3" height="5.3" fill="#fff" stroke="#ab0014" stroke-width="2.1"/>
<line x1="251.04" y1="818.95" x2="251.04" y2="827.02" stroke="#ab0014" stroke-width="1.45"/>
<line x1="251.04" y1="832.32" x2="251.04" y2="840.39" stroke="#ab0014" stroke-width="1.45"/>
<line x1="248.14" y1="818.95" x2="253.94" y2="818.95" stroke="#ab0014" stroke-width="1.7"/>
<line x1="248.14" y1="840.39" x2="253.94" y2="840.39" stroke="#ab0014" stroke-width="1.7"/>
<rect x="248.39" y="827.02" width="5.3" height="5.3" fill="#fff" stroke="#ab0014" stroke-width="2.1"/>
<line x1="263.34" y1="819.18" x2="263.34" y2="826.09" stroke="#ab0014" stroke-width="1.45"/>
<line x1="263.34" y1="831.39" x2="263.34" y2="838.29" stroke="#ab0014" stroke-width="1.45"/>
<line x1="260.44" y1="819.18" x2="266.24" y2="819.18" stroke="#ab0014" stroke-width="1.7"/>
<line x1="260.44" y1="838.29" x2="266.24" y2="838.29" stroke="#ab0014" stroke-width="1.7"/>
<rect x="260.69" y="826.09" width="5.3" height="5.3" fill="#fff" stroke="#ab0014" stroke-width="2.1"/>
<line x1="275.29" y1="817.79" x2="275.29" y2="824.92" stroke="#ab0014" stroke-width="1.45"/>
<line x1="275.29" y1="830.22" x2="275.29" y2="837.36" stroke="#ab0014" stroke-width="1.45"/>
<line x1="272.39" y1="817.79" x2="278.19" y2="817.79" stroke="#ab0014" stroke-width="1.7"/>
<line x1="272.39" y1="837.36" x2="278.19" y2="837.36" stroke="#ab0014" stroke-width="1.7"/>
<rect x="272.64" y="824.92" width="5.3" height="5.3" fill="#fff" stroke="#ab0014" stroke-width="2.1"/>
<line x1="290.35" y1="820.35" x2="290.35" y2="827.02" stroke="#ab0014" stroke-width="1.45"/>
<line x1="290.35" y1="832.32" x2="290.35" y2="838.99" stroke="#ab0014" stroke-width="1.45"/>
<line x1="287.45" y1="820.35" x2="293.25" y2="820.35" stroke="#ab0014" stroke-width="1.7"/>
<line x1="287.45" y1="838.99" x2="293.25" y2="838.99" stroke="#ab0014" stroke-width="1.7"/>
<rect x="287.70" y="827.02" width="5.3" height="5.3" fill="#fff" stroke="#ab0014" stroke-width="2.1"/>
<line x1="302.48" y1="819.42" x2="302.48" y2="824.92" stroke="#ab0014" stroke-width="1.45"/>
<line x1="302.48" y1="830.22" x2="302.48" y2="835.73" stroke="#ab0014" stroke-width="1.45"/>
<line x1="299.58" y1="819.42" x2="305.38" y2="819.42" stroke="#ab0014" stroke-width="1.7"/>
<line x1="299.58" y1="835.73" x2="305.38" y2="835.73" stroke="#ab0014" stroke-width="1.7"/>
<rect x="299.83" y="824.92" width="5.3" height="5.3" fill="#fff" stroke="#ab0014" stroke-width="2.1"/>
<line x1="314.43" y1="821.98" x2="314.43" y2="827.02" stroke="#ab0014" stroke-width="1.45"/>
<line x1="314.43" y1="832.32" x2="314.43" y2="837.36" stroke="#ab0014" stroke-width="1.45"/>
<line x1="311.53" y1="821.98" x2="317.33" y2="821.98" stroke="#ab0014" stroke-width="1.7"/>
<line x1="311.53" y1="837.36" x2="317.33" y2="837.36" stroke="#ab0014" stroke-width="1.7"/>
<rect x="311.78" y="827.02" width="5.3" height="5.3" fill="#fff" stroke="#ab0014" stroke-width="2.1"/>
<line x1="54.30" y1="854.60" x2="54.30" y2="850.60" stroke="#000" stroke-width="1.8"/>
<line x1="88.94" y1="854.60" x2="88.94" y2="850.60" stroke="#000" stroke-width="1.8"/>
<line x1="123.57" y1="854.60" x2="123.57" y2="850.60" stroke="#000" stroke-width="1.8"/>
<line x1="158.21" y1="854.60" x2="158.21" y2="850.60" stroke="#000" stroke-width="1.8"/>
<line x1="192.85" y1="854.60" x2="192.85" y2="850.60" stroke="#000" stroke-width="1.8"/>
<line x1="227.49" y1="854.60" x2="227.49" y2="850.60" stroke="#000" stroke-width="1.8"/>
<line x1="262.12" y1="854.60" x2="262.12" y2="850.60" stroke="#000" stroke-width="1.8"/>
<line x1="296.76" y1="854.60" x2="296.76" y2="850.60" stroke="#000" stroke-width="1.8"/>
<line x1="331.40" y1="854.60" x2="331.40" y2="850.60" stroke="#000" stroke-width="1.8"/>
<line x1="71.62" y1="854.60" x2="71.62" y2="852.40" stroke="#000" stroke-width="1.8"/>
<line x1="106.26" y1="854.60" x2="106.26" y2="852.40" stroke="#000" stroke-width="1.8"/>
<line x1="140.89" y1="854.60" x2="140.89" y2="852.40" stroke="#000" stroke-width="1.8"/>
<line x1="175.53" y1="854.60" x2="175.53" y2="852.40" stroke="#000" stroke-width="1.8"/>
<line x1="210.17" y1="854.60" x2="210.17" y2="852.40" stroke="#000" stroke-width="1.8"/>
<line x1="244.81" y1="854.60" x2="244.81" y2="852.40" stroke="#000" stroke-width="1.8"/>
<line x1="279.44" y1="854.60" x2="279.44" y2="852.40" stroke="#000" stroke-width="1.8"/>
<line x1="314.08" y1="854.60" x2="314.08" y2="852.40" stroke="#000" stroke-width="1.8"/>
<line x1="54.30" y1="831.30" x2="58.30" y2="831.30" stroke="#000" stroke-width="1.8"/>
<line x1="54.30" y1="784.70" x2="58.30" y2="784.70" stroke="#000" stroke-width="1.8"/>
<line x1="54.30" y1="738.10" x2="58.30" y2="738.10" stroke="#000" stroke-width="1.8"/>
<line x1="54.30" y1="808.00" x2="56.50" y2="808.00" stroke="#000" stroke-width="1.8"/>
<line x1="54.30" y1="761.40" x2="56.50" y2="761.40" stroke="#000" stroke-width="1.8"/>
<rect x="54.30" y="738.10" width="277.10" height="116.50" fill="none" stroke="#000" stroke-width="1.6"/>
<text x="49.70" y="836.60" text-anchor="end" class="tk">0.0</text>
<text x="49.70" y="790.00" text-anchor="end" class="tk">0.2</text>
<text x="49.70" y="743.40" text-anchor="end" class="tk">0.4</text>
<text x="54.30" y="871.20" text-anchor="middle" class="tk">-8</text>
<text x="88.94" y="871.20" text-anchor="middle" class="tk">-6</text>
<text x="123.57" y="871.20" text-anchor="middle" class="tk">-4</text>
<text x="158.21" y="871.20" text-anchor="middle" class="tk">-2</text>
<text x="192.85" y="871.20" text-anchor="middle" class="tk">0</text>
<text x="227.49" y="871.20" text-anchor="middle" class="tk">2</text>
<text x="262.12" y="871.20" text-anchor="middle" class="tk">4</text>
<text x="296.76" y="871.20" text-anchor="middle" class="tk">6</text>
<text x="331.40" y="871.20" text-anchor="middle" class="tk">8</text>
<text x="65.00" y="765.90" class="pl">(g)</text>
<text transform="translate(19.70,795.80) rotate(-90)" text-anchor="middle" class="tt">Error</text>
<text x="192.85" y="897.30" text-anchor="middle" class="tt">X-position (mm)</text>
<line x1="431.70" y1="738.10" x2="431.70" y2="854.20" stroke="#c9c9c9" stroke-width="1.25"/>
<line x1="466.40" y1="738.10" x2="466.40" y2="854.20" stroke="#c9c9c9" stroke-width="1.25"/>
<line x1="501.10" y1="738.10" x2="501.10" y2="854.20" stroke="#c9c9c9" stroke-width="1.25"/>
<line x1="535.80" y1="738.10" x2="535.80" y2="854.20" stroke="#c9c9c9" stroke-width="1.25"/>
<line x1="570.50" y1="738.10" x2="570.50" y2="854.20" stroke="#c9c9c9" stroke-width="1.25"/>
<line x1="605.20" y1="738.10" x2="605.20" y2="854.20" stroke="#c9c9c9" stroke-width="1.25"/>
<line x1="639.90" y1="738.10" x2="639.90" y2="854.20" stroke="#c9c9c9" stroke-width="1.25"/>
<line x1="397.00" y1="830.98" x2="674.60" y2="830.98" stroke="#c9c9c9" stroke-width="1.25"/>
<line x1="397.00" y1="784.54" x2="674.60" y2="784.54" stroke="#c9c9c9" stroke-width="1.25"/>
<line x1="420.42" y1="812.64" x2="420.42" y2="818.58" stroke="#ab0014" stroke-width="1.45"/>
<line x1="420.42" y1="823.88" x2="420.42" y2="829.82" stroke="#ab0014" stroke-width="1.45"/>
<line x1="417.52" y1="812.64" x2="423.32" y2="812.64" stroke="#ab0014" stroke-width="1.7"/>
<line x1="417.52" y1="829.82" x2="423.32" y2="829.82" stroke="#ab0014" stroke-width="1.7"/>
<rect x="417.77" y="818.58" width="5.3" height="5.3" fill="#fff" stroke="#ab0014" stroke-width="2.1"/>
<line x1="432.22" y1="814.26" x2="432.22" y2="821.13" stroke="#ab0014" stroke-width="1.45"/>
<line x1="432.22" y1="826.43" x2="432.22" y2="833.30" stroke="#ab0014" stroke-width="1.45"/>
<line x1="429.32" y1="814.26" x2="435.12" y2="814.26" stroke="#ab0014" stroke-width="1.7"/>
<line x1="429.32" y1="833.30" x2="435.12" y2="833.30" stroke="#ab0014" stroke-width="1.7"/>
<rect x="429.57" y="821.13" width="5.3" height="5.3" fill="#fff" stroke="#ab0014" stroke-width="2.1"/>
<line x1="443.85" y1="814.26" x2="443.85" y2="819.97" stroke="#ab0014" stroke-width="1.45"/>
<line x1="443.85" y1="825.27" x2="443.85" y2="830.98" stroke="#ab0014" stroke-width="1.45"/>
<line x1="440.95" y1="814.26" x2="446.75" y2="814.26" stroke="#ab0014" stroke-width="1.7"/>
<line x1="440.95" y1="830.98" x2="446.75" y2="830.98" stroke="#ab0014" stroke-width="1.7"/>
<rect x="441.20" y="819.97" width="5.3" height="5.3" fill="#fff" stroke="#ab0014" stroke-width="2.1"/>
<line x1="455.99" y1="815.65" x2="455.99" y2="820.44" stroke="#ab0014" stroke-width="1.45"/>
<line x1="455.99" y1="825.74" x2="455.99" y2="830.52" stroke="#ab0014" stroke-width="1.45"/>
<line x1="453.09" y1="815.65" x2="458.89" y2="815.65" stroke="#ab0014" stroke-width="1.7"/>
<line x1="453.09" y1="830.52" x2="458.89" y2="830.52" stroke="#ab0014" stroke-width="1.7"/>
<rect x="453.34" y="820.44" width="5.3" height="5.3" fill="#fff" stroke="#ab0014" stroke-width="2.1"/>
<line x1="467.61" y1="815.19" x2="467.61" y2="821.83" stroke="#ab0014" stroke-width="1.45"/>
<line x1="467.61" y1="827.13" x2="467.61" y2="833.77" stroke="#ab0014" stroke-width="1.45"/>
<line x1="464.71" y1="815.19" x2="470.51" y2="815.19" stroke="#ab0014" stroke-width="1.7"/>
<line x1="464.71" y1="833.77" x2="470.51" y2="833.77" stroke="#ab0014" stroke-width="1.7"/>
<rect x="464.96" y="821.83" width="5.3" height="5.3" fill="#fff" stroke="#ab0014" stroke-width="2.1"/>
<line x1="479.41" y1="821.69" x2="479.41" y2="827.17" stroke="#ab0014" stroke-width="1.45"/>
<line x1="479.41" y1="832.47" x2="479.41" y2="837.95" stroke="#ab0014" stroke-width="1.45"/>
<line x1="476.51" y1="821.69" x2="482.31" y2="821.69" stroke="#ab0014" stroke-width="1.7"/>
<line x1="476.51" y1="837.95" x2="482.31" y2="837.95" stroke="#ab0014" stroke-width="1.7"/>
<rect x="476.76" y="827.17" width="5.3" height="5.3" fill="#fff" stroke="#ab0014" stroke-width="2.1"/>
<line x1="491.21" y1="817.74" x2="491.21" y2="826.70" stroke="#ab0014" stroke-width="1.45"/>
<line x1="491.21" y1="832.00" x2="491.21" y2="840.96" stroke="#ab0014" stroke-width="1.45"/>
<line x1="488.31" y1="817.74" x2="494.11" y2="817.74" stroke="#ab0014" stroke-width="1.7"/>
<line x1="488.31" y1="840.96" x2="494.11" y2="840.96" stroke="#ab0014" stroke-width="1.7"/>
<rect x="488.56" y="826.70" width="5.3" height="5.3" fill="#fff" stroke="#ab0014" stroke-width="2.1"/>
<line x1="503.01" y1="819.14" x2="503.01" y2="826.70" stroke="#ab0014" stroke-width="1.45"/>
<line x1="503.01" y1="832.00" x2="503.01" y2="839.57" stroke="#ab0014" stroke-width="1.45"/>
<line x1="500.11" y1="819.14" x2="505.91" y2="819.14" stroke="#ab0014" stroke-width="1.7"/>
<line x1="500.11" y1="839.57" x2="505.91" y2="839.57" stroke="#ab0014" stroke-width="1.7"/>
<rect x="500.36" y="826.70" width="5.3" height="5.3" fill="#fff" stroke="#ab0014" stroke-width="2.1"/>
<line x1="514.81" y1="821.46" x2="514.81" y2="826.70" stroke="#ab0014" stroke-width="1.45"/>
<line x1="514.81" y1="832.00" x2="514.81" y2="837.25" stroke="#ab0014" stroke-width="1.45"/>
<line x1="511.91" y1="821.46" x2="517.71" y2="821.46" stroke="#ab0014" stroke-width="1.7"/>
<line x1="511.91" y1="837.25" x2="517.71" y2="837.25" stroke="#ab0014" stroke-width="1.7"/>
<rect x="512.16" y="826.70" width="5.3" height="5.3" fill="#fff" stroke="#ab0014" stroke-width="2.1"/>
<line x1="526.78" y1="822.85" x2="526.78" y2="827.87" stroke="#ab0014" stroke-width="1.45"/>
<line x1="526.78" y1="833.17" x2="526.78" y2="838.18" stroke="#ab0014" stroke-width="1.45"/>
<line x1="523.88" y1="822.85" x2="529.68" y2="822.85" stroke="#ab0014" stroke-width="1.7"/>
<line x1="523.88" y1="838.18" x2="529.68" y2="838.18" stroke="#ab0014" stroke-width="1.7"/>
<rect x="524.13" y="827.87" width="5.3" height="5.3" fill="#fff" stroke="#ab0014" stroke-width="2.1"/>
<line x1="538.58" y1="822.39" x2="538.58" y2="827.87" stroke="#ab0014" stroke-width="1.45"/>
<line x1="538.58" y1="833.17" x2="538.58" y2="838.64" stroke="#ab0014" stroke-width="1.45"/>
<line x1="535.68" y1="822.39" x2="541.48" y2="822.39" stroke="#ab0014" stroke-width="1.7"/>
<line x1="535.68" y1="838.64" x2="541.48" y2="838.64" stroke="#ab0014" stroke-width="1.7"/>
<rect x="535.93" y="827.87" width="5.3" height="5.3" fill="#fff" stroke="#ab0014" stroke-width="2.1"/>
<line x1="550.55" y1="818.67" x2="550.55" y2="823.69" stroke="#ab0014" stroke-width="1.45"/>
<line x1="550.55" y1="828.99" x2="550.55" y2="834.00" stroke="#ab0014" stroke-width="1.45"/>
<line x1="547.65" y1="818.67" x2="553.45" y2="818.67" stroke="#ab0014" stroke-width="1.7"/>
<line x1="547.65" y1="834.00" x2="553.45" y2="834.00" stroke="#ab0014" stroke-width="1.7"/>
<rect x="547.90" y="823.69" width="5.3" height="5.3" fill="#fff" stroke="#ab0014" stroke-width="2.1"/>
<line x1="562.00" y1="809.62" x2="562.00" y2="815.33" stroke="#ab0014" stroke-width="1.45"/>
<line x1="562.00" y1="820.63" x2="562.00" y2="826.34" stroke="#ab0014" stroke-width="1.45"/>
<line x1="559.10" y1="809.62" x2="564.90" y2="809.62" stroke="#ab0014" stroke-width="1.7"/>
<line x1="559.10" y1="826.34" x2="564.90" y2="826.34" stroke="#ab0014" stroke-width="1.7"/>
<rect x="559.35" y="815.33" width="5.3" height="5.3" fill="#fff" stroke="#ab0014" stroke-width="2.1"/>
<line x1="573.97" y1="811.24" x2="573.97" y2="815.33" stroke="#ab0014" stroke-width="1.45"/>
<line x1="573.97" y1="820.63" x2="573.97" y2="824.71" stroke="#ab0014" stroke-width="1.45"/>
<line x1="571.07" y1="811.24" x2="576.87" y2="811.24" stroke="#ab0014" stroke-width="1.7"/>
<line x1="571.07" y1="824.71" x2="576.87" y2="824.71" stroke="#ab0014" stroke-width="1.7"/>
<rect x="571.32" y="815.33" width="5.3" height="5.3" fill="#fff" stroke="#ab0014" stroke-width="2.1"/>
<line x1="585.42" y1="817.28" x2="585.42" y2="823.69" stroke="#ab0014" stroke-width="1.45"/>
<line x1="585.42" y1="828.99" x2="585.42" y2="835.39" stroke="#ab0014" stroke-width="1.45"/>
<line x1="582.52" y1="817.28" x2="588.32" y2="817.28" stroke="#ab0014" stroke-width="1.7"/>
<line x1="582.52" y1="835.39" x2="588.32" y2="835.39" stroke="#ab0014" stroke-width="1.7"/>
<rect x="582.77" y="823.69" width="5.3" height="5.3" fill="#fff" stroke="#ab0014" stroke-width="2.1"/>
<line x1="597.39" y1="817.51" x2="597.39" y2="825.54" stroke="#ab0014" stroke-width="1.45"/>
<line x1="597.39" y1="830.84" x2="597.39" y2="838.87" stroke="#ab0014" stroke-width="1.45"/>
<line x1="594.49" y1="817.51" x2="600.29" y2="817.51" stroke="#ab0014" stroke-width="1.7"/>
<line x1="594.49" y1="838.87" x2="600.29" y2="838.87" stroke="#ab0014" stroke-width="1.7"/>
<rect x="594.74" y="825.54" width="5.3" height="5.3" fill="#fff" stroke="#ab0014" stroke-width="2.1"/>
<line x1="609.19" y1="820.53" x2="609.19" y2="826.70" stroke="#ab0014" stroke-width="1.45"/>
<line x1="609.19" y1="832.00" x2="609.19" y2="838.18" stroke="#ab0014" stroke-width="1.45"/>
<line x1="606.29" y1="820.53" x2="612.09" y2="820.53" stroke="#ab0014" stroke-width="1.7"/>
<line x1="606.29" y1="838.18" x2="612.09" y2="838.18" stroke="#ab0014" stroke-width="1.7"/>
<rect x="606.54" y="826.70" width="5.3" height="5.3" fill="#fff" stroke="#ab0014" stroke-width="2.1"/>
<line x1="621.51" y1="817.28" x2="621.51" y2="822.06" stroke="#ab0014" stroke-width="1.45"/>
<line x1="621.51" y1="827.36" x2="621.51" y2="832.14" stroke="#ab0014" stroke-width="1.45"/>
<line x1="618.61" y1="817.28" x2="624.41" y2="817.28" stroke="#ab0014" stroke-width="1.7"/>
<line x1="618.61" y1="832.14" x2="624.41" y2="832.14" stroke="#ab0014" stroke-width="1.7"/>
<rect x="618.86" y="822.06" width="5.3" height="5.3" fill="#fff" stroke="#ab0014" stroke-width="2.1"/>
<line x1="633.31" y1="816.12" x2="633.31" y2="820.67" stroke="#ab0014" stroke-width="1.45"/>
<line x1="633.31" y1="825.97" x2="633.31" y2="830.52" stroke="#ab0014" stroke-width="1.45"/>
<line x1="630.41" y1="816.12" x2="636.21" y2="816.12" stroke="#ab0014" stroke-width="1.7"/>
<line x1="630.41" y1="830.52" x2="636.21" y2="830.52" stroke="#ab0014" stroke-width="1.7"/>
<rect x="630.66" y="820.67" width="5.3" height="5.3" fill="#fff" stroke="#ab0014" stroke-width="2.1"/>
<line x1="644.93" y1="816.12" x2="644.93" y2="821.13" stroke="#ab0014" stroke-width="1.45"/>
<line x1="644.93" y1="826.43" x2="644.93" y2="831.44" stroke="#ab0014" stroke-width="1.45"/>
<line x1="642.03" y1="816.12" x2="647.83" y2="816.12" stroke="#ab0014" stroke-width="1.7"/>
<line x1="642.03" y1="831.44" x2="647.83" y2="831.44" stroke="#ab0014" stroke-width="1.7"/>
<rect x="642.28" y="821.13" width="5.3" height="5.3" fill="#fff" stroke="#ab0014" stroke-width="2.1"/>
<line x1="397.00" y1="854.20" x2="397.00" y2="850.20" stroke="#000" stroke-width="1.8"/>
<line x1="431.70" y1="854.20" x2="431.70" y2="850.20" stroke="#000" stroke-width="1.8"/>
<line x1="466.40" y1="854.20" x2="466.40" y2="850.20" stroke="#000" stroke-width="1.8"/>
<line x1="501.10" y1="854.20" x2="501.10" y2="850.20" stroke="#000" stroke-width="1.8"/>
<line x1="535.80" y1="854.20" x2="535.80" y2="850.20" stroke="#000" stroke-width="1.8"/>
<line x1="570.50" y1="854.20" x2="570.50" y2="850.20" stroke="#000" stroke-width="1.8"/>
<line x1="605.20" y1="854.20" x2="605.20" y2="850.20" stroke="#000" stroke-width="1.8"/>
<line x1="639.90" y1="854.20" x2="639.90" y2="850.20" stroke="#000" stroke-width="1.8"/>
<line x1="674.60" y1="854.20" x2="674.60" y2="850.20" stroke="#000" stroke-width="1.8"/>
<line x1="414.35" y1="854.20" x2="414.35" y2="852.00" stroke="#000" stroke-width="1.8"/>
<line x1="449.05" y1="854.20" x2="449.05" y2="852.00" stroke="#000" stroke-width="1.8"/>
<line x1="483.75" y1="854.20" x2="483.75" y2="852.00" stroke="#000" stroke-width="1.8"/>
<line x1="518.45" y1="854.20" x2="518.45" y2="852.00" stroke="#000" stroke-width="1.8"/>
<line x1="553.15" y1="854.20" x2="553.15" y2="852.00" stroke="#000" stroke-width="1.8"/>
<line x1="587.85" y1="854.20" x2="587.85" y2="852.00" stroke="#000" stroke-width="1.8"/>
<line x1="622.55" y1="854.20" x2="622.55" y2="852.00" stroke="#000" stroke-width="1.8"/>
<line x1="657.25" y1="854.20" x2="657.25" y2="852.00" stroke="#000" stroke-width="1.8"/>
<line x1="397.00" y1="830.98" x2="401.00" y2="830.98" stroke="#000" stroke-width="1.8"/>
<line x1="397.00" y1="784.54" x2="401.00" y2="784.54" stroke="#000" stroke-width="1.8"/>
<line x1="397.00" y1="738.10" x2="401.00" y2="738.10" stroke="#000" stroke-width="1.8"/>
<line x1="397.00" y1="807.76" x2="399.20" y2="807.76" stroke="#000" stroke-width="1.8"/>
<line x1="397.00" y1="761.32" x2="399.20" y2="761.32" stroke="#000" stroke-width="1.8"/>
<rect x="397.00" y="738.10" width="277.60" height="116.10" fill="none" stroke="#000" stroke-width="1.6"/>
<text x="392.40" y="836.28" text-anchor="end" class="tk">0.0</text>
<text x="392.40" y="789.84" text-anchor="end" class="tk">0.2</text>
<text x="392.40" y="743.40" text-anchor="end" class="tk">0.4</text>
<text x="397.00" y="870.80" text-anchor="middle" class="tk">-8</text>
<text x="431.70" y="870.80" text-anchor="middle" class="tk">-6</text>
<text x="466.40" y="870.80" text-anchor="middle" class="tk">-4</text>
<text x="501.10" y="870.80" text-anchor="middle" class="tk">-2</text>
<text x="535.80" y="870.80" text-anchor="middle" class="tk">0</text>
<text x="570.50" y="870.80" text-anchor="middle" class="tk">2</text>
<text x="605.20" y="870.80" text-anchor="middle" class="tk">4</text>
<text x="639.90" y="870.80" text-anchor="middle" class="tk">6</text>
<text x="674.60" y="870.80" text-anchor="middle" class="tk">8</text>
<text x="407.70" y="765.90" class="pl">(h)</text>
<text transform="translate(363.40,796.00) rotate(-90)" text-anchor="middle" class="tt">Error</text>
<text x="535.80" y="896.90" text-anchor="middle" class="tt">Y-position (mm)</text>
</svg>
</body></html>
